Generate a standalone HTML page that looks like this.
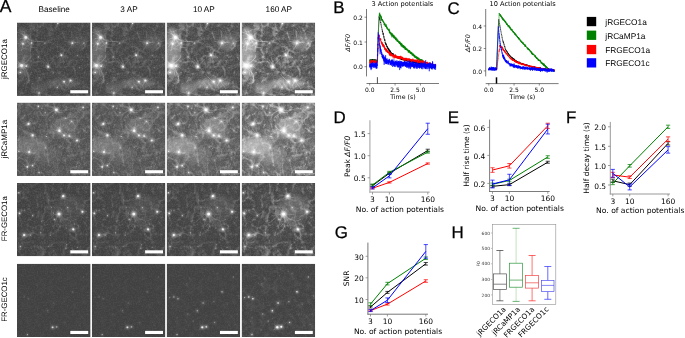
<!DOCTYPE html>
<html lang="en"><head><meta charset="utf-8"><title>Figure</title>
<style>html,body{margin:0;padding:0;background:#fff;overflow:hidden}svg{display:block;will-change:transform}</style></head>
<body><svg width="685" height="338" viewBox="0 0 685 338" text-rendering="geometricPrecision">
<rect width="685" height="338" fill="#fff"/>
<defs>
<filter id="b1" filterUnits="userSpaceOnUse" x="-40" y="-40" width="160" height="160"><feGaussianBlur stdDeviation="0.55"/></filter>
<filter id="b2" filterUnits="userSpaceOnUse" x="-40" y="-40" width="160" height="160"><feGaussianBlur stdDeviation="1.1"/></filter>
<filter id="b3" filterUnits="userSpaceOnUse" x="-40" y="-40" width="160" height="160"><feGaussianBlur stdDeviation="1.8"/></filter>
<filter id="b4" filterUnits="userSpaceOnUse" x="-40" y="-40" width="160" height="160"><feGaussianBlur stdDeviation="3.6"/></filter>
<filter id="b6" filterUnits="userSpaceOnUse" x="-40" y="-40" width="160" height="160"><feGaussianBlur stdDeviation="6"/></filter>
<filter id="nz0" x="0" y="0" width="100%" height="100%" color-interpolation-filters="sRGB"><feTurbulence type="fractalNoise" baseFrequency="0.7" numOctaves="2" seed="2"/><feColorMatrix type="matrix" values="0 0 0 0 1  0 0 0 0 1  0 0 0 0 1  0.7 0 0 0 -0.27"/></filter>
<filter id="nc0" x="0" y="0" width="100%" height="100%" color-interpolation-filters="sRGB"><feTurbulence type="fractalNoise" baseFrequency="0.22" numOctaves="3" seed="11"/><feColorMatrix type="matrix" values="0 0 0 0 1  0 0 0 0 1  0 0 0 0 1  2.0 0 0 0 -0.8"/></filter>
<filter id="nz1" x="0" y="0" width="100%" height="100%" color-interpolation-filters="sRGB"><feTurbulence type="fractalNoise" baseFrequency="0.7" numOctaves="2" seed="3"/><feColorMatrix type="matrix" values="0 0 0 0 1  0 0 0 0 1  0 0 0 0 1  0.7 0 0 0 -0.27"/></filter>
<filter id="nc1" x="0" y="0" width="100%" height="100%" color-interpolation-filters="sRGB"><feTurbulence type="fractalNoise" baseFrequency="0.22" numOctaves="3" seed="12"/><feColorMatrix type="matrix" values="0 0 0 0 1  0 0 0 0 1  0 0 0 0 1  2.0 0 0 0 -0.8"/></filter>
<filter id="nz2" x="0" y="0" width="100%" height="100%" color-interpolation-filters="sRGB"><feTurbulence type="fractalNoise" baseFrequency="0.7" numOctaves="2" seed="4"/><feColorMatrix type="matrix" values="0 0 0 0 1  0 0 0 0 1  0 0 0 0 1  0.7 0 0 0 -0.27"/></filter>
<filter id="nc2" x="0" y="0" width="100%" height="100%" color-interpolation-filters="sRGB"><feTurbulence type="fractalNoise" baseFrequency="0.22" numOctaves="3" seed="13"/><feColorMatrix type="matrix" values="0 0 0 0 1  0 0 0 0 1  0 0 0 0 1  2.0 0 0 0 -0.8"/></filter>
<filter id="nz3" x="0" y="0" width="100%" height="100%" color-interpolation-filters="sRGB"><feTurbulence type="fractalNoise" baseFrequency="0.7" numOctaves="2" seed="5"/><feColorMatrix type="matrix" values="0 0 0 0 1  0 0 0 0 1  0 0 0 0 1  0.7 0 0 0 -0.27"/></filter>
<filter id="nc3" x="0" y="0" width="100%" height="100%" color-interpolation-filters="sRGB"><feTurbulence type="fractalNoise" baseFrequency="0.22" numOctaves="3" seed="14"/><feColorMatrix type="matrix" values="0 0 0 0 1  0 0 0 0 1  0 0 0 0 1  2.0 0 0 0 -0.8"/></filter>
<filter id="wb0" x="0" y="0" width="100%" height="100%" color-interpolation-filters="sRGB"><feTurbulence type="turbulence" baseFrequency="0.085" numOctaves="4" seed="21"/><feColorMatrix type="matrix" values="0 0 0 0 1  0 0 0 0 1  0 0 0 0 1  -3.2 0 0 0 0.75"/><feGaussianBlur stdDeviation="0.55"/></filter>
<filter id="wb1" x="0" y="0" width="100%" height="100%" color-interpolation-filters="sRGB"><feTurbulence type="turbulence" baseFrequency="0.085" numOctaves="4" seed="28"/><feColorMatrix type="matrix" values="0 0 0 0 1  0 0 0 0 1  0 0 0 0 1  -3.2 0 0 0 0.75"/><feGaussianBlur stdDeviation="0.55"/></filter>
<filter id="wb2" x="0" y="0" width="100%" height="100%" color-interpolation-filters="sRGB"><feTurbulence type="turbulence" baseFrequency="0.085" numOctaves="4" seed="35"/><feColorMatrix type="matrix" values="0 0 0 0 1  0 0 0 0 1  0 0 0 0 1  -3.2 0 0 0 0.75"/><feGaussianBlur stdDeviation="0.55"/></filter>
<filter id="wb3" x="0" y="0" width="100%" height="100%" color-interpolation-filters="sRGB"><feTurbulence type="turbulence" baseFrequency="0.085" numOctaves="4" seed="42"/><feColorMatrix type="matrix" values="0 0 0 0 1  0 0 0 0 1  0 0 0 0 1  -3.2 0 0 0 0.75"/><feGaussianBlur stdDeviation="0.55"/></filter>
</defs>
<defs>
<clipPath id="pc"><rect x="0" y="0" width="73" height="73"/></clipPath>
<filter id="b0" filterUnits="userSpaceOnUse" x="-40" y="-40" width="160" height="160"><feGaussianBlur stdDeviation="0.65"/></filter>
<g id="neu0" fill="none" stroke="#fff" stroke-linecap="round" filter="url(#b0)">
<path d="M8.7,14.8L7.2,13.5L5.8,12.1" stroke-width="0.59" opacity="0.89"/>
<path d="M8.7,14.8L8.2,16.7L7.7,18.7" stroke-width="0.63" opacity="0.89"/>
<path d="M8.7,14.8L7.2,16.1L6.3,17.9L5.5,19.8" stroke-width="0.60" opacity="0.89"/>
<path d="M8.7,14.8L7.3,13.3L6.1,11.7L4.4,10.7L2.5,10.2L0.6,9.6L-1.4,9.3L-3.4,9.2" stroke-width="0.58" opacity="0.89"/>
<path d="M8.7,14.8L8.1,16.7L7.3,18.5L6.4,20.3L6.0,22.3L5.1,24.1L4.8,26.1L4.4,28.0" stroke-width="0.63" opacity="0.89"/>
<path d="M8.7,14.8L6.8,15.3L4.8,15.8L2.9,16.3" stroke-width="0.57" opacity="0.89"/>
<path d="M8.7,14.8L8.2,12.9L7.5,11.0L6.9,9.1" stroke-width="0.57" opacity="0.89"/>
<path d="M8.7,14.8L9.2,16.7L10.3,18.4L11.2,20.2L12.2,21.9L13.4,23.5L15.0,24.7L17.0,25.0L19.0,25.0" stroke-width="0.54" opacity="0.89"/>
<path d="M8.7,14.8L10.5,15.6L12.3,16.6L14.1,17.4L16.1,17.7" stroke-width="0.51" opacity="0.89"/>
<path d="M8.7,14.8L10.4,15.9L12.0,17.1L13.9,17.7L15.8,18.4L17.7,19.0L19.6,18.8L21.6,18.9L23.6,19.0L25.6,19.4" stroke-width="0.61" opacity="0.89"/>
<path d="M8.7,14.8L10.7,14.8L12.0,16.3L13.6,17.5L14.8,19.1L14.8,21.1L14.2,23.1L13.8,25.0L13.4,27.0L13.5,29.0" stroke-width="0.56" opacity="0.89"/>
<path d="M8.7,14.8L7.8,16.6L6.4,18.0L5.3,19.6L4.0,21.2L2.7,22.7L1.6,24.3" stroke-width="0.54" opacity="0.89"/>
<path d="M5.9,21.2L5.4,23.1L5.6,25.1L5.6,27.1" stroke-width="0.42" opacity="0.71"/>
<path d="M5.9,21.2L7.7,22.1L9.4,23.1L11.4,23.1" stroke-width="0.50" opacity="0.71"/>
<path d="M5.9,21.2L4.0,20.4L2.1,20.7L0.1,20.8L-1.8,21.5" stroke-width="0.52" opacity="0.71"/>
<path d="M5.9,21.2L7.7,20.3L9.6,19.8L11.4,18.8L13.1,17.8L14.8,16.7" stroke-width="0.52" opacity="0.71"/>
<path d="M14.4,20.5L12.8,21.7L11.2,22.9L9.5,24.0L7.9,25.1" stroke-width="0.47" opacity="0.65"/>
<path d="M14.4,20.5L14.3,18.5L13.7,16.6L13.7,14.6L12.9,12.7" stroke-width="0.50" opacity="0.65"/>
<path d="M14.4,20.5L15.9,19.2L17.4,17.8L19.2,17.1" stroke-width="0.44" opacity="0.65"/>
<path d="M14.4,20.5L14.1,18.5" stroke-width="0.42" opacity="0.65"/>
<path d="M54.9,20.5L52.9,20.1L51.0,19.6L49.1,19.0L47.1,18.6" stroke-width="0.51" opacity="0.71"/>
<path d="M54.9,20.5L54.3,22.4L53.2,24.1L52.2,25.8L50.7,27.2" stroke-width="0.46" opacity="0.71"/>
<path d="M54.9,20.5L54.3,18.6" stroke-width="0.49" opacity="0.71"/>
<path d="M54.9,20.5L54.1,22.3L53.6,24.3" stroke-width="0.43" opacity="0.71"/>
<path d="M54.9,20.5L56.9,20.1L58.8,19.6L60.8,19.5L62.8,19.5" stroke-width="0.46" opacity="0.71"/>
<path d="M66.3,20.5L66.8,22.4L67.7,24.2" stroke-width="0.41" opacity="0.62"/>
<path d="M66.3,20.5L64.4,21.1L62.6,21.9" stroke-width="0.41" opacity="0.62"/>
<path d="M66.3,20.5L64.9,22.0L64.0,23.7L63.3,25.6" stroke-width="0.44" opacity="0.62"/>
<path d="M44.0,32.6L43.0,30.8L41.5,29.6L40.3,28.0" stroke-width="0.51" opacity="0.71"/>
<path d="M44.0,32.6L43.4,30.7L43.3,28.7L43.6,26.7" stroke-width="0.44" opacity="0.71"/>
<path d="M44.0,32.6L42.3,33.7L40.3,33.6L38.5,32.8" stroke-width="0.43" opacity="0.71"/>
<path d="M44.0,32.6L44.6,34.5L45.1,36.4L46.4,38.0L47.2,39.8" stroke-width="0.43" opacity="0.71"/>
<path d="M44.0,32.6L46.0,32.6L47.9,33.3L49.7,34.1L51.3,35.4" stroke-width="0.49" opacity="0.71"/>
<path d="M21.2,34.2L22.7,35.5L23.7,37.2" stroke-width="0.43" opacity="0.62"/>
<path d="M21.2,34.2L20.9,36.2L20.9,38.2L21.0,40.2" stroke-width="0.46" opacity="0.62"/>
<path d="M21.2,34.2L19.4,35.0L17.6,36.0L15.9,37.0" stroke-width="0.41" opacity="0.62"/>
<path d="M4.6,42.8L2.6,42.4" stroke-width="0.61" opacity="0.95"/>
<path d="M4.6,42.8L3.6,41.1L2.2,39.7L0.7,38.3L-0.9,37.1L-2.5,35.9L-4.4,35.2L-6.3,34.5" stroke-width="0.59" opacity="0.95"/>
<path d="M4.6,42.8L4.6,44.8L6.1,46.2L7.3,47.8L7.8,49.7L8.1,51.7L8.6,53.6" stroke-width="0.53" opacity="0.95"/>
<path d="M4.6,42.8L6.6,42.5L8.6,42.2L10.6,42.1" stroke-width="0.59" opacity="0.95"/>
<path d="M4.6,42.8L6.2,41.6L7.7,40.3L9.4,39.2L10.9,37.9L12.4,36.5L13.5,34.9L13.7,32.9" stroke-width="0.67" opacity="0.95"/>
<path d="M4.6,42.8L2.8,41.9L0.9,41.5L-1.0,40.8L-2.6,39.6L-4.4,38.6L-6.1,37.5L-7.9,36.7L-9.2,35.2L-10.6,33.8" stroke-width="0.53" opacity="0.95"/>
<path d="M4.6,42.8L2.8,43.6L1.1,44.6L-0.9,45.2L-2.6,46.2L-4.4,47.0" stroke-width="0.56" opacity="0.95"/>
<path d="M4.6,42.8L3.1,41.5L1.8,40.0L0.0,39.0L-2.0,39.2L-3.9,39.3" stroke-width="0.68" opacity="0.95"/>
<path d="M4.6,42.8L2.6,42.4L1.0,41.3L-0.5,40.0L-2.3,39.0L-4.0,38.0L-6.0,37.9L-7.7,36.9L-8.6,35.1" stroke-width="0.55" opacity="0.95"/>
<path d="M4.6,42.8L6.4,43.7L7.9,45.0L8.8,46.8L9.6,48.6L10.0,50.6L10.3,52.6" stroke-width="0.66" opacity="0.95"/>
<path d="M4.6,42.8L2.6,43.2L0.8,44.0L-0.9,45.0L-2.5,46.2L-4.2,47.3L-5.8,48.5L-7.6,49.3" stroke-width="0.62" opacity="0.95"/>
<path d="M4.6,42.8L5.4,44.6L6.8,46.1L7.8,47.8L9.2,49.2L10.8,50.5L11.5,52.4L11.8,54.4L11.9,56.4L12.3,58.3L11.3,60.0" stroke-width="0.51" opacity="0.95"/>
<path d="M4.6,42.8L3.1,41.5L1.7,40.1L0.7,38.3L0.4,36.4L0.2,34.4L0.3,32.4L0.4,30.4" stroke-width="0.55" opacity="0.95"/>
<path d="M4.6,42.8L2.6,42.6L0.7,43.1" stroke-width="0.51" opacity="0.95"/>
<path d="M9.3,43.3L10.0,41.4" stroke-width="0.50" opacity="0.71"/>
<path d="M9.3,43.3L11.3,43.3L12.7,44.7L14.3,46.0L16.0,47.0" stroke-width="0.53" opacity="0.71"/>
<path d="M9.3,43.3L7.4,43.9L5.5,44.4" stroke-width="0.44" opacity="0.71"/>
<path d="M9.3,43.3L7.7,44.4L5.8,45.3L4.3,46.5L2.8,47.9L1.4,49.3" stroke-width="0.42" opacity="0.71"/>
<path d="M9.3,43.3L7.4,42.6L5.5,42.1L3.5,41.7L1.7,40.8L-0.1,40.0" stroke-width="0.44" opacity="0.71"/>
<path d="M31.0,44.0L30.7,42.0L30.8,40.0L30.5,38.0L29.5,36.3L29.8,34.4" stroke-width="0.46" opacity="0.74"/>
<path d="M31.0,44.0L32.8,44.9L34.4,46.1" stroke-width="0.56" opacity="0.74"/>
<path d="M31.0,44.0L32.4,42.6L33.3,40.8L34.7,39.3L36.2,38.0L37.8,36.9" stroke-width="0.49" opacity="0.74"/>
<path d="M31.0,44.0L30.5,42.1L29.7,40.2L28.3,38.8L27.3,37.1" stroke-width="0.50" opacity="0.74"/>
<path d="M31.0,44.0L31.1,42.0L31.4,40.0L31.9,38.1" stroke-width="0.53" opacity="0.74"/>
<path d="M3.4,49.7L4.3,47.9" stroke-width="0.47" opacity="0.68"/>
<path d="M3.4,49.7L1.7,50.7L-0.2,51.3" stroke-width="0.49" opacity="0.68"/>
<path d="M3.4,49.7L1.5,49.0L-0.4,49.4" stroke-width="0.51" opacity="0.68"/>
<path d="M3.4,49.7L1.4,49.3" stroke-width="0.49" opacity="0.68"/>
<path d="M46.7,58.8L47.6,60.6L47.8,62.6L48.2,64.5" stroke-width="0.54" opacity="0.74"/>
<path d="M46.7,58.8L44.9,57.9L43.4,56.6L42.0,55.2L40.6,53.7L39.4,52.1" stroke-width="0.54" opacity="0.74"/>
<path d="M46.7,58.8L44.8,59.3" stroke-width="0.49" opacity="0.74"/>
<path d="M46.7,58.8L47.5,60.6L49.4,61.3" stroke-width="0.52" opacity="0.74"/>
<path d="M46.7,58.8L47.3,60.7L48.6,62.3L50.0,63.7L51.4,65.1" stroke-width="0.54" opacity="0.74"/>
<path d="M53.1,57.6L54.9,58.6L56.3,60.0L58.1,60.8" stroke-width="0.50" opacity="0.74"/>
<path d="M53.1,57.6L51.3,56.8L49.7,55.6L47.8,55.0L45.8,54.8" stroke-width="0.45" opacity="0.74"/>
<path d="M53.1,57.6L52.2,59.4L51.5,61.2L50.5,63.0" stroke-width="0.55" opacity="0.74"/>
<path d="M53.1,57.6L53.9,59.4L55.1,61.0L56.4,62.5L57.4,64.2L58.7,65.8" stroke-width="0.54" opacity="0.74"/>
<path d="M53.1,57.6L51.9,59.2L51.0,61.0L50.1,62.8" stroke-width="0.54" opacity="0.74"/>
<path d="M53.1,57.6L55.1,57.9L57.0,57.4L58.4,56.0L59.9,54.7" stroke-width="0.53" opacity="0.74"/>
<path d="M40.1,64.5L40.7,62.6L41.5,60.8" stroke-width="0.43" opacity="0.62"/>
<path d="M40.1,64.5L41.4,63.0L42.5,61.3" stroke-width="0.46" opacity="0.62"/>
<path d="M40.1,64.5L39.3,62.7L38.1,61.0L36.8,59.5L35.5,58.0" stroke-width="0.48" opacity="0.62"/>
<path d="M40.1,64.5L39.1,66.2L38.5,68.1L37.7,70.0L36.2,71.3" stroke-width="0.40" opacity="0.62"/>
<path d="M21.9,70.2L19.9,70.4L18.0,69.9L16.0,69.5L14.1,69.0" stroke-width="0.49" opacity="0.65"/>
<path d="M21.9,70.2L21.6,72.2L21.8,74.2L22.4,76.1L23.1,78.0" stroke-width="0.49" opacity="0.65"/>
<path d="M21.9,70.2L22.8,72.0L23.2,73.9L23.8,75.9L24.6,77.7" stroke-width="0.45" opacity="0.65"/>
<path d="M21.9,70.2L23.9,69.8L25.7,70.6L27.5,71.4L29.4,72.0" stroke-width="0.50" opacity="0.65"/>
<path d="M21.9,70.2L21.8,68.2L20.7,66.5L20.2,64.6" stroke-width="0.41" opacity="0.65"/>
<path d="M27.6,20.5L29.4,19.7L31.4,19.5L33.4,20.0L35.3,19.7" stroke-width="0.40" opacity="0.59"/>
<path d="M27.6,20.5L25.8,21.4L24.3,22.7L22.5,23.6" stroke-width="0.43" opacity="0.59"/>
<path d="M27.6,20.5L26.0,21.7L25.1,23.5" stroke-width="0.45" opacity="0.59"/>
<path d="M40.5,0.7L42.3,-0.1L44.2,-0.9" stroke-width="0.43" opacity="0.65"/>
<path d="M40.5,0.7L39.5,2.4L38.3,4.1L36.9,5.5" stroke-width="0.45" opacity="0.65"/>
<path d="M40.5,0.7L40.5,2.7L39.6,4.5L38.3,6.0" stroke-width="0.46" opacity="0.65"/>
<path d="M40.5,0.7L38.8,-0.3L37.0,-1.2L35.0,-1.7" stroke-width="0.41" opacity="0.65"/>
<path d="M40.5,0.7L39.5,2.4L38.9,4.3L38.0,6.1" stroke-width="0.45" opacity="0.65"/>
<path d="M52.6,43.7L50.6,44.0L48.6,44.0L46.6,43.9L44.6,43.9L42.7,43.4L40.7,43.6L38.8,44.2L36.8,44.4" stroke-width="0.60" opacity="0.22"/>
<path d="M33.7,54.9L35.6,55.3L37.6,55.2L39.6,55.1L41.6,54.9L43.6,55.1L45.6,55.5L47.3,56.4L49.3,56.5L51.2,55.8L53.1,55.0L54.6,53.8" stroke-width="0.60" opacity="0.22"/>
<path d="M35.9,67.1L35.6,65.2L35.9,63.2L36.5,61.3L38.3,60.5" stroke-width="0.60" opacity="0.22"/>
<path d="M54.9,5.9L56.9,5.3L58.8,5.8L60.7,5.4L62.7,5.0L64.7,5.3" stroke-width="0.60" opacity="0.22"/>
<path d="M59.8,12.1L58.9,10.3L58.2,8.4L58.2,6.4L57.4,4.6L56.1,3.0L56.1,1.0L55.9,-1.0L55.1,-2.8" stroke-width="0.60" opacity="0.22"/>
<path d="M40.4,68.0L41.9,69.3L43.4,70.7L45.3,71.0L47.3,70.7L49.2,71.3" stroke-width="0.60" opacity="0.22"/>
<path d="M27.2,4.1L26.6,2.2L25.9,0.3L25.4,-1.6L26.0,-3.5L27.8,-4.2L29.8,-4.3L31.7,-3.6L33.6,-3.0L35.6,-2.8" stroke-width="0.60" opacity="0.22"/>
<path d="M48.1,17.4L47.3,15.6L46.8,13.7L46.2,11.7L45.6,9.8L45.1,7.9L43.4,6.8L41.5,6.1L39.6,5.5" stroke-width="0.60" opacity="0.22"/>
<path d="M14.0,0.5L13.5,-1.5L12.6,-3.2L12.5,-5.2L11.4,-6.9L9.8,-8.1" stroke-width="0.60" opacity="0.22"/>
<path d="M17.2,11.4L15.5,10.4L13.9,9.1L12.9,7.4L11.9,5.6L11.1,3.8L9.5,2.6L8.0,1.3L6.4,0.0L5.0,-1.4L3.1,-2.1L1.2,-2.8" stroke-width="0.60" opacity="0.22"/>
<path d="M13.5,70.4L15.4,69.8L17.4,69.9L19.3,69.1L21.1,68.2L23.0,67.9" stroke-width="0.60" opacity="0.22"/>
<path d="M30.9,11.2L31.9,12.9L32.7,14.7L34.2,16.1L35.9,17.0L37.3,18.5L38.5,20.1L40.2,21.2L42.0,22.0L43.8,22.8" stroke-width="0.60" opacity="0.22"/>
<path d="M31.5,53.9L31.8,55.9L32.0,57.8L31.8,59.8L30.9,61.6L29.7,63.2L28.7,64.9L27.6,66.6" stroke-width="0.60" opacity="0.22"/>
<path d="M62.1,49.3L61.0,47.6L60.1,45.8L58.8,44.3L57.8,42.6" stroke-width="0.60" opacity="0.22"/>
<path d="M21.0,58.2L21.1,60.2L22.0,62.0L22.8,63.8L24.7,64.7" stroke-width="0.60" opacity="0.22"/>
<path d="M50.6,58.9L51.9,57.3L53.3,55.9L54.6,54.4L55.5,52.6" stroke-width="0.60" opacity="0.22"/>
<path d="M45.0,31.7L44.2,33.5L43.7,35.5L42.8,37.3L41.8,39.0L40.6,40.6L39.4,42.1L38.0,43.6" stroke-width="0.60" opacity="0.22"/>
<path d="M60.3,15.7L58.8,14.3L58.0,12.5L57.5,10.6L56.7,8.8L56.2,6.8L55.0,5.2L53.5,3.8L51.5,3.9L49.5,4.0" stroke-width="0.60" opacity="0.22"/>
<path d="M14.7,18.5L16.5,17.7L18.2,16.7L19.8,15.4L20.9,13.7L21.6,11.9L22.5,10.1L23.0,8.1L24.3,6.6L25.4,5.0L26.9,3.7L28.7,2.8" stroke-width="0.60" opacity="0.22"/>
<path d="M8.1,67.5L8.7,65.6L9.5,63.7L9.5,61.7L9.2,59.8L8.7,57.8L9.1,55.8L10.5,54.4L12.0,53.1" stroke-width="0.60" opacity="0.22"/>
<path d="M60.5,18.0L59.2,16.5L57.8,15.1L56.5,13.6L55.6,11.8L54.9,9.9L53.7,8.3L52.5,6.7L51.0,5.4L49.9,3.7L49.1,1.9L48.5,-0.0" stroke-width="0.60" opacity="0.22"/>
<path d="M4.2,38.8L5.7,37.4L7.6,37.1L9.6,36.8L11.5,36.1L13.1,34.9" stroke-width="0.60" opacity="0.22"/>
<path d="M40.0,13.8L41.8,14.8L43.3,16.1L45.0,17.1L46.6,18.4L46.7,20.4" stroke-width="0.60" opacity="0.22"/>
<path d="M72.3,28.8L71.3,27.1L69.9,25.6L68.5,24.2L67.5,22.5L67.1,20.5L66.6,18.6L66.8,16.6L67.6,14.8L68.6,13.0L69.9,11.5L71.4,10.2" stroke-width="0.60" opacity="0.22"/>
<path d="M22.7,33.9L21.9,35.7L22.0,37.7L23.0,39.4L24.0,41.2L23.7,43.1L22.2,44.4L20.7,45.8L18.9,46.7" stroke-width="0.60" opacity="0.22"/>
<path d="M3.4,26.6L4.3,28.4L4.4,30.3L4.8,32.3L5.8,34.1L6.9,35.7" stroke-width="0.60" opacity="0.22"/>
</g>
<g id="sp0" fill="#fff">
<g filter="url(#b2)">
<circle cx="8.7" cy="14.8" r="2.34" opacity="0.55"/>
<circle cx="5.9" cy="21.2" r="1.56" opacity="0.50"/>
<circle cx="14.4" cy="20.5" r="1.30" opacity="0.44"/>
<circle cx="54.9" cy="20.5" r="1.56" opacity="0.50"/>
<circle cx="66.3" cy="20.5" r="1.17" opacity="0.28"/>
<circle cx="44" cy="32.6" r="1.56" opacity="0.50"/>
<circle cx="21.2" cy="34.2" r="1.17" opacity="0.28"/>
<circle cx="4.6" cy="42.8" r="2.60" opacity="0.55"/>
<circle cx="9.3" cy="43.3" r="1.56" opacity="0.44"/>
<circle cx="31" cy="44" r="1.69" opacity="0.50"/>
<circle cx="3.4" cy="49.7" r="1.43" opacity="0.44"/>
<circle cx="46.7" cy="58.8" r="1.69" opacity="0.50"/>
<circle cx="53.1" cy="57.6" r="1.69" opacity="0.50"/>
<circle cx="40.1" cy="64.5" r="1.17" opacity="0.28"/>
<circle cx="21.9" cy="70.2" r="1.30" opacity="0.44"/>
<circle cx="27.6" cy="20.5" r="1.04" opacity="0.28"/>
<circle cx="40.5" cy="0.7" r="1.30" opacity="0.44"/>
<circle cx="60" cy="33" r="1.04" opacity="0.22"/>
<circle cx="36" cy="50" r="1.04" opacity="0.19"/>
<circle cx="62" cy="45" r="1.04" opacity="0.19"/>
<circle cx="22" cy="55" r="1.04" opacity="0.22"/>
<circle cx="48.7" cy="32.7" r="0.98" opacity="0.07"/>
<circle cx="58.4" cy="37.8" r="0.77" opacity="0.07"/>
<circle cx="71.3" cy="1.4" r="0.95" opacity="0.14"/>
<circle cx="27.8" cy="33.1" r="1.01" opacity="0.10"/>
<circle cx="70.2" cy="35.1" r="0.69" opacity="0.15"/>
<circle cx="16.0" cy="37.0" r="0.77" opacity="0.15"/>
<circle cx="59.8" cy="15.4" r="0.90" opacity="0.08"/>
<circle cx="30.2" cy="7.3" r="0.70" opacity="0.09"/>
<circle cx="34.8" cy="6.0" r="0.74" opacity="0.07"/>
<circle cx="64.8" cy="36.9" r="0.72" opacity="0.16"/>
<circle cx="39.5" cy="3.7" r="0.86" opacity="0.13"/>
<circle cx="57.8" cy="55.3" r="0.75" opacity="0.16"/>
<circle cx="34.1" cy="18.2" r="0.86" opacity="0.10"/>
<circle cx="15.5" cy="60.5" r="1.01" opacity="0.15"/>
<circle cx="31.7" cy="47.5" r="0.99" opacity="0.07"/>
<circle cx="30.1" cy="42.7" r="1.03" opacity="0.14"/>
<circle cx="46.2" cy="14.4" r="0.77" opacity="0.08"/>
<circle cx="22.6" cy="47.7" r="1.03" opacity="0.07"/>
<circle cx="23.2" cy="4.2" r="0.99" opacity="0.13"/>
<circle cx="59.7" cy="60.7" r="0.72" opacity="0.11"/>
<circle cx="39.8" cy="34.6" r="0.94" opacity="0.15"/>
<circle cx="17.7" cy="7.9" r="0.88" opacity="0.09"/>
<circle cx="59.7" cy="31.3" r="0.92" opacity="0.10"/>
<circle cx="8.3" cy="20.4" r="0.72" opacity="0.09"/>
<circle cx="39.7" cy="24.1" r="0.94" opacity="0.13"/>
</g><g filter="url(#b1)">
<circle cx="8.7" cy="14.8" r="1.35" opacity="1.00"/>
<circle cx="5.9" cy="21.2" r="0.90" opacity="0.90"/>
<circle cx="14.4" cy="20.5" r="0.75" opacity="0.80"/>
<circle cx="54.9" cy="20.5" r="0.90" opacity="0.90"/>
<circle cx="66.3" cy="20.5" r="0.68" opacity="0.50"/>
<circle cx="44" cy="32.6" r="0.90" opacity="0.90"/>
<circle cx="21.2" cy="34.2" r="0.68" opacity="0.50"/>
<circle cx="4.6" cy="42.8" r="1.50" opacity="1.00"/>
<circle cx="9.3" cy="43.3" r="0.90" opacity="0.80"/>
<circle cx="31" cy="44" r="0.98" opacity="0.90"/>
<circle cx="3.4" cy="49.7" r="0.83" opacity="0.80"/>
<circle cx="46.7" cy="58.8" r="0.98" opacity="0.90"/>
<circle cx="53.1" cy="57.6" r="0.98" opacity="0.90"/>
<circle cx="40.1" cy="64.5" r="0.68" opacity="0.50"/>
<circle cx="21.9" cy="70.2" r="0.75" opacity="0.80"/>
<circle cx="27.6" cy="20.5" r="0.60" opacity="0.50"/>
<circle cx="40.5" cy="0.7" r="0.75" opacity="0.80"/>
<circle cx="60" cy="33" r="0.60" opacity="0.40"/>
<circle cx="36" cy="50" r="0.60" opacity="0.35"/>
<circle cx="62" cy="45" r="0.60" opacity="0.35"/>
<circle cx="22" cy="55" r="0.60" opacity="0.40"/>
<circle cx="48.7" cy="32.7" r="0.56" opacity="0.13"/>
<circle cx="58.4" cy="37.8" r="0.44" opacity="0.13"/>
<circle cx="71.3" cy="1.4" r="0.55" opacity="0.25"/>
<circle cx="27.8" cy="33.1" r="0.58" opacity="0.19"/>
<circle cx="70.2" cy="35.1" r="0.40" opacity="0.27"/>
<circle cx="16.0" cy="37.0" r="0.44" opacity="0.27"/>
<circle cx="59.8" cy="15.4" r="0.52" opacity="0.14"/>
<circle cx="30.2" cy="7.3" r="0.41" opacity="0.16"/>
<circle cx="34.8" cy="6.0" r="0.43" opacity="0.12"/>
<circle cx="64.8" cy="36.9" r="0.41" opacity="0.29"/>
<circle cx="39.5" cy="3.7" r="0.49" opacity="0.24"/>
<circle cx="57.8" cy="55.3" r="0.43" opacity="0.29"/>
<circle cx="34.1" cy="18.2" r="0.49" opacity="0.19"/>
<circle cx="15.5" cy="60.5" r="0.58" opacity="0.27"/>
<circle cx="31.7" cy="47.5" r="0.57" opacity="0.13"/>
<circle cx="30.1" cy="42.7" r="0.59" opacity="0.25"/>
<circle cx="46.2" cy="14.4" r="0.44" opacity="0.15"/>
<circle cx="22.6" cy="47.7" r="0.59" opacity="0.12"/>
<circle cx="23.2" cy="4.2" r="0.57" opacity="0.24"/>
<circle cx="59.7" cy="60.7" r="0.41" opacity="0.20"/>
<circle cx="39.8" cy="34.6" r="0.54" opacity="0.27"/>
<circle cx="17.7" cy="7.9" r="0.51" opacity="0.16"/>
<circle cx="59.7" cy="31.3" r="0.53" opacity="0.18"/>
<circle cx="8.3" cy="20.4" r="0.41" opacity="0.16"/>
<circle cx="39.7" cy="24.1" r="0.54" opacity="0.24"/>
</g></g>
<g id="hl0" fill="#fff" filter="url(#b2)">
<circle cx="8.7" cy="14.8" r="2.70" opacity="1.00"/>
<circle cx="5.9" cy="21.2" r="1.80" opacity="0.90"/>
<circle cx="14.4" cy="20.5" r="1.50" opacity="0.80"/>
<circle cx="54.9" cy="20.5" r="1.80" opacity="0.90"/>
<circle cx="66.3" cy="20.5" r="1.35" opacity="0.50"/>
<circle cx="44" cy="32.6" r="1.80" opacity="0.90"/>
<circle cx="21.2" cy="34.2" r="1.35" opacity="0.50"/>
<circle cx="4.6" cy="42.8" r="3.00" opacity="1.00"/>
<circle cx="9.3" cy="43.3" r="1.80" opacity="0.80"/>
<circle cx="31" cy="44" r="1.95" opacity="0.90"/>
<circle cx="3.4" cy="49.7" r="1.65" opacity="0.80"/>
<circle cx="46.7" cy="58.8" r="1.95" opacity="0.90"/>
<circle cx="53.1" cy="57.6" r="1.95" opacity="0.90"/>
<circle cx="40.1" cy="64.5" r="1.35" opacity="0.50"/>
<circle cx="21.9" cy="70.2" r="1.50" opacity="0.80"/>
<circle cx="27.6" cy="20.5" r="1.20" opacity="0.50"/>
<circle cx="40.5" cy="0.7" r="1.50" opacity="0.80"/>
</g>
<g id="bl0" fill="#fff" filter="url(#b6)">
<ellipse cx="6" cy="30" rx="8" ry="24" opacity="0.32"/>
<ellipse cx="45" cy="61" rx="18" ry="5" opacity="0.30"/>
<ellipse cx="60" cy="20" rx="9" ry="8" opacity="0.20"/>
<ellipse cx="22" cy="66" rx="8" ry="6" opacity="0.25"/>
</g>
<g id="bd0" fill="none" stroke="#fff" stroke-linecap="round" stroke-linejoin="round" filter="url(#b4)">
<path d="M2,8 L8,15 L5,30 L4,43 L8,55 L14,68" stroke-width="6" opacity="0.45"/>
<path d="M22,62 L40,60 L55,57 L66,62" stroke-width="4" opacity="0.35"/>
<path d="M8,15 L22,24 L34,30" stroke-width="3" opacity="0.30"/>
<path d="M55,20 L48,32 L44,44" stroke-width="3" opacity="0.25"/>
<path d="M4,43 L20,48 L31,44" stroke-width="3" opacity="0.30"/>
<path d="M55,20 L66,14 L73,6" stroke-width="3" opacity="0.25"/>
</g>
<g id="tb0" fill="#fff" filter="url(#b3)">
<ellipse cx="6" cy="30" rx="8" ry="24" opacity="0.32"/>
<ellipse cx="45" cy="61" rx="18" ry="5" opacity="0.30"/>
<ellipse cx="60" cy="20" rx="9" ry="8" opacity="0.20"/>
<ellipse cx="22" cy="66" rx="8" ry="6" opacity="0.25"/>
</g>
<g id="neu1" fill="none" stroke="#fff" stroke-linecap="round" filter="url(#b0)">
<path d="M39.0,7.1L38.3,5.2L37.1,3.6L36.3,1.8L35.9,-0.2" stroke-width="0.63" opacity="0.89"/>
<path d="M39.0,7.1L40.5,5.8L41.9,4.3L43.2,2.9" stroke-width="0.52" opacity="0.89"/>
<path d="M39.0,7.1L40.7,8.1L41.9,9.8" stroke-width="0.57" opacity="0.89"/>
<path d="M39.0,7.1L37.8,5.5L36.1,4.5L34.3,3.7L32.3,3.2L30.4,2.6L28.6,1.9" stroke-width="0.59" opacity="0.89"/>
<path d="M39.0,7.1L38.0,8.8L38.0,10.8" stroke-width="0.62" opacity="0.89"/>
<path d="M39.0,7.1L38.4,9.0L37.5,10.8L36.0,12.1L34.4,13.3L32.8,14.5" stroke-width="0.64" opacity="0.89"/>
<path d="M39.0,7.1L41.0,7.2L42.9,7.7L44.9,8.1L46.9,8.1L48.7,7.3L50.7,7.0L52.7,7.4" stroke-width="0.51" opacity="0.89"/>
<path d="M39.0,7.1L37.3,6.0L35.7,4.9L33.8,4.3L31.8,4.2L29.8,3.7" stroke-width="0.60" opacity="0.89"/>
<path d="M39.0,7.1L41.0,6.7L42.3,5.2" stroke-width="0.54" opacity="0.89"/>
<path d="M39.0,7.1L37.1,6.4L35.3,5.6L33.5,4.7L31.5,4.4L29.7,3.6L28.1,2.4L26.8,0.8L25.9,-0.9" stroke-width="0.52" opacity="0.89"/>
<path d="M39.0,7.1L37.1,7.7L35.2,8.5L33.6,9.5L31.8,10.5L30.4,11.9L29.9,13.9L29.4,15.8" stroke-width="0.50" opacity="0.89"/>
<path d="M39.0,7.1L39.8,9.0L41.5,9.9L43.5,10.1L45.5,10.0" stroke-width="0.61" opacity="0.89"/>
<path d="M21.2,3.6L20.7,5.5L20.7,7.5" stroke-width="0.43" opacity="0.65"/>
<path d="M21.2,3.6L19.3,3.1L17.3,2.9L15.4,2.1" stroke-width="0.48" opacity="0.65"/>
<path d="M21.2,3.6L20.8,5.6L19.5,7.1" stroke-width="0.41" opacity="0.65"/>
<path d="M21.2,3.6L19.3,2.9L17.4,2.5" stroke-width="0.50" opacity="0.65"/>
<path d="M65.6,4.8L63.6,4.5L61.8,3.7" stroke-width="0.43" opacity="0.68"/>
<path d="M65.6,4.8L64.5,6.5L63.0,7.8L61.1,8.5" stroke-width="0.47" opacity="0.68"/>
<path d="M65.6,4.8L64.1,6.1L62.2,6.8L60.3,7.4" stroke-width="0.47" opacity="0.68"/>
<path d="M65.6,4.8L67.6,5.2L69.6,5.3" stroke-width="0.51" opacity="0.68"/>
<path d="M48.0,15.5L46.0,15.1L44.2,14.4" stroke-width="0.39" opacity="0.62"/>
<path d="M48.0,15.5L46.6,14.1L45.7,12.3L45.6,10.3L46.0,8.3" stroke-width="0.46" opacity="0.62"/>
<path d="M48.0,15.5L47.2,13.7" stroke-width="0.40" opacity="0.62"/>
<path d="M11.4,21.2L12.1,19.3L12.6,17.4L13.2,15.5" stroke-width="0.44" opacity="0.77"/>
<path d="M11.4,21.2L13.4,21.3L15.3,20.8L17.3,20.6L19.0,19.6L20.5,18.3" stroke-width="0.45" opacity="0.77"/>
<path d="M11.4,21.2L9.7,22.3L7.9,23.0L6.2,24.1" stroke-width="0.44" opacity="0.77"/>
<path d="M11.4,21.2L13.4,20.8" stroke-width="0.58" opacity="0.77"/>
<path d="M11.4,21.2L13.1,20.1L14.5,18.7" stroke-width="0.58" opacity="0.77"/>
<path d="M11.4,21.2L12.3,19.4L13.1,17.6L14.5,16.2" stroke-width="0.57" opacity="0.77"/>
<path d="M54.2,18.5L55.6,19.9L56.6,21.6L57.7,23.3L58.2,25.3" stroke-width="0.45" opacity="0.62"/>
<path d="M54.2,18.5L55.4,20.1L56.3,21.9L57.0,23.8" stroke-width="0.42" opacity="0.62"/>
<path d="M54.2,18.5L56.0,19.3L57.9,19.9L59.8,20.7L61.4,21.9" stroke-width="0.40" opacity="0.62"/>
<path d="M42.1,28.0L41.4,26.1L40.0,24.7L38.4,23.6L36.8,22.4L35.3,21.0" stroke-width="0.48" opacity="0.83"/>
<path d="M42.1,28.0L41.9,26.0L42.4,24.1L43.0,22.2L43.2,20.2L42.6,18.3" stroke-width="0.58" opacity="0.83"/>
<path d="M42.1,28.0L42.4,26.0L43.1,24.2L43.3,22.2" stroke-width="0.48" opacity="0.83"/>
<path d="M42.1,28.0L40.1,28.0L38.1,27.5L36.3,26.9L35.1,25.2L33.7,23.8" stroke-width="0.62" opacity="0.83"/>
<path d="M42.1,28.0L42.1,26.0L41.4,24.1" stroke-width="0.61" opacity="0.83"/>
<path d="M42.1,28.0L40.5,29.2L38.8,30.3L36.8,30.3L34.8,30.3L32.9,29.7L31.2,28.6" stroke-width="0.51" opacity="0.83"/>
<path d="M46.7,32.6L45.6,31.0L44.1,29.6" stroke-width="0.47" opacity="0.74"/>
<path d="M46.7,32.6L48.7,33.0L50.6,32.5L52.3,31.4" stroke-width="0.54" opacity="0.74"/>
<path d="M46.7,32.6L48.2,31.2L49.8,30.1" stroke-width="0.52" opacity="0.74"/>
<path d="M46.7,32.6L48.3,33.8L49.5,35.4L50.6,37.1L51.7,38.7L53.1,40.1" stroke-width="0.43" opacity="0.74"/>
<path d="M46.7,32.6L45.4,31.1L43.5,30.3L42.0,29.0L40.1,28.3" stroke-width="0.52" opacity="0.74"/>
<path d="M51.9,33.3L50.1,34.1L48.1,33.9L46.1,33.5" stroke-width="0.49" opacity="0.68"/>
<path d="M51.9,33.3L53.9,33.5L55.9,33.6L57.9,33.6" stroke-width="0.46" opacity="0.68"/>
<path d="M51.9,33.3L50.3,32.2L48.7,30.9L46.8,30.4" stroke-width="0.44" opacity="0.68"/>
<path d="M51.9,33.3L53.5,34.5L55.1,35.7L56.2,37.4" stroke-width="0.50" opacity="0.68"/>
<path d="M51.9,33.3L50.2,34.4L48.3,35.1L46.6,36.0" stroke-width="0.42" opacity="0.68"/>
<path d="M15.5,32.6L13.6,33.4L11.8,34.0L9.8,34.5" stroke-width="0.56" opacity="0.77"/>
<path d="M15.5,32.6L14.2,34.1" stroke-width="0.49" opacity="0.77"/>
<path d="M15.5,32.6L13.9,31.4L12.4,30.0" stroke-width="0.48" opacity="0.77"/>
<path d="M15.5,32.6L14.3,31.0L13.3,29.2L11.9,27.9L10.8,26.2L10.3,24.2L9.6,22.4" stroke-width="0.46" opacity="0.77"/>
<path d="M15.5,32.6L14.7,30.8" stroke-width="0.55" opacity="0.77"/>
<path d="M15.5,32.6L13.5,32.7L11.6,31.9L9.9,31.0L8.2,29.9L6.5,28.9" stroke-width="0.48" opacity="0.77"/>
<path d="M59.5,37.6L61.5,37.8L63.5,38.2L65.5,38.1" stroke-width="0.43" opacity="0.74"/>
<path d="M59.5,37.6L59.9,39.6L60.9,41.3L61.6,43.1L62.6,44.9" stroke-width="0.51" opacity="0.74"/>
<path d="M59.5,37.6L57.6,38.1L55.7,38.9L53.8,39.5L51.9,40.0" stroke-width="0.49" opacity="0.74"/>
<path d="M59.5,37.6L57.6,38.2" stroke-width="0.46" opacity="0.74"/>
<path d="M59.5,37.6L58.0,38.9L56.2,39.8L54.2,40.2L52.3,39.8L50.5,38.8" stroke-width="0.51" opacity="0.74"/>
<path d="M59.5,37.6L61.4,37.1L63.4,36.8L65.4,36.5L67.2,35.7L69.1,34.9" stroke-width="0.46" opacity="0.74"/>
<path d="M29.2,33.7L27.2,33.5L25.2,33.5L23.3,34.0L21.3,34.1" stroke-width="0.43" opacity="0.59"/>
<path d="M29.2,33.7L27.5,32.7L25.5,32.2L23.9,31.0L22.0,30.4" stroke-width="0.40" opacity="0.59"/>
<path d="M29.2,33.7L27.3,34.5L25.7,35.6L24.3,37.0" stroke-width="0.44" opacity="0.59"/>
<path d="M29.2,33.7L31.1,34.3" stroke-width="0.39" opacity="0.59"/>
<path d="M12.1,49.2L12.9,47.4L14.1,45.8L15.1,44.1" stroke-width="0.45" opacity="0.74"/>
<path d="M12.1,49.2L12.3,47.2L12.2,45.2L11.6,43.3" stroke-width="0.50" opacity="0.74"/>
<path d="M12.1,49.2L10.1,49.4L8.2,49.9L6.2,49.5" stroke-width="0.49" opacity="0.74"/>
<path d="M12.1,49.2L14.0,49.8L15.9,50.5L17.9,50.7L19.7,51.5L21.7,51.3" stroke-width="0.53" opacity="0.74"/>
<path d="M12.1,49.2L10.1,49.0L8.1,49.0" stroke-width="0.47" opacity="0.74"/>
<path d="M1.8,48.5L3.8,48.5" stroke-width="0.42" opacity="0.62"/>
<path d="M1.8,48.5L0.4,49.9" stroke-width="0.40" opacity="0.62"/>
<path d="M1.8,48.5L2.2,46.5L2.2,44.5L2.4,42.6L3.3,40.8" stroke-width="0.40" opacity="0.62"/>
<path d="M10.3,64.0L11.1,62.2" stroke-width="0.42" opacity="0.68"/>
<path d="M10.3,64.0L8.4,63.3L6.8,62.1L5.5,60.6" stroke-width="0.50" opacity="0.68"/>
<path d="M10.3,64.0L11.0,62.1L12.0,60.4" stroke-width="0.49" opacity="0.68"/>
<path d="M10.3,64.0L10.3,66.0L10.5,68.0L10.2,70.0L9.6,71.9" stroke-width="0.50" opacity="0.68"/>
<path d="M10.3,64.0L10.9,62.1L11.7,60.3L13.1,58.8" stroke-width="0.51" opacity="0.68"/>
<path d="M15.5,62.6L14.5,64.4L13.3,65.9" stroke-width="0.43" opacity="0.65"/>
<path d="M15.5,62.6L17.0,61.2L17.5,59.3L18.6,57.7L19.9,56.1" stroke-width="0.45" opacity="0.65"/>
<path d="M15.5,62.6L17.0,63.9L18.5,65.2" stroke-width="0.41" opacity="0.65"/>
<path d="M15.5,62.6L13.5,62.7L11.7,63.5L9.7,63.4L7.7,63.4" stroke-width="0.48" opacity="0.65"/>
<path d="M21.9,69.7L20.5,68.3L18.9,67.0" stroke-width="0.42" opacity="0.62"/>
<path d="M21.9,69.7L23.4,71.0" stroke-width="0.43" opacity="0.62"/>
<path d="M21.9,69.7L21.5,67.7L21.2,65.8L21.1,63.8L19.9,62.2" stroke-width="0.39" opacity="0.62"/>
<path d="M28.0,45.0L30.0,45.2L32.0,45.4" stroke-width="0.41" opacity="0.59"/>
<path d="M28.0,45.0L28.0,43.0" stroke-width="0.39" opacity="0.59"/>
<path d="M28.0,45.0L27.8,47.0L27.3,48.9L27.1,50.9L27.4,52.9" stroke-width="0.45" opacity="0.59"/>
<path d="M28.0,45.0L26.9,46.6L26.5,48.6" stroke-width="0.43" opacity="0.59"/>
<path d="M28.0,10.0L28.0,8.0L27.6,6.0L28.1,4.1L28.8,2.2" stroke-width="0.46" opacity="0.59"/>
<path d="M28.0,10.0L26.1,10.7" stroke-width="0.39" opacity="0.59"/>
<path d="M28.0,10.0L27.2,11.8" stroke-width="0.38" opacity="0.59"/>
<path d="M30.7,4.7L31.4,2.9L32.4,1.1L33.0,-0.8L33.8,-2.7L33.5,-4.6L32.3,-6.3L31.1,-7.9" stroke-width="0.60" opacity="0.22"/>
<path d="M14.7,27.2L15.4,29.0L16.4,30.8L18.2,31.5L20.0,32.5L21.9,33.2L23.4,34.5L25.2,35.3" stroke-width="0.60" opacity="0.22"/>
<path d="M20.1,23.9L18.9,22.3L17.4,21.0L16.1,19.5L14.3,18.6" stroke-width="0.60" opacity="0.22"/>
<path d="M9.0,34.9L7.1,35.5L5.1,35.5L3.1,36.0L1.5,37.2L-0.4,37.8L-2.1,38.7L-4.0,39.6L-5.8,40.3L-7.6,41.3" stroke-width="0.60" opacity="0.22"/>
<path d="M18.5,49.6L16.5,49.5L14.6,49.9L12.6,50.1L10.7,50.8L8.8,51.4L6.9,52.1L5.0,52.7" stroke-width="0.60" opacity="0.22"/>
<path d="M37.3,29.2L36.5,31.1L34.8,32.2L33.2,33.4L31.3,33.8L29.3,34.0" stroke-width="0.60" opacity="0.22"/>
<path d="M25.1,33.6L23.7,35.1L22.7,36.8L21.3,38.3L19.9,39.7L18.2,40.8L16.2,41.0" stroke-width="0.60" opacity="0.22"/>
<path d="M9.9,48.7L8.8,47.0L7.2,45.9L5.2,45.6L3.2,45.1L1.3,44.7L-0.6,43.9L-2.5,43.3L-4.3,42.6L-6.3,42.3L-8.3,42.3" stroke-width="0.60" opacity="0.22"/>
<path d="M61.6,50.2L62.2,52.1L62.9,54.0L64.4,55.4L65.6,56.9L66.5,58.8L67.2,60.6L68.9,61.6L70.4,63.0L71.9,64.3L73.8,65.0" stroke-width="0.60" opacity="0.22"/>
<path d="M58.1,6.8L59.9,7.7L61.8,8.1L63.8,8.6L65.8,8.5L67.7,8.9L69.6,9.7L71.2,10.8L73.2,11.2L75.0,12.0L76.9,12.7" stroke-width="0.60" opacity="0.22"/>
<path d="M37.7,62.4L35.9,61.7L34.6,60.1L33.0,58.9L31.2,57.9L29.7,56.7L27.9,55.8" stroke-width="0.60" opacity="0.22"/>
<path d="M58.4,32.6L59.2,30.8L60.3,29.1L60.4,27.1L60.2,25.1L60.1,23.2L59.0,21.5L57.5,20.1" stroke-width="0.60" opacity="0.22"/>
<path d="M7.3,25.4L5.4,24.9L3.7,23.9L3.3,22.0L3.8,20.0L4.9,18.4" stroke-width="0.60" opacity="0.22"/>
<path d="M55.5,67.4L57.2,68.5L59.1,68.9L61.0,69.7L62.6,70.9L64.3,71.8L66.1,72.8L67.2,74.5L67.7,76.4L68.1,78.4L66.9,80.0" stroke-width="0.60" opacity="0.22"/>
<path d="M39.6,43.5L41.5,43.0L43.5,42.6L45.5,42.3L47.4,42.0L49.4,42.4L51.4,42.6L53.4,42.6L55.2,43.4L57.2,43.7" stroke-width="0.60" opacity="0.22"/>
<path d="M26.7,30.2L27.0,28.2L27.0,26.2L27.4,24.2L28.3,22.4" stroke-width="0.60" opacity="0.22"/>
<path d="M3.5,66.2L2.3,64.6L0.8,63.2L-1.1,62.9L-3.1,62.7L-5.0,62.0L-6.6,60.8" stroke-width="0.60" opacity="0.22"/>
<path d="M69.7,56.5L67.9,57.4L66.0,57.0L64.0,57.0L62.0,57.0L60.1,57.6L58.2,58.4" stroke-width="0.60" opacity="0.22"/>
<path d="M66.0,35.0L65.5,36.9L65.4,38.9L64.6,40.7L64.5,42.7" stroke-width="0.60" opacity="0.22"/>
<path d="M22.0,28.8L23.9,29.3L25.7,30.1L27.5,31.0L29.2,32.0L31.2,31.9L32.7,30.6" stroke-width="0.60" opacity="0.22"/>
<path d="M5.3,4.4L5.6,2.4L5.8,0.4L6.2,-1.5L7.1,-3.3L7.2,-5.3L7.4,-7.3L7.7,-9.3L9.3,-10.5L10.5,-12.1L12.0,-13.4L13.4,-14.8" stroke-width="0.60" opacity="0.22"/>
<path d="M15.3,21.3L15.5,19.3L14.8,17.4L15.5,15.6L16.2,13.7L16.2,11.7L16.9,9.8L17.3,7.9" stroke-width="0.60" opacity="0.22"/>
<path d="M16.7,4.1L18.5,5.1L20.3,5.9L22.0,6.9L22.6,8.8L23.6,10.6L24.5,12.4L26.1,13.5L27.2,15.2L27.6,17.1L28.4,19.0L28.7,21.0" stroke-width="0.60" opacity="0.22"/>
<path d="M60.0,11.3L58.0,11.3L56.2,12.0L54.3,12.8L52.6,13.8L51.0,14.9L49.1,15.8L47.1,15.9" stroke-width="0.60" opacity="0.22"/>
<path d="M59.1,37.1L59.8,35.2L60.3,33.3L61.1,31.4L61.9,29.6" stroke-width="0.60" opacity="0.22"/>
<path d="M17.6,60.9L19.2,62.1L20.4,63.6L22.0,64.9L23.9,65.6L25.8,66.3L27.7,66.8L29.6,67.4L31.5,66.8" stroke-width="0.60" opacity="0.22"/>
<path d="M60.7,38.7L59.3,40.1L58.5,42.0L57.3,43.6L56.1,45.2L54.4,46.3L53.7,48.2L53.4,50.2" stroke-width="0.60" opacity="0.22"/>
<path d="M69.0,2.3L67.4,1.0L65.5,0.6L63.8,-0.5L61.8,-1.0L59.9,-0.5" stroke-width="0.60" opacity="0.22"/>
<path d="M68.7,15.5L69.6,13.7L71.1,12.5L72.3,10.8L72.9,8.9L73.2,7.0L72.3,5.2" stroke-width="0.60" opacity="0.22"/>
<path d="M32.2,23.7L33.8,22.5L35.6,21.7L37.6,21.2L39.5,20.6L41.4,21.0L43.4,20.8" stroke-width="0.60" opacity="0.22"/>
<path d="M69.6,47.9L68.7,49.7L67.7,51.5L67.1,53.4L66.9,55.3L66.3,57.2L66.4,59.2L66.6,61.2L67.9,62.8" stroke-width="0.60" opacity="0.22"/>
<path d="M6.2,7.9L4.2,8.1L2.2,8.0L0.2,7.7L-1.6,8.4" stroke-width="0.60" opacity="0.22"/>
<path d="M53.2,38.8L53.2,40.8L51.9,42.4L51.4,44.3L50.4,46.1L49.9,48.0L48.7,49.6L47.7,51.3L46.0,52.3L44.0,52.4L42.1,52.9L40.2,53.7" stroke-width="0.60" opacity="0.22"/>
<path d="M6.0,40.6L6.8,38.8L6.6,36.8L6.8,34.8L6.6,32.8L7.3,30.9L8.2,29.2L8.3,27.2L7.8,25.2L6.7,23.6" stroke-width="0.60" opacity="0.22"/>
<path d="M71.2,5.3L70.6,7.2L70.3,9.2L69.6,11.1L68.4,12.7L67.2,14.3L65.9,15.8L65.3,17.7L64.8,19.6" stroke-width="0.60" opacity="0.22"/>
<path d="M54.8,58.7L53.6,60.3L52.5,62.0L51.9,63.9L51.1,65.7L50.3,67.6" stroke-width="0.60" opacity="0.22"/>
<path d="M17.1,1.3L15.1,1.2L13.5,-0.1L11.8,-1.1L10.0,-2.0L8.2,-2.8L6.3,-3.5" stroke-width="0.60" opacity="0.22"/>
<path d="M3.6,9.4L3.4,11.4L3.9,13.4L4.8,15.2L6.0,16.8L7.8,17.4L9.5,18.6L10.2,20.5L10.9,22.3" stroke-width="0.60" opacity="0.22"/>
<path d="M58.4,4.0L60.4,4.4L61.8,5.8L62.1,7.8L63.2,9.5L63.5,11.4L63.5,13.4L62.7,15.3L62.5,17.3L62.3,19.3L62.5,21.3L63.9,22.7" stroke-width="0.60" opacity="0.22"/>
<path d="M28.3,22.8L28.3,24.8L27.4,26.6L27.5,28.6L27.3,30.6" stroke-width="0.60" opacity="0.22"/>
</g>
<g id="sp1" fill="#fff">
<g filter="url(#b2)">
<circle cx="39" cy="7.1" r="2.34" opacity="0.55"/>
<circle cx="21.2" cy="3.6" r="1.30" opacity="0.44"/>
<circle cx="65.6" cy="4.8" r="1.43" opacity="0.44"/>
<circle cx="48" cy="15.5" r="1.17" opacity="0.28"/>
<circle cx="11.4" cy="21.2" r="1.82" opacity="0.50"/>
<circle cx="54.2" cy="18.5" r="1.17" opacity="0.28"/>
<circle cx="42.1" cy="28" r="2.08" opacity="0.55"/>
<circle cx="46.7" cy="32.6" r="1.69" opacity="0.50"/>
<circle cx="51.9" cy="33.3" r="1.43" opacity="0.44"/>
<circle cx="15.5" cy="32.6" r="1.82" opacity="0.50"/>
<circle cx="59.5" cy="37.6" r="1.69" opacity="0.50"/>
<circle cx="29.2" cy="33.7" r="1.04" opacity="0.33"/>
<circle cx="12.1" cy="49.2" r="1.69" opacity="0.50"/>
<circle cx="1.8" cy="48.5" r="1.17" opacity="0.39"/>
<circle cx="10.3" cy="64" r="1.43" opacity="0.44"/>
<circle cx="15.5" cy="62.6" r="1.30" opacity="0.39"/>
<circle cx="21.9" cy="69.7" r="1.17" opacity="0.39"/>
<circle cx="28" cy="45" r="1.04" opacity="0.28"/>
<circle cx="28" cy="10" r="1.04" opacity="0.28"/>
<circle cx="60" cy="60" r="0.91" opacity="0.22"/>
<circle cx="55.7" cy="52.4" r="0.86" opacity="0.11"/>
<circle cx="71.7" cy="7.9" r="0.81" opacity="0.10"/>
<circle cx="37.0" cy="53.4" r="0.83" opacity="0.13"/>
<circle cx="24.6" cy="6.0" r="0.94" opacity="0.17"/>
<circle cx="44.7" cy="59.6" r="0.70" opacity="0.10"/>
<circle cx="61.2" cy="44.0" r="0.85" opacity="0.17"/>
<circle cx="56.1" cy="37.1" r="0.92" opacity="0.11"/>
<circle cx="50.9" cy="27.0" r="0.90" opacity="0.15"/>
<circle cx="44.4" cy="46.7" r="0.68" opacity="0.10"/>
<circle cx="22.2" cy="63.8" r="0.91" opacity="0.10"/>
<circle cx="49.4" cy="55.7" r="1.00" opacity="0.10"/>
<circle cx="68.3" cy="16.1" r="0.72" opacity="0.15"/>
<circle cx="3.6" cy="52.7" r="0.70" opacity="0.09"/>
<circle cx="59.1" cy="63.6" r="0.95" opacity="0.17"/>
<circle cx="67.5" cy="27.9" r="0.78" opacity="0.16"/>
<circle cx="45.6" cy="45.5" r="0.92" opacity="0.16"/>
<circle cx="16.8" cy="6.4" r="0.85" opacity="0.19"/>
<circle cx="53.1" cy="11.7" r="0.68" opacity="0.15"/>
<circle cx="42.4" cy="44.8" r="0.74" opacity="0.13"/>
<circle cx="50.6" cy="11.3" r="0.73" opacity="0.13"/>
<circle cx="18.8" cy="60.8" r="0.73" opacity="0.13"/>
<circle cx="59.0" cy="3.5" r="0.91" opacity="0.08"/>
<circle cx="66.9" cy="8.4" r="0.72" opacity="0.15"/>
<circle cx="61.2" cy="29.4" r="0.83" opacity="0.18"/>
<circle cx="37.2" cy="30.9" r="0.77" opacity="0.12"/>
</g><g filter="url(#b1)">
<circle cx="39" cy="7.1" r="1.35" opacity="1.00"/>
<circle cx="21.2" cy="3.6" r="0.75" opacity="0.80"/>
<circle cx="65.6" cy="4.8" r="0.83" opacity="0.80"/>
<circle cx="48" cy="15.5" r="0.68" opacity="0.50"/>
<circle cx="11.4" cy="21.2" r="1.05" opacity="0.90"/>
<circle cx="54.2" cy="18.5" r="0.68" opacity="0.50"/>
<circle cx="42.1" cy="28" r="1.20" opacity="1.00"/>
<circle cx="46.7" cy="32.6" r="0.98" opacity="0.90"/>
<circle cx="51.9" cy="33.3" r="0.83" opacity="0.80"/>
<circle cx="15.5" cy="32.6" r="1.05" opacity="0.90"/>
<circle cx="59.5" cy="37.6" r="0.98" opacity="0.90"/>
<circle cx="29.2" cy="33.7" r="0.60" opacity="0.60"/>
<circle cx="12.1" cy="49.2" r="0.98" opacity="0.90"/>
<circle cx="1.8" cy="48.5" r="0.68" opacity="0.70"/>
<circle cx="10.3" cy="64" r="0.83" opacity="0.80"/>
<circle cx="15.5" cy="62.6" r="0.75" opacity="0.70"/>
<circle cx="21.9" cy="69.7" r="0.68" opacity="0.70"/>
<circle cx="28" cy="45" r="0.60" opacity="0.50"/>
<circle cx="28" cy="10" r="0.60" opacity="0.50"/>
<circle cx="60" cy="60" r="0.52" opacity="0.40"/>
<circle cx="55.7" cy="52.4" r="0.49" opacity="0.20"/>
<circle cx="71.7" cy="7.9" r="0.46" opacity="0.18"/>
<circle cx="37.0" cy="53.4" r="0.48" opacity="0.24"/>
<circle cx="24.6" cy="6.0" r="0.54" opacity="0.30"/>
<circle cx="44.7" cy="59.6" r="0.41" opacity="0.19"/>
<circle cx="61.2" cy="44.0" r="0.49" opacity="0.30"/>
<circle cx="56.1" cy="37.1" r="0.53" opacity="0.20"/>
<circle cx="50.9" cy="27.0" r="0.52" opacity="0.27"/>
<circle cx="44.4" cy="46.7" r="0.39" opacity="0.19"/>
<circle cx="22.2" cy="63.8" r="0.52" opacity="0.18"/>
<circle cx="49.4" cy="55.7" r="0.58" opacity="0.19"/>
<circle cx="68.3" cy="16.1" r="0.41" opacity="0.28"/>
<circle cx="3.6" cy="52.7" r="0.41" opacity="0.17"/>
<circle cx="59.1" cy="63.6" r="0.55" opacity="0.31"/>
<circle cx="67.5" cy="27.9" r="0.45" opacity="0.29"/>
<circle cx="45.6" cy="45.5" r="0.53" opacity="0.29"/>
<circle cx="16.8" cy="6.4" r="0.49" opacity="0.34"/>
<circle cx="53.1" cy="11.7" r="0.39" opacity="0.27"/>
<circle cx="42.4" cy="44.8" r="0.43" opacity="0.24"/>
<circle cx="50.6" cy="11.3" r="0.42" opacity="0.24"/>
<circle cx="18.8" cy="60.8" r="0.42" opacity="0.23"/>
<circle cx="59.0" cy="3.5" r="0.52" opacity="0.15"/>
<circle cx="66.9" cy="8.4" r="0.41" opacity="0.27"/>
<circle cx="61.2" cy="29.4" r="0.48" opacity="0.32"/>
<circle cx="37.2" cy="30.9" r="0.44" opacity="0.22"/>
</g></g>
<g id="hl1" fill="#fff" filter="url(#b2)">
<circle cx="39" cy="7.1" r="2.70" opacity="1.00"/>
<circle cx="21.2" cy="3.6" r="1.50" opacity="0.80"/>
<circle cx="65.6" cy="4.8" r="1.65" opacity="0.80"/>
<circle cx="48" cy="15.5" r="1.35" opacity="0.50"/>
<circle cx="11.4" cy="21.2" r="2.10" opacity="0.90"/>
<circle cx="54.2" cy="18.5" r="1.35" opacity="0.50"/>
<circle cx="42.1" cy="28" r="2.40" opacity="1.00"/>
<circle cx="46.7" cy="32.6" r="1.95" opacity="0.90"/>
<circle cx="51.9" cy="33.3" r="1.65" opacity="0.80"/>
<circle cx="15.5" cy="32.6" r="2.10" opacity="0.90"/>
<circle cx="59.5" cy="37.6" r="1.95" opacity="0.90"/>
<circle cx="29.2" cy="33.7" r="1.20" opacity="0.60"/>
<circle cx="12.1" cy="49.2" r="1.95" opacity="0.90"/>
<circle cx="1.8" cy="48.5" r="1.35" opacity="0.70"/>
<circle cx="10.3" cy="64" r="1.65" opacity="0.80"/>
<circle cx="15.5" cy="62.6" r="1.50" opacity="0.70"/>
<circle cx="21.9" cy="69.7" r="1.35" opacity="0.70"/>
<circle cx="28" cy="45" r="1.20" opacity="0.50"/>
<circle cx="28" cy="10" r="1.20" opacity="0.50"/>
</g>
<g id="bl1" fill="#fff" filter="url(#b6)">
<ellipse cx="14" cy="43" rx="16" ry="9" opacity="0.30"/>
<ellipse cx="48" cy="26" rx="12" ry="10" opacity="0.25"/>
<ellipse cx="30" cy="52" rx="14" ry="8" opacity="0.15"/>
</g>
<g id="bd1" fill="none" stroke="#fff" stroke-linecap="round" stroke-linejoin="round" filter="url(#b4)">
<path d="M0,46 L14,40 L30,37 L42,28 L52,18 L62,8 L70,2" stroke-width="5" opacity="0.55"/>
<path d="M2,46 L16,52 L30,58 L44,62" stroke-width="4" opacity="0.40"/>
<path d="M39,7 L30,2" stroke-width="3" opacity="0.40"/>
<path d="M42,28 L52,33 L60,38 L72,42" stroke-width="4" opacity="0.45"/>
<path d="M11,21 L15,33 L12,49 L10,64" stroke-width="3.5" opacity="0.35"/>
<path d="M39,7 L42,28" stroke-width="3" opacity="0.35"/>
<path d="M28,45 L34,60 L30,72" stroke-width="3" opacity="0.25"/>
</g>
<g id="tb1" fill="#fff" filter="url(#b3)">
<ellipse cx="14" cy="43" rx="16" ry="9" opacity="0.30"/>
<ellipse cx="48" cy="26" rx="12" ry="10" opacity="0.25"/>
<ellipse cx="30" cy="52" rx="14" ry="8" opacity="0.15"/>
</g>
<g id="neu2" fill="none" stroke="#fff" stroke-linecap="round" filter="url(#b0)">
<path d="M45.8,13.2L46.6,11.4L48.1,10.0" stroke-width="0.52" opacity="0.80"/>
<path d="M45.8,13.2L47.7,13.9L49.6,14.5L51.6,14.7" stroke-width="0.56" opacity="0.80"/>
<path d="M45.8,13.2L47.7,12.5" stroke-width="0.60" opacity="0.80"/>
<path d="M45.8,13.2L43.8,13.1L41.9,12.6L39.9,12.3L37.9,12.1" stroke-width="0.54" opacity="0.80"/>
<path d="M45.8,13.2L44.0,14.0L42.2,14.9L40.5,16.0L38.5,16.1L36.9,17.3L35.0,17.9" stroke-width="0.45" opacity="0.80"/>
<path d="M41.7,31.0L40.9,29.2L39.6,27.7L38.7,25.9L37.2,24.5L35.8,23.1" stroke-width="0.59" opacity="0.92"/>
<path d="M41.7,31.0L43.3,32.2L44.9,33.4L46.1,35.0L47.7,36.2L49.7,36.6L51.5,37.4L53.4,37.9L55.4,37.7L57.3,36.9" stroke-width="0.59" opacity="0.92"/>
<path d="M41.7,31.0L43.2,32.3L44.5,33.8L45.3,35.6L45.6,37.6L46.4,39.5L47.3,41.2L48.1,43.1L48.3,45.1" stroke-width="0.55" opacity="0.92"/>
<path d="M41.7,31.0L43.2,32.3L45.0,33.3L46.5,34.6L47.9,36.0" stroke-width="0.58" opacity="0.92"/>
<path d="M41.7,31.0L43.0,32.5L43.6,34.4L44.2,36.3L43.9,38.3L45.0,40.0L45.7,41.8L46.4,43.7" stroke-width="0.55" opacity="0.92"/>
<path d="M41.7,31.0L39.7,31.1L37.7,31.4L36.1,32.5L34.7,34.0L33.1,35.2L31.5,36.4L30.1,37.8L28.5,39.0L26.6,39.7" stroke-width="0.66" opacity="0.92"/>
<path d="M41.7,31.0L42.4,29.1L43.6,27.5L44.5,25.7" stroke-width="0.53" opacity="0.92"/>
<path d="M41.7,31.0L40.0,32.0L39.4,34.0L38.7,35.8L38.2,37.8L37.8,39.7L37.2,41.6L36.7,43.6L36.1,45.5" stroke-width="0.62" opacity="0.92"/>
<path d="M41.7,31.0L41.4,33.0L42.2,34.8L42.9,36.7L43.7,38.5L43.1,40.4L42.6,42.4L41.9,44.3L41.2,46.1L41.2,48.1" stroke-width="0.68" opacity="0.92"/>
<path d="M41.7,31.0L42.2,32.9L42.3,34.9L42.9,36.9L42.6,38.8L41.7,40.6L40.1,41.8L38.9,43.4" stroke-width="0.65" opacity="0.92"/>
<path d="M41.7,31.0L40.8,32.8L39.9,34.5L39.2,36.4" stroke-width="0.62" opacity="0.92"/>
<path d="M41.7,31.0L43.6,31.6L45.6,31.5L47.6,31.6L49.6,31.3L51.6,31.3" stroke-width="0.52" opacity="0.92"/>
<path d="M41.7,31.0L40.7,32.7L39.3,34.2" stroke-width="0.65" opacity="0.92"/>
<path d="M41.7,31.0L39.7,31.0L37.7,31.2L35.7,31.5L34.0,32.5L32.1,32.9L30.1,32.6" stroke-width="0.66" opacity="0.92"/>
<path d="M64.9,28.7L63.6,30.2L62.0,31.4L60.1,32.1L58.8,33.6L57.1,34.7" stroke-width="0.55" opacity="0.74"/>
<path d="M64.9,28.7L66.9,28.3L68.3,26.9" stroke-width="0.49" opacity="0.74"/>
<path d="M64.9,28.7L66.9,28.6L68.9,28.3" stroke-width="0.45" opacity="0.74"/>
<path d="M64.9,28.7L64.0,30.5L62.6,31.9L61.0,33.1L59.0,32.6" stroke-width="0.51" opacity="0.74"/>
<path d="M64.9,28.7L64.9,30.7L64.7,32.7L64.5,34.7L63.9,36.6" stroke-width="0.48" opacity="0.74"/>
<path d="M64.9,28.7L63.5,27.3L62.4,25.6L62.7,23.7L63.0,21.7" stroke-width="0.53" opacity="0.74"/>
<path d="M55.8,46.2L56.7,48.0L57.3,49.9L58.1,51.7L58.5,53.7L58.3,55.7" stroke-width="0.48" opacity="0.77"/>
<path d="M55.8,46.2L56.9,47.8L58.0,49.6L58.8,51.4L60.1,52.9" stroke-width="0.53" opacity="0.77"/>
<path d="M55.8,46.2L57.8,46.2L59.7,46.7" stroke-width="0.54" opacity="0.77"/>
<path d="M55.8,46.2L55.2,44.3L53.9,42.8L52.2,41.6L50.8,40.3" stroke-width="0.56" opacity="0.77"/>
<path d="M55.8,46.2L57.6,45.4L59.6,45.4L61.6,45.4" stroke-width="0.53" opacity="0.77"/>
<path d="M55.8,46.2L55.0,44.4L54.7,42.4L53.9,40.5L53.0,38.7L51.9,37.1" stroke-width="0.51" opacity="0.77"/>
<path d="M7.1,51.9L9.1,51.7L11.0,51.3L13.0,51.2L14.7,50.1L16.5,49.2" stroke-width="0.57" opacity="0.80"/>
<path d="M7.1,51.9L6.2,53.7L5.3,55.5L4.7,57.4L4.8,59.4L5.3,61.3L5.5,63.3" stroke-width="0.47" opacity="0.80"/>
<path d="M7.1,51.9L9.1,51.5L10.9,50.8L12.9,50.9L14.9,50.9L16.9,50.4" stroke-width="0.46" opacity="0.80"/>
<path d="M7.1,51.9L5.5,53.0L4.5,54.8L3.6,56.6L2.7,58.4" stroke-width="0.53" opacity="0.80"/>
<path d="M7.1,51.9L6.3,50.1L4.9,48.6L3.6,47.1" stroke-width="0.47" opacity="0.80"/>
<path d="M2.5,30.3L4.1,31.5" stroke-width="0.42" opacity="0.68"/>
<path d="M2.5,30.3L0.7,29.4L-1.1,28.6L-3.1,28.5" stroke-width="0.45" opacity="0.68"/>
<path d="M2.5,30.3L1.0,29.0L-0.7,28.0L-2.4,26.9" stroke-width="0.50" opacity="0.68"/>
<path d="M2.5,30.3L2.7,28.3L2.9,26.3" stroke-width="0.41" opacity="0.68"/>
<path d="M50.3,24.6L48.8,23.3L47.5,21.8L47.2,19.8L47.0,17.8" stroke-width="0.46" opacity="0.62"/>
<path d="M50.3,24.6L48.8,23.3L46.9,22.5L45.3,21.5L43.3,20.8" stroke-width="0.42" opacity="0.62"/>
<path d="M50.3,24.6L52.3,24.7L54.1,25.5L56.1,25.5" stroke-width="0.42" opacity="0.62"/>
<path d="M50.3,24.6L49.5,22.8L47.9,21.6" stroke-width="0.45" opacity="0.62"/>
<path d="M15.5,32.6L14.5,30.9L13.8,29.0L12.7,27.3L11.3,25.9" stroke-width="0.46" opacity="0.62"/>
<path d="M15.5,32.6L15.2,30.6L14.3,28.9L13.0,27.3L12.4,25.4" stroke-width="0.47" opacity="0.62"/>
<path d="M15.5,32.6L17.1,31.4L18.9,30.5" stroke-width="0.40" opacity="0.62"/>
<path d="M15.5,32.6L17.0,31.2L18.7,30.3L20.4,29.2" stroke-width="0.39" opacity="0.62"/>
<path d="M1.8,9.8L3.3,8.5L4.8,7.2" stroke-width="0.43" opacity="0.62"/>
<path d="M1.8,9.8L-0.2,9.7" stroke-width="0.40" opacity="0.62"/>
<path d="M1.8,9.8L0.1,8.8L-1.5,7.6L-3.1,6.3" stroke-width="0.45" opacity="0.62"/>
<path d="M37.1,36.4L37.5,38.4L38.3,40.2L39.1,42.0" stroke-width="0.40" opacity="0.62"/>
<path d="M37.1,36.4L36.8,34.4" stroke-width="0.40" opacity="0.62"/>
<path d="M37.1,36.4L38.5,37.8L40.4,38.5L42.4,38.5L44.3,38.0" stroke-width="0.46" opacity="0.62"/>
<path d="M3.4,63.3L2.7,61.4L1.7,59.7" stroke-width="0.41" opacity="0.62"/>
<path d="M3.4,63.3L2.5,65.1L1.3,66.6L-0.3,67.9" stroke-width="0.46" opacity="0.62"/>
<path d="M3.4,63.3L3.0,61.3L1.9,59.7L0.5,58.3" stroke-width="0.44" opacity="0.62"/>
<path d="M3.4,63.3L1.6,64.1L-0.3,64.9L-2.2,65.5L-4.1,66.2" stroke-width="0.47" opacity="0.62"/>
<path d="M23.5,49.7L25.3,50.5L27.1,51.4L28.8,52.5" stroke-width="0.43" opacity="0.59"/>
<path d="M23.5,49.7L23.5,47.7L24.5,45.9" stroke-width="0.45" opacity="0.59"/>
<path d="M23.5,49.7L24.7,51.3L26.3,52.5" stroke-width="0.40" opacity="0.59"/>
<path d="M23.5,49.7L23.7,51.7L24.8,53.3" stroke-width="0.39" opacity="0.59"/>
<path d="M13.2,51.9L12.2,53.6L11.9,55.6" stroke-width="0.40" opacity="0.59"/>
<path d="M13.2,51.9L14.6,53.3" stroke-width="0.43" opacity="0.59"/>
<path d="M13.2,51.9L15.1,51.3" stroke-width="0.45" opacity="0.59"/>
<path d="M40.3,12.0L38.5,12.9L37.1,14.4L35.6,15.7L34.0,17.0L32.4,18.2L30.7,19.2L30.2,21.1L30.2,23.1L30.2,25.1" stroke-width="0.60" opacity="0.22"/>
<path d="M63.1,59.3L65.1,59.3L67.1,59.4L69.0,59.9L70.8,61.0L72.2,62.4L74.0,63.1L76.0,63.5L78.0,63.5L79.9,63.1" stroke-width="0.60" opacity="0.22"/>
<path d="M20.1,15.1L20.7,13.2L22.1,11.8L23.5,10.4L24.7,8.8L26.4,7.8L28.2,6.9L30.2,6.7L32.2,6.5L33.9,7.5L34.9,9.2L36.0,10.9" stroke-width="0.60" opacity="0.22"/>
<path d="M9.8,2.1L10.4,0.2L11.7,-1.4L13.1,-2.7L14.7,-4.0L16.5,-4.8L18.3,-5.6L20.2,-6.3L22.2,-6.5" stroke-width="0.60" opacity="0.22"/>
<path d="M6.6,53.0L5.4,51.4L4.0,50.1L3.2,48.2L3.0,46.2" stroke-width="0.60" opacity="0.22"/>
<path d="M69.3,10.7L71.2,10.0L73.1,9.4L74.9,8.5L76.2,7.0L77.3,5.4" stroke-width="0.60" opacity="0.22"/>
<path d="M42.3,24.9L40.4,24.3L38.4,24.1L36.4,24.3L34.6,25.1L32.8,25.9L30.8,26.2L29.0,27.1L27.1,27.6L25.3,28.5L23.7,29.8" stroke-width="0.60" opacity="0.22"/>
<path d="M12.9,6.5L14.0,8.2L15.2,9.7L16.6,11.2L18.3,12.2" stroke-width="0.60" opacity="0.22"/>
<path d="M23.5,6.7L21.5,6.5L19.5,6.6L17.6,7.1L15.6,7.3L13.6,7.8L12.0,9.0L10.0,8.8L8.0,8.8L6.1,9.2" stroke-width="0.60" opacity="0.22"/>
<path d="M54.6,2.7L55.8,4.3L56.5,6.1L57.0,8.1L57.7,10.0L57.8,12.0L58.5,13.8L59.3,15.7L60.5,17.3L61.4,19.1L61.6,21.1" stroke-width="0.60" opacity="0.22"/>
<path d="M6.5,39.1L6.6,41.1L5.7,42.9L4.4,44.4L3.0,45.8L1.2,46.6L-0.7,47.3L-2.3,48.5L-4.3,48.9" stroke-width="0.60" opacity="0.22"/>
<path d="M31.5,9.3L30.8,11.2L29.9,13.0L28.6,14.5L27.4,16.1L27.0,18.0L26.3,19.9L25.7,21.8L25.3,23.8L26.2,25.6" stroke-width="0.60" opacity="0.22"/>
<path d="M62.1,6.4L61.3,4.6L60.9,2.6L60.8,0.6L60.6,-1.4L60.5,-3.4L60.6,-5.4L60.3,-7.3L59.6,-9.2L59.3,-11.2L59.1,-13.2L60.1,-14.9" stroke-width="0.60" opacity="0.22"/>
<path d="M20.4,56.2L20.3,58.2L20.6,60.1L20.6,62.1L20.5,64.1L19.3,65.8L17.8,67.1L16.0,67.9L14.2,68.8L12.7,70.1" stroke-width="0.60" opacity="0.22"/>
<path d="M68.0,23.4L66.1,22.8L64.2,22.3L62.5,21.3L60.6,20.7L58.9,19.5L57.0,19.0L55.2,18.2L53.8,16.7L51.8,16.5" stroke-width="0.60" opacity="0.22"/>
<path d="M25.5,67.9L26.0,65.9L26.9,64.1L27.7,62.3L28.9,60.7L30.0,59.0L31.4,57.6L32.9,56.3" stroke-width="0.60" opacity="0.22"/>
</g>
<g id="sp2" fill="#fff">
<g filter="url(#b2)">
<circle cx="45.8" cy="13.2" r="1.95" opacity="0.55"/>
<circle cx="41.7" cy="31" r="2.47" opacity="0.55"/>
<circle cx="64.9" cy="28.7" r="1.69" opacity="0.50"/>
<circle cx="55.8" cy="46.2" r="1.82" opacity="0.52"/>
<circle cx="7.1" cy="51.9" r="1.95" opacity="0.52"/>
<circle cx="2.5" cy="30.3" r="1.43" opacity="0.44"/>
<circle cx="50.3" cy="24.6" r="1.17" opacity="0.28"/>
<circle cx="15.5" cy="32.6" r="1.17" opacity="0.28"/>
<circle cx="1.8" cy="9.8" r="1.17" opacity="0.39"/>
<circle cx="37.1" cy="36.4" r="1.17" opacity="0.28"/>
<circle cx="3.4" cy="63.3" r="1.17" opacity="0.28"/>
<circle cx="23.5" cy="49.7" r="1.04" opacity="0.28"/>
<circle cx="13.2" cy="51.9" r="1.04" opacity="0.28"/>
<circle cx="33" cy="52" r="1.04" opacity="0.22"/>
<circle cx="60" cy="64" r="0.91" opacity="0.22"/>
<circle cx="24.3" cy="38.0" r="0.95" opacity="0.18"/>
<circle cx="49.2" cy="61.4" r="0.99" opacity="0.21"/>
<circle cx="4.0" cy="26.6" r="0.88" opacity="0.15"/>
<circle cx="49.2" cy="65.2" r="0.72" opacity="0.13"/>
<circle cx="68.7" cy="28.7" r="0.82" opacity="0.20"/>
<circle cx="4.0" cy="8.8" r="0.70" opacity="0.22"/>
<circle cx="7.3" cy="27.2" r="1.00" opacity="0.14"/>
<circle cx="2.7" cy="28.3" r="0.69" opacity="0.17"/>
<circle cx="34.2" cy="24.2" r="0.98" opacity="0.21"/>
<circle cx="36.2" cy="30.1" r="1.01" opacity="0.20"/>
<circle cx="61.1" cy="42.9" r="0.86" opacity="0.21"/>
<circle cx="21.7" cy="20.9" r="0.69" opacity="0.14"/>
<circle cx="37.8" cy="7.8" r="0.78" opacity="0.14"/>
<circle cx="71.2" cy="64.5" r="0.69" opacity="0.14"/>
<circle cx="56.8" cy="40.9" r="0.92" opacity="0.20"/>
<circle cx="26.3" cy="46.5" r="0.90" opacity="0.09"/>
<circle cx="48.2" cy="4.3" r="0.74" opacity="0.10"/>
<circle cx="17.5" cy="62.8" r="0.99" opacity="0.12"/>
<circle cx="68.7" cy="8.9" r="0.72" opacity="0.14"/>
<circle cx="4.9" cy="27.7" r="0.87" opacity="0.19"/>
<circle cx="55.3" cy="66.0" r="0.86" opacity="0.20"/>
<circle cx="52.4" cy="51.0" r="0.77" opacity="0.16"/>
<circle cx="58.4" cy="36.4" r="0.99" opacity="0.15"/>
<circle cx="18.9" cy="8.2" r="0.75" opacity="0.17"/>
<circle cx="33.7" cy="49.1" r="0.79" opacity="0.19"/>
<circle cx="23.8" cy="64.5" r="0.77" opacity="0.20"/>
<circle cx="31.5" cy="16.9" r="1.03" opacity="0.14"/>
<circle cx="52.1" cy="11.8" r="1.03" opacity="0.10"/>
<circle cx="63.2" cy="2.0" r="0.78" opacity="0.15"/>
<circle cx="51.9" cy="46.4" r="0.75" opacity="0.09"/>
<circle cx="7.9" cy="1.0" r="0.95" opacity="0.10"/>
<circle cx="58.8" cy="19.0" r="0.72" opacity="0.15"/>
<circle cx="53.4" cy="56.0" r="0.86" opacity="0.12"/>
<circle cx="31.1" cy="63.1" r="0.96" opacity="0.14"/>
<circle cx="50.4" cy="28.7" r="0.95" opacity="0.12"/>
<circle cx="30.5" cy="41.3" r="0.72" opacity="0.18"/>
<circle cx="48.3" cy="65.1" r="0.94" opacity="0.17"/>
<circle cx="42.7" cy="43.3" r="1.03" opacity="0.10"/>
<circle cx="64.1" cy="21.9" r="0.65" opacity="0.12"/>
<circle cx="38.3" cy="37.0" r="0.86" opacity="0.17"/>
<circle cx="3.3" cy="65.9" r="0.82" opacity="0.10"/>
<circle cx="16.8" cy="47.9" r="0.78" opacity="0.16"/>
<circle cx="68.7" cy="31.2" r="0.87" opacity="0.13"/>
<circle cx="52.7" cy="47.8" r="0.81" opacity="0.13"/>
<circle cx="48.9" cy="44.8" r="0.98" opacity="0.21"/>
</g><g filter="url(#b1)">
<circle cx="45.8" cy="13.2" r="1.12" opacity="1.00"/>
<circle cx="41.7" cy="31" r="1.42" opacity="1.00"/>
<circle cx="64.9" cy="28.7" r="0.98" opacity="0.90"/>
<circle cx="55.8" cy="46.2" r="1.05" opacity="0.95"/>
<circle cx="7.1" cy="51.9" r="1.12" opacity="0.95"/>
<circle cx="2.5" cy="30.3" r="0.83" opacity="0.80"/>
<circle cx="50.3" cy="24.6" r="0.68" opacity="0.50"/>
<circle cx="15.5" cy="32.6" r="0.68" opacity="0.50"/>
<circle cx="1.8" cy="9.8" r="0.68" opacity="0.70"/>
<circle cx="37.1" cy="36.4" r="0.68" opacity="0.50"/>
<circle cx="3.4" cy="63.3" r="0.68" opacity="0.50"/>
<circle cx="23.5" cy="49.7" r="0.60" opacity="0.50"/>
<circle cx="13.2" cy="51.9" r="0.60" opacity="0.50"/>
<circle cx="33" cy="52" r="0.60" opacity="0.40"/>
<circle cx="60" cy="64" r="0.52" opacity="0.40"/>
<circle cx="24.3" cy="38.0" r="0.55" opacity="0.33"/>
<circle cx="49.2" cy="61.4" r="0.57" opacity="0.38"/>
<circle cx="4.0" cy="26.6" r="0.51" opacity="0.27"/>
<circle cx="49.2" cy="65.2" r="0.41" opacity="0.23"/>
<circle cx="68.7" cy="28.7" r="0.47" opacity="0.37"/>
<circle cx="4.0" cy="8.8" r="0.41" opacity="0.40"/>
<circle cx="7.3" cy="27.2" r="0.58" opacity="0.25"/>
<circle cx="2.7" cy="28.3" r="0.40" opacity="0.30"/>
<circle cx="34.2" cy="24.2" r="0.56" opacity="0.38"/>
<circle cx="36.2" cy="30.1" r="0.58" opacity="0.37"/>
<circle cx="61.1" cy="42.9" r="0.49" opacity="0.39"/>
<circle cx="21.7" cy="20.9" r="0.40" opacity="0.25"/>
<circle cx="37.8" cy="7.8" r="0.45" opacity="0.26"/>
<circle cx="71.2" cy="64.5" r="0.40" opacity="0.25"/>
<circle cx="56.8" cy="40.9" r="0.53" opacity="0.36"/>
<circle cx="26.3" cy="46.5" r="0.52" opacity="0.17"/>
<circle cx="48.2" cy="4.3" r="0.43" opacity="0.18"/>
<circle cx="17.5" cy="62.8" r="0.57" opacity="0.22"/>
<circle cx="68.7" cy="8.9" r="0.41" opacity="0.26"/>
<circle cx="4.9" cy="27.7" r="0.50" opacity="0.34"/>
<circle cx="55.3" cy="66.0" r="0.49" opacity="0.36"/>
<circle cx="52.4" cy="51.0" r="0.44" opacity="0.29"/>
<circle cx="58.4" cy="36.4" r="0.57" opacity="0.28"/>
<circle cx="18.9" cy="8.2" r="0.43" opacity="0.30"/>
<circle cx="33.7" cy="49.1" r="0.46" opacity="0.34"/>
<circle cx="23.8" cy="64.5" r="0.44" opacity="0.37"/>
<circle cx="31.5" cy="16.9" r="0.59" opacity="0.25"/>
<circle cx="52.1" cy="11.8" r="0.59" opacity="0.18"/>
<circle cx="63.2" cy="2.0" r="0.45" opacity="0.27"/>
<circle cx="51.9" cy="46.4" r="0.43" opacity="0.17"/>
<circle cx="7.9" cy="1.0" r="0.55" opacity="0.18"/>
<circle cx="58.8" cy="19.0" r="0.41" opacity="0.27"/>
<circle cx="53.4" cy="56.0" r="0.49" opacity="0.22"/>
<circle cx="31.1" cy="63.1" r="0.55" opacity="0.25"/>
<circle cx="50.4" cy="28.7" r="0.55" opacity="0.22"/>
<circle cx="30.5" cy="41.3" r="0.41" opacity="0.33"/>
<circle cx="48.3" cy="65.1" r="0.54" opacity="0.31"/>
<circle cx="42.7" cy="43.3" r="0.59" opacity="0.18"/>
<circle cx="64.1" cy="21.9" r="0.38" opacity="0.21"/>
<circle cx="38.3" cy="37.0" r="0.49" opacity="0.30"/>
<circle cx="3.3" cy="65.9" r="0.47" opacity="0.19"/>
<circle cx="16.8" cy="47.9" r="0.45" opacity="0.29"/>
<circle cx="68.7" cy="31.2" r="0.50" opacity="0.23"/>
<circle cx="52.7" cy="47.8" r="0.46" opacity="0.24"/>
<circle cx="48.9" cy="44.8" r="0.56" opacity="0.39"/>
</g></g>
<g id="hl2" fill="#fff" filter="url(#b2)">
<circle cx="45.8" cy="13.2" r="2.25" opacity="1.00"/>
<circle cx="41.7" cy="31" r="2.85" opacity="1.00"/>
<circle cx="64.9" cy="28.7" r="1.95" opacity="0.90"/>
<circle cx="55.8" cy="46.2" r="2.10" opacity="0.95"/>
<circle cx="7.1" cy="51.9" r="2.25" opacity="0.95"/>
<circle cx="2.5" cy="30.3" r="1.65" opacity="0.80"/>
<circle cx="50.3" cy="24.6" r="1.35" opacity="0.50"/>
<circle cx="15.5" cy="32.6" r="1.35" opacity="0.50"/>
<circle cx="1.8" cy="9.8" r="1.35" opacity="0.70"/>
<circle cx="37.1" cy="36.4" r="1.35" opacity="0.50"/>
<circle cx="3.4" cy="63.3" r="1.35" opacity="0.50"/>
<circle cx="23.5" cy="49.7" r="1.20" opacity="0.50"/>
<circle cx="13.2" cy="51.9" r="1.20" opacity="0.50"/>
</g>
<g id="bl2" fill="#fff" filter="url(#b6)">
<ellipse cx="50" cy="26" rx="16" ry="14" opacity="0.10"/>
<ellipse cx="56" cy="20" rx="10" ry="9" opacity="0.06"/>
<ellipse cx="8" cy="52" rx="8" ry="8" opacity="0.06"/>
</g>
<g id="bd2" fill="none" stroke="#fff" stroke-linecap="round" stroke-linejoin="round" filter="url(#b4)">
<path d="M46,13 L42,30 L38,44 L30,58" stroke-width="2.5" opacity="0.35"/>
<path d="M42,31 L56,40 L56,46" stroke-width="2.5" opacity="0.30"/>
<path d="M42,31 L65,29" stroke-width="2.5" opacity="0.30"/>
<path d="M46,13 L60,4" stroke-width="2.5" opacity="0.25"/>
<path d="M7,52 L3,64" stroke-width="2.5" opacity="0.25"/>
<path d="M42,31 L28,22 L14,18" stroke-width="2" opacity="0.20"/>
</g>
<g id="tb2" fill="#fff" filter="url(#b3)">
<ellipse cx="50" cy="26" rx="16" ry="14" opacity="0.10"/>
<ellipse cx="56" cy="20" rx="10" ry="9" opacity="0.06"/>
<ellipse cx="8" cy="52" rx="8" ry="8" opacity="0.06"/>
</g>
<g id="neu3" fill="none" stroke="#fff" stroke-linecap="round" filter="url(#b0)">
<path d="M35.3,63.3L33.3,63.5" stroke-width="0.52" opacity="0.71"/>
<path d="M35.3,63.3L37.2,64.1" stroke-width="0.49" opacity="0.71"/>
<path d="M35.3,63.3L33.9,61.9L32.4,60.5" stroke-width="0.49" opacity="0.71"/>
<path d="M35.3,63.3L34.0,61.8L32.3,60.8L30.9,59.3" stroke-width="0.47" opacity="0.71"/>
<path d="M39.4,62.9L41.4,63.2L43.4,63.1L45.4,63.2" stroke-width="0.49" opacity="0.65"/>
<path d="M39.4,62.9L38.8,64.8L38.3,66.7" stroke-width="0.45" opacity="0.65"/>
<path d="M39.4,62.9L37.7,61.8L36.1,60.7L34.8,59.1L33.5,57.6" stroke-width="0.47" opacity="0.65"/>
<path d="M39.4,62.9L38.0,61.5L36.6,60.0" stroke-width="0.44" opacity="0.65"/>
<path d="M10.3,70.6L8.6,69.5L7.1,68.2" stroke-width="0.41" opacity="0.59"/>
<path d="M10.3,70.6L8.9,69.1" stroke-width="0.38" opacity="0.59"/>
<path d="M10.3,70.6L11.0,68.7L11.8,66.9L13.0,65.3" stroke-width="0.44" opacity="0.59"/>
<path d="M10.3,70.6L8.8,71.9L7.2,73.1L5.5,74.2L3.9,75.4" stroke-width="0.43" opacity="0.59"/>
<path d="M65.8,67.9L64.6,69.5L63.4,71.1L62.0,72.5L61.2,74.3L60.5,76.2" stroke-width="0.60" opacity="0.22"/>
<path d="M21.3,4.7L19.4,4.1L17.4,3.5L15.5,2.9L14.4,1.2L13.3,-0.4L11.4,-1.2L9.7,-2.1L7.7,-2.5L5.8,-3.2L3.9,-3.6L1.9,-3.8" stroke-width="0.60" opacity="0.22"/>
<path d="M23.8,66.7L25.6,67.6L27.4,68.5L28.8,69.9L30.1,71.4L30.6,73.4L31.9,74.8" stroke-width="0.60" opacity="0.22"/>
<path d="M31.6,50.7L29.6,51.1L27.7,51.5L25.7,51.5L23.7,51.8L22.0,50.8L20.2,49.9L19.5,48.0L18.6,46.2L18.7,44.2L17.8,42.5L16.5,40.9" stroke-width="0.60" opacity="0.22"/>
</g>
<g id="sp3" fill="#fff">
<g filter="url(#b2)">
<circle cx="35.3" cy="63.3" r="1.56" opacity="0.47"/>
<circle cx="39.4" cy="62.9" r="1.30" opacity="0.25"/>
<circle cx="10.3" cy="70.6" r="1.04" opacity="0.39"/>
</g><g filter="url(#b1)">
<circle cx="35.3" cy="63.3" r="0.90" opacity="0.85"/>
<circle cx="39.4" cy="62.9" r="0.75" opacity="0.45"/>
<circle cx="10.3" cy="70.6" r="0.60" opacity="0.70"/>
</g></g>
<g id="dm3" fill="#fff">
<g filter="url(#b2)">
<circle cx="54.9" cy="28" r="1.30" opacity="0.50"/>
<circle cx="7.1" cy="33" r="1.30" opacity="0.44"/>
<circle cx="11.2" cy="34.9" r="1.30" opacity="0.50"/>
<circle cx="36.2" cy="39" r="1.30" opacity="0.47"/>
<circle cx="30.5" cy="46.9" r="1.30" opacity="0.44"/>
<circle cx="47.6" cy="58.3" r="1.17" opacity="0.39"/>
<circle cx="3" cy="33.7" r="1.04" opacity="0.33"/>
<circle cx="66.3" cy="13.2" r="1.04" opacity="0.28"/>
<circle cx="46.9" cy="37.8" r="1.04" opacity="0.28"/>
<circle cx="21" cy="50" r="1.04" opacity="0.25"/>
<circle cx="26.5" cy="57" r="1.04" opacity="0.25"/>
<circle cx="39.4" cy="62.6" r="1.56" opacity="0.55"/>
<circle cx="35.5" cy="63.3" r="1.69" opacity="0.55"/>
<circle cx="60" cy="40" r="0.91" opacity="0.22"/>
<circle cx="20" cy="20" r="0.91" opacity="0.19"/>
<circle cx="50" cy="10" r="0.91" opacity="0.19"/>
<circle cx="22.1" cy="23.1" r="0.79" opacity="0.12"/>
<circle cx="21.4" cy="39.7" r="0.86" opacity="0.08"/>
<circle cx="56.2" cy="50.8" r="0.69" opacity="0.12"/>
<circle cx="46.3" cy="7.5" r="0.74" opacity="0.14"/>
<circle cx="17.4" cy="13.4" r="0.69" opacity="0.12"/>
<circle cx="71.6" cy="32.3" r="0.96" opacity="0.15"/>
<circle cx="37.8" cy="11.5" r="0.70" opacity="0.14"/>
<circle cx="56.7" cy="28.4" r="0.86" opacity="0.10"/>
<circle cx="30.8" cy="54.7" r="0.81" opacity="0.13"/>
<circle cx="5.2" cy="9.1" r="0.74" opacity="0.12"/>
<circle cx="30.1" cy="48.1" r="0.74" opacity="0.16"/>
<circle cx="43.6" cy="59.2" r="0.70" opacity="0.08"/>
<circle cx="34.9" cy="39.1" r="0.91" opacity="0.06"/>
<circle cx="59.5" cy="50.0" r="1.03" opacity="0.08"/>
<circle cx="49.3" cy="45.6" r="0.85" opacity="0.07"/>
<circle cx="19.4" cy="65.9" r="1.01" opacity="0.14"/>
<circle cx="49.6" cy="58.8" r="0.75" opacity="0.07"/>
<circle cx="10.5" cy="32.7" r="1.03" opacity="0.11"/>
<circle cx="57.5" cy="53.9" r="0.77" opacity="0.10"/>
<circle cx="9.4" cy="46.1" r="1.03" opacity="0.09"/>
<circle cx="54.0" cy="37.6" r="0.72" opacity="0.15"/>
<circle cx="16.8" cy="19.4" r="0.82" opacity="0.12"/>
<circle cx="60.8" cy="30.2" r="0.83" opacity="0.07"/>
<circle cx="65.7" cy="21.3" r="0.82" opacity="0.14"/>
<circle cx="23.0" cy="14.3" r="0.87" opacity="0.12"/>
<circle cx="8.6" cy="57.2" r="0.69" opacity="0.16"/>
<circle cx="68.0" cy="60.4" r="0.99" opacity="0.14"/>
<circle cx="57.7" cy="21.6" r="0.69" opacity="0.10"/>
<circle cx="10.5" cy="53.8" r="0.66" opacity="0.17"/>
<circle cx="32.3" cy="65.4" r="0.91" opacity="0.16"/>
</g><g filter="url(#b1)">
<circle cx="54.9" cy="28" r="0.75" opacity="0.90"/>
<circle cx="7.1" cy="33" r="0.75" opacity="0.80"/>
<circle cx="11.2" cy="34.9" r="0.75" opacity="0.90"/>
<circle cx="36.2" cy="39" r="0.75" opacity="0.85"/>
<circle cx="30.5" cy="46.9" r="0.75" opacity="0.80"/>
<circle cx="47.6" cy="58.3" r="0.68" opacity="0.70"/>
<circle cx="3" cy="33.7" r="0.60" opacity="0.60"/>
<circle cx="66.3" cy="13.2" r="0.60" opacity="0.50"/>
<circle cx="46.9" cy="37.8" r="0.60" opacity="0.50"/>
<circle cx="21" cy="50" r="0.60" opacity="0.45"/>
<circle cx="26.5" cy="57" r="0.60" opacity="0.45"/>
<circle cx="39.4" cy="62.6" r="0.90" opacity="1.00"/>
<circle cx="35.5" cy="63.3" r="0.98" opacity="1.00"/>
<circle cx="60" cy="40" r="0.52" opacity="0.40"/>
<circle cx="20" cy="20" r="0.52" opacity="0.35"/>
<circle cx="50" cy="10" r="0.52" opacity="0.35"/>
<circle cx="22.1" cy="23.1" r="0.46" opacity="0.21"/>
<circle cx="21.4" cy="39.7" r="0.49" opacity="0.14"/>
<circle cx="56.2" cy="50.8" r="0.40" opacity="0.22"/>
<circle cx="46.3" cy="7.5" r="0.43" opacity="0.25"/>
<circle cx="17.4" cy="13.4" r="0.40" opacity="0.21"/>
<circle cx="71.6" cy="32.3" r="0.55" opacity="0.27"/>
<circle cx="37.8" cy="11.5" r="0.41" opacity="0.25"/>
<circle cx="56.7" cy="28.4" r="0.49" opacity="0.19"/>
<circle cx="30.8" cy="54.7" r="0.46" opacity="0.24"/>
<circle cx="5.2" cy="9.1" r="0.43" opacity="0.22"/>
<circle cx="30.1" cy="48.1" r="0.43" opacity="0.29"/>
<circle cx="43.6" cy="59.2" r="0.41" opacity="0.15"/>
<circle cx="34.9" cy="39.1" r="0.52" opacity="0.10"/>
<circle cx="59.5" cy="50.0" r="0.59" opacity="0.15"/>
<circle cx="49.3" cy="45.6" r="0.49" opacity="0.13"/>
<circle cx="19.4" cy="65.9" r="0.58" opacity="0.25"/>
<circle cx="49.6" cy="58.8" r="0.43" opacity="0.13"/>
<circle cx="10.5" cy="32.7" r="0.59" opacity="0.20"/>
<circle cx="57.5" cy="53.9" r="0.44" opacity="0.18"/>
<circle cx="9.4" cy="46.1" r="0.59" opacity="0.16"/>
<circle cx="54.0" cy="37.6" r="0.41" opacity="0.27"/>
<circle cx="16.8" cy="19.4" r="0.47" opacity="0.21"/>
<circle cx="60.8" cy="30.2" r="0.48" opacity="0.12"/>
<circle cx="65.7" cy="21.3" r="0.47" opacity="0.25"/>
<circle cx="23.0" cy="14.3" r="0.50" opacity="0.21"/>
<circle cx="8.6" cy="57.2" r="0.40" opacity="0.29"/>
<circle cx="68.0" cy="60.4" r="0.57" opacity="0.25"/>
<circle cx="57.7" cy="21.6" r="0.40" opacity="0.18"/>
<circle cx="10.5" cy="53.8" r="0.38" opacity="0.30"/>
<circle cx="32.3" cy="65.4" r="0.52" opacity="0.29"/>
</g></g>
<g id="hl3" fill="#fff" filter="url(#b2)">
<circle cx="35.3" cy="63.3" r="1.80" opacity="0.85"/>
<circle cx="39.4" cy="62.9" r="1.50" opacity="0.45"/>
<circle cx="10.3" cy="70.6" r="1.20" opacity="0.70"/>
</g>
<g id="bl3" fill="#fff" filter="url(#b6)">
</g>
<g id="bd3" fill="none" stroke="#fff" stroke-linecap="round" stroke-linejoin="round" filter="url(#b4)">
</g>
<g id="tb3" fill="#fff" filter="url(#b3)">
</g>
</defs>
<g transform="translate(17.0,22.5) scale(1.0082,1.0055)" clip-path="url(#pc)">
<rect width="73" height="73" fill="rgb(66,66,66)"/>
<use href="#bl0" opacity="0.07"/>
<use href="#bd0" opacity="0.06"/>
<use href="#tb0" opacity="0.3"/>
<rect width="73" height="73" filter="url(#nc0)" opacity="0.08"/>
<rect x="-30" y="-30" width="135" height="135" transform="rotate(27 36 36)" filter="url(#wb0)" opacity="0.22"/>
<rect width="73" height="73" filter="url(#nz0)" opacity="0.35"/>
<use href="#neu0" opacity="0.25"/>
<use href="#hl0" opacity="0.1"/>
<use href="#sp0" opacity="0.85"/>
</g>
<rect x="70.30" y="90.2" width="17.9" height="3.1" fill="#fff"/>
<g transform="translate(91.8,22.5) scale(1.0082,1.0055)" clip-path="url(#pc)">
<rect width="73" height="73" fill="rgb(68,68,68)"/>
<use href="#bl0" opacity="0.12"/>
<use href="#bd0" opacity="0.1"/>
<use href="#tb0" opacity="0.45"/>
<rect width="73" height="73" filter="url(#nc0)" opacity="0.1"/>
<rect x="-30" y="-30" width="135" height="135" transform="rotate(27 36 36)" filter="url(#wb0)" opacity="0.3"/>
<rect width="73" height="73" filter="url(#nz0)" opacity="0.35"/>
<use href="#neu0" opacity="0.32"/>
<use href="#hl0" opacity="0.2"/>
<use href="#sp0" opacity="0.9"/>
</g>
<rect x="145.10" y="90.2" width="17.9" height="3.1" fill="#fff"/>
<g transform="translate(166.65,22.5) scale(1.0082,1.0055)" clip-path="url(#pc)">
<rect width="73" height="73" fill="rgb(72,72,72)"/>
<use href="#bl0" opacity="0.3"/>
<use href="#bd0" opacity="0.25"/>
<use href="#tb0" opacity="0.85"/>
<rect width="73" height="73" filter="url(#nc0)" opacity="0.16"/>
<rect x="-30" y="-30" width="135" height="135" transform="rotate(27 36 36)" filter="url(#wb0)" opacity="0.52"/>
<rect width="73" height="73" filter="url(#nz0)" opacity="0.4"/>
<use href="#neu0" opacity="0.5"/>
<use href="#hl0" opacity="0.6"/>
<use href="#sp0" opacity="1"/>
</g>
<rect x="219.95" y="90.2" width="17.9" height="3.1" fill="#fff"/>
<g transform="translate(241.6,22.5) scale(1.0082,1.0055)" clip-path="url(#pc)">
<rect width="73" height="73" fill="rgb(78,78,78)"/>
<use href="#bl0" opacity="0.45"/>
<use href="#bd0" opacity="0.4"/>
<use href="#tb0" opacity="1.0"/>
<rect width="73" height="73" filter="url(#nc0)" opacity="0.25"/>
<rect x="-30" y="-30" width="135" height="135" transform="rotate(27 36 36)" filter="url(#wb0)" opacity="0.78"/>
<rect width="73" height="73" filter="url(#nz0)" opacity="0.45"/>
<use href="#neu0" opacity="0.7"/>
<use href="#hl0" opacity="0.9"/>
<use href="#sp0" opacity="1"/>
</g>
<rect x="294.90" y="90.2" width="17.9" height="3.1" fill="#fff"/>
<g transform="translate(17.0,102.6) scale(1.0082,1.0055)" clip-path="url(#pc)">
<rect width="73" height="73" fill="rgb(79,79,79)"/>
<use href="#bl1" opacity="0.14"/>
<use href="#bd1" opacity="0.12"/>
<use href="#tb1" opacity="0.4"/>
<rect width="73" height="73" filter="url(#nc1)" opacity="0.12"/>
<rect x="-30" y="-30" width="135" height="135" transform="rotate(36 36 36)" filter="url(#wb1)" opacity="0.33"/>
<rect width="73" height="73" filter="url(#nz1)" opacity="0.4"/>
<use href="#neu1" opacity="0.25"/>
<use href="#hl1" opacity="0.15"/>
<use href="#sp1" opacity="0.9"/>
</g>
<rect x="70.30" y="170.2" width="17.9" height="3.1" fill="#fff"/>
<g transform="translate(91.8,102.6) scale(1.0082,1.0055)" clip-path="url(#pc)">
<rect width="73" height="73" fill="rgb(81,81,81)"/>
<use href="#bl1" opacity="0.17"/>
<use href="#bd1" opacity="0.15"/>
<use href="#tb1" opacity="0.45"/>
<rect width="73" height="73" filter="url(#nc1)" opacity="0.13"/>
<rect x="-30" y="-30" width="135" height="135" transform="rotate(36 36 36)" filter="url(#wb1)" opacity="0.38"/>
<rect width="73" height="73" filter="url(#nz1)" opacity="0.4"/>
<use href="#neu1" opacity="0.3"/>
<use href="#hl1" opacity="0.2"/>
<use href="#sp1" opacity="0.9"/>
</g>
<rect x="145.10" y="170.2" width="17.9" height="3.1" fill="#fff"/>
<g transform="translate(166.65,102.6) scale(1.0082,1.0055)" clip-path="url(#pc)">
<rect width="73" height="73" fill="rgb(87,87,87)"/>
<use href="#bl1" opacity="0.28"/>
<use href="#bd1" opacity="0.3"/>
<use href="#tb1" opacity="0.7"/>
<rect width="73" height="73" filter="url(#nc1)" opacity="0.18"/>
<rect x="-30" y="-30" width="135" height="135" transform="rotate(36 36 36)" filter="url(#wb1)" opacity="0.56"/>
<rect width="73" height="73" filter="url(#nz1)" opacity="0.45"/>
<use href="#neu1" opacity="0.42"/>
<use href="#hl1" opacity="0.55"/>
<use href="#sp1" opacity="1"/>
</g>
<rect x="219.95" y="170.2" width="17.9" height="3.1" fill="#fff"/>
<g transform="translate(241.6,102.6) scale(1.0082,1.0055)" clip-path="url(#pc)">
<rect width="73" height="73" fill="rgb(95,95,95)"/>
<use href="#bl1" opacity="0.45"/>
<use href="#bd1" opacity="0.5"/>
<use href="#tb1" opacity="1.0"/>
<rect width="73" height="73" filter="url(#nc1)" opacity="0.26"/>
<rect x="-30" y="-30" width="135" height="135" transform="rotate(36 36 36)" filter="url(#wb1)" opacity="0.85"/>
<rect width="73" height="73" filter="url(#nz1)" opacity="0.5"/>
<use href="#neu1" opacity="0.65"/>
<use href="#hl1" opacity="0.9"/>
<use href="#sp1" opacity="1"/>
</g>
<rect x="294.90" y="170.2" width="17.9" height="3.1" fill="#fff"/>
<g transform="translate(17.0,182.9) scale(1.0082,1.0055)" clip-path="url(#pc)">
<rect width="73" height="73" fill="rgb(64,64,64)"/>
<use href="#bl2" opacity="0.15"/>
<use href="#bd2" opacity="0.1"/>
<use href="#tb2" opacity="0.3"/>
<rect width="73" height="73" filter="url(#nc2)" opacity="0.06"/>
<rect x="-30" y="-30" width="135" height="135" transform="rotate(45 36 36)" filter="url(#wb2)" opacity="0.22"/>
<rect width="73" height="73" filter="url(#nz2)" opacity="0.3"/>
<use href="#neu2" opacity="0.13"/>
<use href="#hl2" opacity="0.1"/>
<use href="#sp2" opacity="0.9"/>
</g>
<rect x="70.30" y="250.3" width="17.9" height="3.1" fill="#fff"/>
<g transform="translate(91.8,182.9) scale(1.0082,1.0055)" clip-path="url(#pc)">
<rect width="73" height="73" fill="rgb(65,65,65)"/>
<use href="#bl2" opacity="0.18"/>
<use href="#bd2" opacity="0.13"/>
<use href="#tb2" opacity="0.35"/>
<rect width="73" height="73" filter="url(#nc2)" opacity="0.07"/>
<rect x="-30" y="-30" width="135" height="135" transform="rotate(45 36 36)" filter="url(#wb2)" opacity="0.24"/>
<rect width="73" height="73" filter="url(#nz2)" opacity="0.3"/>
<use href="#neu2" opacity="0.15"/>
<use href="#hl2" opacity="0.15"/>
<use href="#sp2" opacity="0.9"/>
</g>
<rect x="145.10" y="250.3" width="17.9" height="3.1" fill="#fff"/>
<g transform="translate(166.65,182.9) scale(1.0082,1.0055)" clip-path="url(#pc)">
<rect width="73" height="73" fill="rgb(66,66,66)"/>
<use href="#bl2" opacity="0.25"/>
<use href="#bd2" opacity="0.18"/>
<use href="#tb2" opacity="0.45"/>
<rect width="73" height="73" filter="url(#nc2)" opacity="0.08"/>
<rect x="-30" y="-30" width="135" height="135" transform="rotate(45 36 36)" filter="url(#wb2)" opacity="0.28"/>
<rect width="73" height="73" filter="url(#nz2)" opacity="0.3"/>
<use href="#neu2" opacity="0.2"/>
<use href="#hl2" opacity="0.25"/>
<use href="#sp2" opacity="0.95"/>
</g>
<rect x="219.95" y="250.3" width="17.9" height="3.1" fill="#fff"/>
<g transform="translate(241.6,182.9) scale(1.0082,1.0055)" clip-path="url(#pc)">
<rect width="73" height="73" fill="rgb(68,68,68)"/>
<use href="#bl2" opacity="0.5"/>
<use href="#bd2" opacity="0.4"/>
<use href="#tb2" opacity="0.8"/>
<rect width="73" height="73" filter="url(#nc2)" opacity="0.13"/>
<rect x="-30" y="-30" width="135" height="135" transform="rotate(45 36 36)" filter="url(#wb2)" opacity="0.5"/>
<rect width="73" height="73" filter="url(#nz2)" opacity="0.35"/>
<use href="#neu2" opacity="0.35"/>
<use href="#hl2" opacity="0.6"/>
<use href="#sp2" opacity="1"/>
</g>
<rect x="294.90" y="250.3" width="17.9" height="3.1" fill="#fff"/>
<g transform="translate(17.0,263.7) scale(1.0082,1.0055)" clip-path="url(#pc)">
<rect width="73" height="73" fill="rgb(64,64,64)"/>
<use href="#bl3" opacity="0.3"/>
<use href="#tb3" opacity="0.2"/>
<rect width="73" height="73" filter="url(#nc3)" opacity="0.03"/>
<rect x="-30" y="-30" width="135" height="135" transform="rotate(54 36 36)" filter="url(#wb3)" opacity="0.03"/>
<rect width="73" height="73" filter="url(#nz3)" opacity="0.2"/>
<use href="#neu3" opacity="0.03"/>
<use href="#sp3" opacity="0.8"/>
<use href="#dm3" opacity="0.15"/>
</g>
<rect x="70.30" y="330.9" width="17.9" height="3.1" fill="#fff"/>
<g transform="translate(91.8,263.7) scale(1.0082,1.0055)" clip-path="url(#pc)">
<rect width="73" height="73" fill="rgb(64,64,64)"/>
<use href="#bl3" opacity="0.35"/>
<use href="#tb3" opacity="0.3"/>
<rect width="73" height="73" filter="url(#nc3)" opacity="0.03"/>
<rect x="-30" y="-30" width="135" height="135" transform="rotate(54 36 36)" filter="url(#wb3)" opacity="0.03"/>
<rect width="73" height="73" filter="url(#nz3)" opacity="0.2"/>
<use href="#neu3" opacity="0.04"/>
<use href="#sp3" opacity="0.85"/>
<use href="#dm3" opacity="0.2"/>
</g>
<rect x="145.10" y="330.9" width="17.9" height="3.1" fill="#fff"/>
<g transform="translate(166.65,263.7) scale(1.0082,1.0055)" clip-path="url(#pc)">
<rect width="73" height="73" fill="rgb(65,65,65)"/>
<use href="#bl3" opacity="0.5"/>
<use href="#tb3" opacity="0.6"/>
<rect width="73" height="73" filter="url(#nc3)" opacity="0.04"/>
<rect x="-30" y="-30" width="135" height="135" transform="rotate(54 36 36)" filter="url(#wb3)" opacity="0.05"/>
<rect width="73" height="73" filter="url(#nz3)" opacity="0.2"/>
<use href="#neu3" opacity="0.08"/>
<use href="#sp3" opacity="0.9"/>
<use href="#dm3" opacity="0.55"/>
</g>
<rect x="219.95" y="330.9" width="17.9" height="3.1" fill="#fff"/>
<g transform="translate(241.6,263.7) scale(1.0082,1.0055)" clip-path="url(#pc)">
<rect width="73" height="73" fill="rgb(66,66,66)"/>
<use href="#bl3" opacity="1.0"/>
<use href="#tb3" opacity="1.0"/>
<rect width="73" height="73" filter="url(#nc3)" opacity="0.06"/>
<rect x="-30" y="-30" width="135" height="135" transform="rotate(54 36 36)" filter="url(#wb3)" opacity="0.1"/>
<rect width="73" height="73" filter="url(#nz3)" opacity="0.22"/>
<use href="#neu3" opacity="0.2"/>
<use href="#hl3" opacity="0.3"/>
<use href="#sp3" opacity="1"/>
<use href="#dm3" opacity="1.0"/>
</g>
<rect x="294.90" y="330.9" width="17.9" height="3.1" fill="#fff"/>
<text x="-0.20" y="11.70" font-family="'Liberation Sans', sans-serif" font-size="17.5" text-anchor="start" fill="#000" stroke="#000" stroke-width="0.25">A</text>
<text x="54.20" y="12.30" font-family="'Liberation Sans', sans-serif" font-size="8.2" text-anchor="middle" fill="#000">Baseline</text>
<text x="129.00" y="12.30" font-family="'Liberation Sans', sans-serif" font-size="8.2" text-anchor="middle" fill="#000">3 AP</text>
<text x="203.85" y="12.30" font-family="'Liberation Sans', sans-serif" font-size="8.2" text-anchor="middle" fill="#000">10 AP</text>
<text x="278.80" y="12.30" font-family="'Liberation Sans', sans-serif" font-size="8.2" text-anchor="middle" fill="#000">160 AP</text>
<text x="6.90" y="59.10" font-family="'Liberation Sans', sans-serif" font-size="8" text-anchor="middle" fill="#000" transform="rotate(-90 6.90 59.10)">jRGECO1a</text>
<text x="6.90" y="139.20" font-family="'Liberation Sans', sans-serif" font-size="8" text-anchor="middle" fill="#000" transform="rotate(-90 6.90 139.20)">jRCaMP1a</text>
<text x="6.90" y="218.70" font-family="'Liberation Sans', sans-serif" font-size="7.85" text-anchor="middle" fill="#000" transform="rotate(-90 6.90 218.70)">FR-GECO1a</text>
<text x="6.90" y="299.50" font-family="'Liberation Sans', sans-serif" font-size="7.85" text-anchor="middle" fill="#000" transform="rotate(-90 6.90 299.50)">FR-GECO1c</text>
<text x="333.20" y="13.10" font-family="'Liberation Sans', sans-serif" font-size="16.9" text-anchor="start" fill="#000" stroke="#000" stroke-width="0.25">B</text>
<text x="402.40" y="6.30" font-family="'DejaVu Sans', sans-serif" font-size="6.6" text-anchor="middle" fill="#000">3 Action potentials</text>
<line x1="366.50" y1="9.00" x2="366.50" y2="76.40" stroke="#222" stroke-width="0.6"/>
<line x1="366.50" y1="83.50" x2="439.00" y2="83.50" stroke="#222" stroke-width="0.6"/>
<line x1="364.50" y1="17.20" x2="366.50" y2="17.20" stroke="#222" stroke-width="0.5"/>
<text x="362.90" y="19.90" font-family="'DejaVu Sans', sans-serif" font-size="6.0" text-anchor="end" fill="#000">0.2</text>
<line x1="364.50" y1="42.00" x2="366.50" y2="42.00" stroke="#222" stroke-width="0.5"/>
<text x="362.90" y="44.70" font-family="'DejaVu Sans', sans-serif" font-size="6.0" text-anchor="end" fill="#000">0.1</text>
<line x1="364.50" y1="66.70" x2="366.50" y2="66.70" stroke="#222" stroke-width="0.5"/>
<text x="362.90" y="69.40" font-family="'DejaVu Sans', sans-serif" font-size="6.0" text-anchor="end" fill="#000">0.0</text>
<line x1="369.70" y1="83.50" x2="369.70" y2="85.50" stroke="#222" stroke-width="0.5"/>
<text x="369.70" y="91.80" font-family="'DejaVu Sans', sans-serif" font-size="6.0" text-anchor="middle" fill="#000">0.0</text>
<line x1="395.07" y1="83.50" x2="395.07" y2="85.50" stroke="#222" stroke-width="0.5"/>
<text x="395.07" y="91.80" font-family="'DejaVu Sans', sans-serif" font-size="6.0" text-anchor="middle" fill="#000">2.5</text>
<line x1="420.45" y1="83.50" x2="420.45" y2="85.50" stroke="#222" stroke-width="0.5"/>
<text x="420.45" y="91.80" font-family="'DejaVu Sans', sans-serif" font-size="6.0" text-anchor="middle" fill="#000">5.0</text>
<text x="402.95" y="99.00" font-family="'DejaVu Sans', sans-serif" font-size="6.3" text-anchor="middle" fill="#000">Time (s)</text>
<text x="350.20" y="42.70" font-family="'DejaVu Sans', sans-serif" font-size="6.3" text-anchor="middle" fill="#000" transform="rotate(-90 350.20 42.70)" font-style="italic">ΔF/F0</text>
<line x1="377.40" y1="77.20" x2="377.40" y2="83.50" stroke="#000" stroke-width="0.7"/>
<polyline points="369.70,61.10 369.76,60.50 369.82,60.34 369.88,59.46 369.94,60.18 370.00,60.14 370.06,60.26 370.12,60.02 370.18,60.28 370.24,60.09 370.30,59.71 370.36,60.70 370.42,60.70 370.48,61.07 370.54,60.32 370.60,60.12 370.66,60.05 370.72,59.60 370.78,60.74 370.84,59.80 370.90,59.77 370.96,60.21 371.02,60.97 371.08,60.41 371.14,59.84 371.20,59.98 371.26,60.58 371.32,60.23 371.38,59.95 371.44,60.20 371.50,60.64 371.56,61.19 371.62,59.74 371.68,60.02 371.74,59.94 371.80,59.21 371.86,59.88 371.92,59.84 371.98,60.81 372.04,60.24 372.10,59.57 372.16,60.59 372.22,60.14 372.28,59.52 372.34,60.03 372.40,60.04 372.46,59.91 372.52,60.31 372.58,59.29 372.64,60.18 372.70,60.76 372.76,60.68 372.82,60.80 372.88,60.80 372.94,60.97 373.00,59.80 373.06,60.68 373.12,59.46 373.18,60.03 373.24,59.44 373.30,60.77 373.36,60.90 373.42,60.21 373.48,61.10 373.54,60.00 373.60,60.37 373.66,60.37 373.72,59.82 373.78,60.50 373.84,61.17 373.90,59.84 373.96,60.70 374.02,60.23 374.08,61.10 374.14,60.52 374.20,60.60 374.26,60.59 374.32,60.41 374.38,59.67 374.44,60.93 374.50,59.68 374.56,60.41 374.62,60.58 374.68,59.92 374.74,60.37 374.80,60.83 374.86,60.29 374.92,59.90 374.98,58.99 375.04,59.86 375.10,60.03 375.16,60.07 375.22,59.87 375.28,60.47 375.34,60.04 375.40,60.25 375.46,60.61 375.52,59.92 375.58,60.16 375.64,61.27 375.70,60.69 375.76,59.72 375.82,60.26 375.88,60.55 375.94,60.86 376.00,60.37 376.06,60.06 376.12,59.97 376.18,60.59 376.24,60.44 376.30,60.07 376.36,60.21 376.42,60.11 376.48,60.63 376.54,59.99 376.60,60.52 376.66,60.68 376.72,60.52 376.78,59.92 376.84,60.91 376.90,59.99 376.96,60.49 377.02,59.96 377.08,59.52 377.14,60.40 377.20,60.43 377.26,60.27 377.32,60.42 377.38,60.01 377.44,58.70 377.50,57.06 377.56,56.10 377.62,53.71 377.68,51.21 377.74,49.80 377.80,47.43 377.86,45.55 377.92,44.24 377.98,41.72 378.04,39.31 378.10,37.75 378.16,36.30 378.22,34.64 378.28,33.90 378.34,31.77 378.40,31.17 378.46,29.79 378.52,28.28 378.58,27.48 378.64,26.08 378.70,24.22 378.76,23.85 378.82,21.57 378.88,20.90 378.94,19.63 379.00,18.57 379.06,16.80 379.12,16.37 379.18,16.56 379.24,17.32 379.30,16.76 379.36,17.39 379.42,17.49 379.48,17.26 379.54,19.30 379.60,18.30 379.66,17.91 379.72,19.46 379.78,18.59 379.84,19.48 379.90,19.95 379.96,19.51 380.02,19.85 380.08,20.05 380.14,20.48 380.20,20.05 380.26,20.47 380.32,21.20 380.38,21.98 380.44,22.04 380.50,22.78 380.56,22.59 380.62,22.33 380.68,22.78 380.74,22.20 380.80,22.96 380.86,23.21 380.92,24.07 380.98,24.51 381.04,24.25 381.10,24.51 381.16,24.36 381.22,25.28 381.28,25.72 381.34,26.09 381.40,25.82 381.46,27.34 381.52,27.26 381.58,26.96 381.64,27.04 381.70,27.41 381.76,27.90 381.82,28.11 381.88,28.61 381.94,29.02 382.00,29.56 382.06,29.74 382.12,29.45 382.18,29.96 382.24,29.88 382.30,30.07 382.36,31.47 382.42,30.67 382.48,32.02 382.54,31.20 382.60,31.71 382.66,32.33 382.72,32.09 382.78,32.50 382.84,32.45 382.90,32.59 382.96,32.97 383.02,32.99 383.08,34.25 383.14,33.68 383.20,34.78 383.26,33.03 383.32,34.49 383.38,34.97 383.44,34.83 383.50,35.69 383.56,35.73 383.62,35.56 383.68,36.12 383.74,37.43 383.80,36.51 383.86,36.77 383.92,36.68 383.98,37.18 384.04,36.78 384.10,37.51 384.16,38.95 384.22,38.56 384.28,38.61 384.34,39.06 384.40,39.65 384.46,39.31 384.52,40.21 384.58,40.00 384.64,39.83 384.70,40.77 384.76,39.18 384.82,40.22 384.88,40.84 384.94,40.55 385.00,41.13 385.06,41.15 385.12,41.39 385.18,43.14 385.24,42.44 385.30,42.38 385.36,43.23 385.42,42.77 385.48,43.52 385.54,43.44 385.60,44.14 385.66,42.90 385.72,44.01 385.78,43.85 385.84,43.40 385.90,44.53 385.96,43.78 386.02,45.03 386.08,44.66 386.14,44.87 386.20,44.72 386.26,45.22 386.32,44.10 386.38,45.10 386.44,44.91 386.50,45.45 386.56,45.43 386.62,45.85 386.68,45.32 386.74,46.66 386.80,47.00 386.86,45.99 386.92,46.20 386.98,46.47 387.04,47.03 387.10,47.45 387.16,46.18 387.22,46.57 387.28,46.50 387.34,46.60 387.40,46.49 387.46,47.52 387.52,46.96 387.58,48.29 387.64,48.15 387.70,47.40 387.76,47.53 387.82,47.84 387.88,48.88 387.94,47.99 388.00,47.83 388.06,48.57 388.12,48.85 388.18,48.47 388.24,49.58 388.30,49.05 388.36,49.24 388.42,48.74 388.48,49.19 388.54,49.23 388.60,48.37 388.66,49.61 388.72,48.76 388.78,49.64 388.84,49.08 388.90,50.74 388.96,50.07 389.02,50.40 389.08,50.51 389.14,49.59 389.20,49.25 389.26,50.22 389.32,50.86 389.38,50.59 389.44,50.99 389.50,51.14 389.56,50.14 389.62,51.03 389.68,51.87 389.74,50.82 389.80,50.25 389.86,51.15 389.92,51.14 389.98,51.62 390.04,51.12 390.10,51.65 390.16,50.70 390.22,52.17 390.28,52.59 390.34,52.55 390.40,51.37 390.46,52.29 390.52,50.89 390.58,52.45 390.64,52.38 390.70,52.05 390.76,52.70 390.82,52.66 390.88,53.07 390.94,52.75 391.00,52.85 391.06,51.92 391.12,52.32 391.18,52.67 391.24,53.07 391.30,52.98 391.36,53.71 391.42,52.69 391.48,53.02 391.54,53.29 391.60,53.12 391.66,53.50 391.72,53.07 391.78,54.01 391.84,53.28 391.90,53.97 391.96,53.50 392.02,54.24 392.08,52.99 392.14,53.90 392.20,53.52 392.26,53.86 392.32,54.35 392.38,53.34 392.44,53.31 392.50,53.50 392.56,54.12 392.62,53.20 392.68,54.14 392.74,53.57 392.80,53.68 392.86,54.08 392.92,54.46 392.98,54.06 393.04,54.17 393.10,54.42 393.16,54.36 393.22,53.33 393.28,54.39 393.34,54.67 393.40,55.17 393.46,55.65 393.52,55.08 393.58,54.86 393.64,54.44 393.70,54.96 393.76,55.32 393.82,55.59 393.88,54.67 393.94,55.22 394.00,55.53 394.06,56.05 394.12,55.38 394.18,55.07 394.24,55.05 394.30,55.25 394.36,55.16 394.42,55.88 394.48,56.03 394.54,55.93 394.60,56.19 394.66,55.49 394.72,55.92 394.78,55.62 394.84,55.86 394.90,56.44 394.96,55.93 395.02,55.15 395.08,55.92 395.14,55.77 395.20,55.46 395.26,55.83 395.32,56.66 395.38,57.04 395.44,56.11 395.50,56.83 395.56,56.96 395.62,55.95 395.68,56.50 395.74,56.55 395.80,56.70 395.86,55.95 395.92,56.55 395.98,57.21 396.04,57.33 396.10,57.61 396.16,56.66 396.22,57.68 396.28,57.16 396.34,56.28 396.40,57.26 396.46,56.78 396.52,57.20 396.58,56.95 396.64,57.56 396.70,57.16 396.76,56.94 396.82,57.53 396.88,57.24 396.94,56.96 397.00,57.75 397.06,57.02 397.12,56.94 397.18,57.01 397.24,56.62 397.30,57.05 397.36,58.17 397.42,56.95 397.48,57.39 397.54,56.91 397.60,57.16 397.66,58.14 397.72,57.89 397.78,57.24 397.84,57.54 397.90,57.19 397.96,57.24 398.02,57.20 398.08,57.24 398.14,57.81 398.20,57.96 398.26,57.94 398.32,57.67 398.38,57.16 398.44,57.77 398.50,57.41 398.56,58.24 398.62,58.12 398.68,58.24 398.74,57.77 398.80,57.14 398.86,58.41 398.92,58.55 398.98,57.36 399.04,58.12 399.10,58.62 399.16,57.62 399.22,58.93 399.28,58.00 399.34,57.70 399.40,58.83 399.46,58.37 399.52,57.97 399.58,58.68 399.64,57.43 399.70,59.16 399.76,58.00 399.82,58.52 399.88,58.24 399.94,58.64 400.00,58.87 400.06,58.12 400.12,58.87 400.18,58.41 400.24,58.26 400.30,58.50 400.36,58.17 400.42,58.29 400.48,59.10 400.54,58.63 400.60,59.24 400.66,58.95 400.72,58.32 400.78,57.95 400.84,58.52 400.90,58.98 400.96,58.89 401.02,58.53 401.08,59.38 401.14,58.15 401.20,58.39 401.26,59.02 401.32,59.97 401.38,59.19 401.44,58.56 401.50,59.30 401.56,59.35 401.62,59.48 401.68,58.89 401.74,58.73 401.80,59.16 401.86,59.31 401.92,59.86 401.98,60.10 402.04,58.84 402.10,58.95 402.16,59.17 402.22,59.10 402.28,59.45 402.34,59.47 402.40,59.38 402.46,59.88 402.52,59.22 402.58,58.84 402.64,58.62 402.70,58.88 402.76,58.89 402.82,58.53 402.88,59.69 402.94,59.49 403.00,59.23 403.06,59.04 403.12,58.74 403.18,59.05 403.24,60.31 403.30,58.50 403.36,59.58 403.42,59.86 403.48,59.61 403.54,59.42 403.60,59.92 403.66,59.10 403.72,59.86 403.78,60.27 403.84,59.17 403.90,59.29 403.96,59.73 404.02,60.13 404.08,60.30 404.14,60.02 404.20,59.43 404.26,59.25 404.32,59.87 404.38,59.96 404.44,59.30 404.50,59.84 404.56,59.98 404.62,60.31 404.68,59.41 404.74,60.12 404.80,59.36 404.86,59.71 404.92,59.88 404.98,60.62 405.04,61.44 405.10,60.08 405.16,60.20 405.22,60.45 405.28,59.40 405.34,60.37 405.40,59.49 405.46,60.79 405.52,60.72 405.58,60.32 405.64,59.74 405.70,60.87 405.76,60.25 405.82,60.20 405.88,60.43 405.94,59.41 406.00,60.39 406.06,60.66 406.12,60.38 406.18,60.31 406.24,59.83 406.30,60.57 406.36,60.38 406.42,60.31 406.48,60.07 406.54,60.73 406.60,60.92 406.66,60.55 406.72,60.79 406.78,61.00 406.84,61.13 406.90,60.54 406.96,60.35 407.02,60.28 407.08,60.49 407.14,60.74 407.20,60.93 407.26,60.34 407.32,60.61 407.38,60.11 407.44,61.14 407.50,60.41 407.56,60.77 407.62,60.30 407.68,60.50 407.74,60.34 407.80,61.44 407.86,60.85 407.92,60.62 407.98,60.29 408.04,60.46 408.10,61.00 408.16,61.51 408.22,60.13 408.28,60.38 408.34,60.73 408.40,60.54 408.46,60.09 408.52,60.86 408.58,61.21 408.64,60.18 408.70,61.00 408.76,61.35 408.82,61.37 408.88,60.76 408.94,62.00 409.00,61.23 409.06,60.63 409.12,61.45 409.18,60.52 409.24,61.45 409.30,60.49 409.36,61.43 409.42,60.83 409.48,61.61 409.54,61.45 409.60,61.34 409.66,61.18 409.72,61.66 409.78,60.37 409.84,61.39 409.90,61.40 409.96,61.48 410.02,61.62 410.08,62.93 410.14,61.33 410.20,61.65 410.26,61.38 410.32,62.03 410.38,60.43 410.44,62.12 410.50,61.06 410.56,60.37 410.62,60.92 410.68,61.34 410.74,61.52 410.80,61.43 410.86,61.83 410.92,61.46 410.98,61.47 411.04,60.54 411.10,61.74 411.16,61.99 411.22,61.36 411.28,60.71 411.34,60.97 411.40,62.34 411.46,61.32 411.52,61.31 411.58,61.25 411.64,61.94 411.70,61.38 411.76,61.27 411.82,60.99 411.88,61.64 411.94,62.15 412.00,61.64 412.06,62.12 412.12,61.81 412.18,61.81 412.24,61.84 412.30,61.79 412.36,62.25 412.42,62.02 412.48,61.55 412.54,61.88 412.60,61.80 412.66,62.07 412.72,61.94 412.78,62.06 412.84,61.22 412.90,62.07 412.96,62.50 413.02,61.31 413.08,62.66 413.14,62.08 413.20,61.87 413.26,61.16 413.32,62.47 413.38,61.56 413.44,61.78 413.50,62.27 413.56,61.57 413.62,61.60 413.68,61.54 413.74,62.02 413.80,62.35 413.86,62.28 413.92,62.29 413.98,61.97 414.04,62.20 414.10,61.84 414.16,63.06 414.22,62.26 414.28,61.31 414.34,61.72 414.40,62.93 414.46,61.61 414.52,62.04 414.58,62.43 414.64,61.77 414.70,62.75 414.76,63.04 414.82,61.93 414.88,62.82 414.94,61.92 415.00,61.89 415.06,62.46 415.12,62.47 415.18,62.11 415.24,62.77 415.30,61.74 415.36,62.03 415.42,61.94 415.48,62.78 415.54,62.81 415.60,62.76 415.66,61.89 415.72,62.55 415.78,62.71 415.84,61.78 415.90,62.15 415.96,62.83 416.02,62.87 416.08,62.68 416.14,62.82 416.20,62.73 416.26,62.67 416.32,62.56 416.38,62.23 416.44,62.53 416.50,62.47 416.56,63.71 416.62,62.79 416.68,62.68 416.74,62.60 416.80,62.66 416.86,62.60 416.92,62.98 416.98,62.74 417.04,63.13 417.10,62.46 417.16,62.95 417.22,63.20 417.28,62.29 417.34,62.90 417.40,62.95 417.46,62.70 417.52,62.64 417.58,62.04 417.64,63.41 417.70,62.48 417.76,62.36 417.82,63.22 417.88,62.11 417.94,63.38 418.00,63.16 418.06,63.25 418.12,62.91 418.18,62.45 418.24,62.16 418.30,63.68 418.36,62.83 418.42,62.82 418.48,63.78 418.54,62.79 418.60,62.98 418.66,62.99 418.72,63.05 418.78,62.66 418.84,62.89 418.90,63.73 418.96,63.51 419.02,61.84 419.08,62.31 419.14,63.35 419.20,63.16 419.26,63.06 419.32,63.71 419.38,62.45 419.44,63.80 419.50,63.34 419.56,63.54 419.62,63.42 419.68,63.70 419.74,63.21 419.80,63.10 419.86,63.70 419.92,63.44 419.98,62.81 420.04,64.00 420.10,63.95 420.16,64.06 420.22,63.46 420.28,63.60 420.34,63.28 420.40,63.03 420.46,63.51 420.52,63.57 420.58,63.20 420.64,64.34 420.70,62.80 420.76,63.17 420.82,63.25 420.88,64.15 420.94,63.46 421.00,63.44 421.06,63.20 421.12,63.27 421.18,63.04 421.24,64.10 421.30,63.93 421.36,64.11 421.42,63.38 421.48,64.82 421.54,63.26 421.60,62.79 421.66,63.60 421.72,63.80 421.78,64.09 421.84,63.31 421.90,64.04 421.96,64.56 422.02,63.42 422.08,63.48 422.14,63.06 422.20,63.94 422.26,64.23 422.32,64.20 422.38,64.23 422.44,64.51 422.50,63.94 422.56,64.32 422.62,63.47 422.68,63.55 422.74,64.02 422.80,63.56 422.86,64.19 422.92,64.56 422.98,64.14 423.04,63.63 423.10,63.64 423.16,64.60 423.22,63.63 423.28,64.04 423.34,63.89 423.40,64.04 423.46,64.52 423.52,63.80 423.58,63.41 423.64,64.71 423.70,64.17 423.76,64.40 423.82,64.08 423.88,64.45 423.94,64.67 424.00,64.73 424.06,64.00 424.12,63.97 424.18,64.32 424.24,64.25 424.30,64.42 424.36,63.85 424.42,63.13 424.48,64.39 424.54,64.55 424.60,64.50 424.66,64.96 424.72,64.61 424.78,64.06 424.84,64.69 424.90,64.22 424.96,64.83 425.02,64.38 425.08,64.49 425.14,64.40 425.20,64.33 425.26,63.64 425.32,64.35 425.38,63.31 425.44,64.56 425.50,64.80 425.56,65.28 425.62,64.54 425.68,64.06 425.74,63.67 425.80,65.27 425.86,63.76 425.92,64.82 425.98,63.39 426.04,64.41 426.10,64.75 426.16,64.60 426.22,64.44 426.28,64.10 426.34,64.07 426.40,64.95 426.46,64.70 426.52,64.44 426.58,64.61 426.64,64.11 426.70,65.00 426.76,65.12 426.82,64.21 426.88,64.61 426.94,65.05 427.00,64.30 427.06,65.51 427.12,65.28 427.18,64.49 427.24,65.06 427.30,65.38 427.36,64.08 427.42,64.93 427.48,64.60 427.54,64.57 427.60,65.00 427.66,64.47 427.72,64.07 427.78,64.07 427.84,64.71 427.90,65.01 427.96,64.73 428.02,64.68 428.08,64.74 428.14,65.35 428.20,65.01 428.26,64.45 428.32,64.66 428.38,65.34 428.44,64.55 428.50,64.64 428.56,64.82 428.62,64.36 428.68,65.26 428.74,63.87 428.80,65.52 428.86,64.68 428.92,64.32 428.98,65.02 429.04,64.14 429.10,65.16 429.16,65.27 429.22,64.68 429.28,64.77 429.34,65.38 429.40,64.66 429.46,64.98 429.52,65.14 429.58,65.69 429.64,64.77 429.70,65.03 429.76,65.53 429.82,63.88 429.88,64.92 429.94,64.19 430.00,64.23 430.06,65.95 430.12,65.17 430.18,65.75 430.24,64.99 430.30,65.35 430.36,64.92 430.42,64.88 430.48,65.10 430.54,65.20 430.60,65.84 430.66,65.07 430.72,65.34 430.78,65.06 430.84,65.25 430.90,64.61 430.96,65.70 431.02,64.98 431.08,65.25 431.14,65.14 431.20,65.69 431.26,65.49 431.32,65.27 431.38,65.35 431.44,65.44 431.50,65.63 431.56,65.53 431.62,65.89 431.68,66.05 431.74,65.61 431.80,64.74 431.86,66.14 431.92,66.33 431.98,65.20 432.04,65.19 432.10,64.46 432.16,65.75 432.22,64.95 432.28,66.24 432.34,64.31 432.40,65.47 432.46,65.75 432.52,65.27 432.58,65.10 432.64,65.58 432.70,65.24 432.76,65.34 432.82,65.48 432.88,65.26 432.94,65.42 433.00,65.88 433.06,65.36 433.12,65.62 433.18,65.22 433.24,65.98 433.30,65.00 433.36,66.02 433.42,64.23 433.48,65.19 433.54,64.90 433.60,66.08 433.66,65.75 433.72,65.05 433.78,65.39 433.84,66.26 433.90,65.64 433.96,65.93 434.02,65.00 434.08,65.01 434.14,65.96 434.20,66.75 434.26,65.48 434.32,65.99 434.38,65.31 434.44,66.31 434.50,65.55 434.56,65.57 434.62,64.92 434.68,65.59 434.74,65.87 434.80,66.42 434.86,65.28 434.92,66.26 434.98,65.67 435.04,65.70 435.10,65.42 435.16,65.09 435.22,65.31 435.28,66.60 435.34,65.34 435.40,65.69 435.46,66.39 435.52,64.95 435.58,66.11 435.64,65.69" fill="none" stroke="#000000" stroke-width="0.55" stroke-linejoin="round"/>
<polyline points="369.70,61.30 369.76,61.81 369.82,61.05 369.88,61.01 369.94,61.70 370.00,61.64 370.06,60.62 370.12,61.02 370.18,60.15 370.24,62.13 370.30,60.25 370.36,61.30 370.42,62.47 370.48,61.77 370.54,60.94 370.60,60.62 370.66,60.69 370.72,61.85 370.78,61.42 370.84,61.17 370.90,63.13 370.96,60.55 371.02,60.81 371.08,60.89 371.14,61.34 371.20,61.41 371.26,60.97 371.32,61.73 371.38,61.58 371.44,60.95 371.50,59.33 371.56,61.76 371.62,60.46 371.68,60.68 371.74,61.05 371.80,60.23 371.86,60.55 371.92,61.20 371.98,60.89 372.04,61.38 372.10,60.49 372.16,60.96 372.22,60.34 372.28,60.92 372.34,61.35 372.40,60.95 372.46,60.06 372.52,60.99 372.58,61.24 372.64,61.98 372.70,61.10 372.76,60.83 372.82,60.26 372.88,62.63 372.94,60.42 373.00,60.29 373.06,61.02 373.12,59.77 373.18,61.94 373.24,61.27 373.30,61.51 373.36,60.41 373.42,60.76 373.48,61.78 373.54,61.82 373.60,63.27 373.66,61.97 373.72,59.73 373.78,61.21 373.84,60.88 373.90,61.97 373.96,61.08 374.02,61.52 374.08,60.91 374.14,61.61 374.20,62.25 374.26,60.70 374.32,59.63 374.38,60.38 374.44,62.33 374.50,61.32 374.56,60.94 374.62,60.44 374.68,61.95 374.74,61.38 374.80,61.08 374.86,60.75 374.92,61.04 374.98,60.92 375.04,61.59 375.10,62.12 375.16,59.69 375.22,60.07 375.28,61.09 375.34,61.22 375.40,60.00 375.46,60.69 375.52,60.86 375.58,60.83 375.64,60.81 375.70,61.09 375.76,61.82 375.82,61.71 375.88,61.60 375.94,61.37 376.00,60.62 376.06,60.80 376.12,61.68 376.18,61.25 376.24,61.76 376.30,61.36 376.36,61.21 376.42,61.49 376.48,60.01 376.54,61.04 376.60,60.72 376.66,61.79 376.72,60.66 376.78,61.33 376.84,60.84 376.90,61.51 376.96,61.70 377.02,61.00 377.08,61.23 377.14,61.29 377.20,61.73 377.26,60.91 377.32,61.18 377.38,60.83 377.44,59.26 377.50,58.36 377.56,56.79 377.62,54.12 377.68,54.15 377.74,50.66 377.80,50.02 377.86,47.99 377.92,44.68 377.98,44.19 378.04,41.27 378.10,40.62 378.16,39.46 378.22,38.58 378.28,36.03 378.34,32.55 378.40,31.68 378.46,31.88 378.52,29.70 378.58,29.71 378.64,26.65 378.70,25.59 378.76,23.81 378.82,23.35 378.88,23.39 378.94,20.56 379.00,20.70 379.06,19.23 379.12,18.29 379.18,16.32 379.24,15.34 379.30,15.74 379.36,13.32 379.42,14.95 379.48,15.63 379.54,14.96 379.60,15.97 379.66,12.62 379.72,14.73 379.78,14.20 379.84,14.88 379.90,15.23 379.96,15.79 380.02,14.90 380.08,16.32 380.14,14.60 380.20,16.62 380.26,15.82 380.32,14.80 380.38,14.91 380.44,15.01 380.50,15.73 380.56,16.68 380.62,17.70 380.68,17.42 380.74,15.94 380.80,15.33 380.86,16.95 380.92,16.22 380.98,17.27 381.04,17.01 381.10,19.57 381.16,16.46 381.22,18.11 381.28,19.38 381.34,17.80 381.40,17.63 381.46,19.60 381.52,16.86 381.58,17.28 381.64,17.77 381.70,19.11 381.76,19.51 381.82,18.95 381.88,20.80 381.94,19.13 382.00,19.40 382.06,19.27 382.12,20.54 382.18,19.73 382.24,19.53 382.30,21.20 382.36,21.01 382.42,20.91 382.48,19.30 382.54,19.55 382.60,20.29 382.66,20.38 382.72,20.36 382.78,20.62 382.84,21.39 382.90,20.24 382.96,21.30 383.02,20.92 383.08,20.96 383.14,21.22 383.20,22.09 383.26,21.85 383.32,21.16 383.38,22.11 383.44,22.07 383.50,22.38 383.56,21.98 383.62,23.04 383.68,22.68 383.74,21.64 383.80,21.64 383.86,21.65 383.92,23.12 383.98,22.41 384.04,22.77 384.10,23.09 384.16,24.17 384.22,25.00 384.28,23.38 384.34,25.07 384.40,24.09 384.46,24.69 384.52,23.68 384.58,23.06 384.64,24.46 384.70,25.17 384.76,23.13 384.82,24.37 384.88,24.68 384.94,25.07 385.00,23.91 385.06,24.41 385.12,25.63 385.18,26.40 385.24,25.22 385.30,25.99 385.36,25.48 385.42,25.78 385.48,25.27 385.54,25.48 385.60,25.31 385.66,25.91 385.72,26.75 385.78,26.16 385.84,26.59 385.90,25.71 385.96,26.82 386.02,23.99 386.08,25.38 386.14,26.29 386.20,25.26 386.26,27.15 386.32,26.97 386.38,26.21 386.44,27.06 386.50,25.94 386.56,26.48 386.62,26.96 386.68,26.13 386.74,28.22 386.80,27.02 386.86,28.38 386.92,27.59 386.98,28.02 387.04,27.19 387.10,27.73 387.16,27.74 387.22,28.32 387.28,29.27 387.34,27.90 387.40,28.29 387.46,28.77 387.52,29.24 387.58,28.59 387.64,28.48 387.70,28.42 387.76,28.95 387.82,29.22 387.88,28.61 387.94,28.98 388.00,29.87 388.06,29.37 388.12,29.05 388.18,30.10 388.24,30.19 388.30,30.21 388.36,30.34 388.42,29.63 388.48,30.17 388.54,30.34 388.60,30.28 388.66,28.96 388.72,30.35 388.78,30.72 388.84,30.92 388.90,30.41 388.96,30.75 389.02,29.46 389.08,29.78 389.14,28.76 389.20,30.91 389.26,32.39 389.32,32.57 389.38,30.50 389.44,31.92 389.50,32.47 389.56,31.38 389.62,30.23 389.68,32.86 389.74,31.61 389.80,31.67 389.86,33.34 389.92,32.50 389.98,32.87 390.04,33.53 390.10,32.30 390.16,31.77 390.22,33.19 390.28,32.69 390.34,33.34 390.40,33.17 390.46,32.39 390.52,33.07 390.58,32.89 390.64,33.06 390.70,33.29 390.76,33.66 390.82,33.62 390.88,32.57 390.94,34.07 391.00,32.58 391.06,35.39 391.12,33.22 391.18,33.81 391.24,34.93 391.30,33.84 391.36,33.10 391.42,33.05 391.48,34.40 391.54,34.56 391.60,34.94 391.66,34.59 391.72,34.09 391.78,34.87 391.84,35.67 391.90,34.05 391.96,37.40 392.02,34.47 392.08,35.79 392.14,36.33 392.20,35.66 392.26,35.27 392.32,35.65 392.38,36.18 392.44,33.26 392.50,35.65 392.56,35.07 392.62,34.92 392.68,35.59 392.74,35.70 392.80,36.00 392.86,35.26 392.92,36.61 392.98,34.25 393.04,35.16 393.10,35.03 393.16,36.09 393.22,35.70 393.28,36.54 393.34,35.61 393.40,37.23 393.46,36.89 393.52,36.01 393.58,35.19 393.64,35.63 393.70,35.42 393.76,37.59 393.82,37.29 393.88,35.83 393.94,38.27 394.00,36.70 394.06,35.29 394.12,37.87 394.18,38.09 394.24,37.19 394.30,36.57 394.36,38.24 394.42,37.00 394.48,37.43 394.54,37.86 394.60,37.81 394.66,37.30 394.72,36.92 394.78,38.34 394.84,36.18 394.90,38.15 394.96,38.17 395.02,38.43 395.08,37.83 395.14,38.33 395.20,38.83 395.26,37.52 395.32,38.41 395.38,38.72 395.44,37.55 395.50,37.85 395.56,39.82 395.62,39.48 395.68,38.20 395.74,39.37 395.80,39.20 395.86,40.01 395.92,39.88 395.98,37.26 396.04,38.92 396.10,40.24 396.16,40.50 396.22,38.87 396.28,38.47 396.34,39.64 396.40,39.03 396.46,39.56 396.52,38.76 396.58,40.27 396.64,40.19 396.70,40.16 396.76,39.06 396.82,38.67 396.88,39.04 396.94,40.44 397.00,38.77 397.06,40.68 397.12,41.58 397.18,39.84 397.24,40.23 397.30,41.17 397.36,41.18 397.42,40.09 397.48,40.48 397.54,40.77 397.60,40.54 397.66,41.23 397.72,41.11 397.78,41.90 397.84,39.70 397.90,41.93 397.96,41.72 398.02,41.07 398.08,41.54 398.14,42.02 398.20,41.58 398.26,41.23 398.32,41.69 398.38,41.01 398.44,40.61 398.50,41.00 398.56,41.14 398.62,41.92 398.68,42.44 398.74,42.09 398.80,43.06 398.86,41.96 398.92,41.61 398.98,41.61 399.04,41.54 399.10,42.05 399.16,43.37 399.22,41.29 399.28,42.87 399.34,42.51 399.40,43.21 399.46,42.30 399.52,43.26 399.58,42.40 399.64,43.31 399.70,41.43 399.76,43.33 399.82,43.58 399.88,41.89 399.94,43.79 400.00,42.36 400.06,44.02 400.12,43.34 400.18,43.92 400.24,43.74 400.30,42.63 400.36,44.75 400.42,44.57 400.48,42.95 400.54,44.20 400.60,44.19 400.66,43.39 400.72,43.18 400.78,44.99 400.84,43.79 400.90,44.83 400.96,45.64 401.02,44.64 401.08,43.67 401.14,45.13 401.20,43.42 401.26,43.83 401.32,46.76 401.38,44.03 401.44,44.94 401.50,43.94 401.56,44.71 401.62,45.00 401.68,42.92 401.74,44.48 401.80,45.52 401.86,45.73 401.92,45.39 401.98,44.49 402.04,45.55 402.10,44.94 402.16,44.79 402.22,45.42 402.28,47.19 402.34,44.86 402.40,46.38 402.46,45.84 402.52,44.60 402.58,45.08 402.64,45.70 402.70,45.53 402.76,46.14 402.82,45.25 402.88,45.29 402.94,46.86 403.00,46.14 403.06,45.59 403.12,46.28 403.18,47.72 403.24,45.96 403.30,45.34 403.36,47.21 403.42,48.04 403.48,47.57 403.54,45.70 403.60,45.19 403.66,47.74 403.72,46.71 403.78,47.28 403.84,46.82 403.90,48.28 403.96,47.13 404.02,46.89 404.08,47.29 404.14,46.34 404.20,47.42 404.26,47.29 404.32,45.82 404.38,46.61 404.44,46.58 404.50,46.40 404.56,47.90 404.62,48.54 404.68,47.99 404.74,46.69 404.80,46.52 404.86,48.50 404.92,47.74 404.98,47.95 405.04,47.11 405.10,46.61 405.16,49.85 405.22,47.79 405.28,48.16 405.34,47.50 405.40,49.56 405.46,48.21 405.52,48.41 405.58,48.62 405.64,48.63 405.70,49.76 405.76,47.39 405.82,49.28 405.88,48.40 405.94,48.62 406.00,48.52 406.06,49.35 406.12,48.12 406.18,48.72 406.24,49.60 406.30,48.80 406.36,48.92 406.42,49.61 406.48,49.44 406.54,49.17 406.60,49.51 406.66,48.86 406.72,50.22 406.78,48.80 406.84,48.47 406.90,50.04 406.96,48.78 407.02,49.10 407.08,49.70 407.14,50.45 407.20,49.61 407.26,49.68 407.32,49.74 407.38,50.39 407.44,49.78 407.50,50.39 407.56,51.27 407.62,50.14 407.68,50.08 407.74,49.71 407.80,49.88 407.86,49.57 407.92,49.73 407.98,50.16 408.04,50.90 408.10,51.06 408.16,50.43 408.22,51.04 408.28,49.87 408.34,52.45 408.40,52.80 408.46,50.91 408.52,51.43 408.58,51.17 408.64,51.73 408.70,50.72 408.76,50.11 408.82,51.90 408.88,50.53 408.94,51.66 409.00,50.76 409.06,50.92 409.12,52.28 409.18,52.81 409.24,51.53 409.30,51.38 409.36,51.97 409.42,51.39 409.48,50.55 409.54,51.88 409.60,50.27 409.66,52.32 409.72,51.67 409.78,52.24 409.84,51.05 409.90,51.64 409.96,52.67 410.02,53.32 410.08,52.97 410.14,52.68 410.20,51.61 410.26,52.92 410.32,52.65 410.38,52.36 410.44,53.62 410.50,52.12 410.56,54.06 410.62,52.31 410.68,52.34 410.74,52.82 410.80,51.96 410.86,52.64 410.92,53.10 410.98,51.82 411.04,52.52 411.10,52.15 411.16,52.92 411.22,54.15 411.28,53.02 411.34,53.25 411.40,53.61 411.46,52.66 411.52,53.71 411.58,53.20 411.64,53.15 411.70,52.40 411.76,53.26 411.82,54.56 411.88,54.73 411.94,53.66 412.00,53.98 412.06,53.66 412.12,53.20 412.18,52.72 412.24,55.40 412.30,53.43 412.36,54.38 412.42,55.43 412.48,54.03 412.54,54.25 412.60,54.62 412.66,54.20 412.72,54.71 412.78,54.32 412.84,55.47 412.90,55.04 412.96,53.84 413.02,53.78 413.08,54.34 413.14,54.42 413.20,54.37 413.26,55.67 413.32,54.48 413.38,54.73 413.44,55.23 413.50,53.68 413.56,55.55 413.62,55.71 413.68,56.37 413.74,54.64 413.80,55.07 413.86,55.63 413.92,55.24 413.98,54.48 414.04,56.30 414.10,55.45 414.16,55.98 414.22,54.96 414.28,56.53 414.34,55.60 414.40,55.37 414.46,56.55 414.52,56.84 414.58,55.36 414.64,56.85 414.70,57.37 414.76,56.40 414.82,55.20 414.88,56.73 414.94,57.15 415.00,55.64 415.06,57.70 415.12,56.35 415.18,56.46 415.24,57.41 415.30,56.80 415.36,57.63 415.42,56.73 415.48,57.08 415.54,56.85 415.60,57.06 415.66,57.36 415.72,57.32 415.78,56.78 415.84,57.75 415.90,57.03 415.96,58.03 416.02,57.64 416.08,57.15 416.14,56.71 416.20,57.34 416.26,58.39 416.32,57.53 416.38,58.16 416.44,57.41 416.50,57.29 416.56,57.04 416.62,56.15 416.68,57.88 416.74,57.72 416.80,57.69 416.86,58.36 416.92,57.08 416.98,59.13 417.04,56.81 417.10,58.13 417.16,57.09 417.22,57.83 417.28,58.94 417.34,57.00 417.40,58.29 417.46,58.28 417.52,58.38 417.58,58.47 417.64,58.93 417.70,58.74 417.76,58.69 417.82,59.12 417.88,58.99 417.94,58.44 418.00,57.66 418.06,59.22 418.12,58.41 418.18,59.94 418.24,58.33 418.30,57.89 418.36,59.69 418.42,58.32 418.48,57.80 418.54,59.85 418.60,57.92 418.66,60.04 418.72,58.38 418.78,59.44 418.84,59.34 418.90,57.86 418.96,59.25 419.02,58.99 419.08,59.44 419.14,59.79 419.20,60.62 419.26,59.30 419.32,59.44 419.38,61.18 419.44,60.15 419.50,60.22 419.56,58.54 419.62,58.69 419.68,59.36 419.74,59.67 419.80,60.22 419.86,61.94 419.92,58.98 419.98,59.65 420.04,60.46 420.10,60.23 420.16,60.90 420.22,59.88 420.28,59.46 420.34,61.74 420.40,60.54 420.46,59.34 420.52,60.02 420.58,60.26 420.64,59.23 420.70,60.96 420.76,60.53 420.82,60.17 420.88,59.99 420.94,61.75 421.00,60.49 421.06,60.01 421.12,59.09 421.18,59.86 421.24,61.21 421.30,61.84 421.36,59.89 421.42,59.26 421.48,60.86 421.54,60.83 421.60,61.55 421.66,60.40 421.72,61.05 421.78,59.61 421.84,60.12 421.90,60.67 421.96,60.78 422.02,61.55 422.08,62.10 422.14,60.16 422.20,62.52 422.26,60.73 422.32,61.01 422.38,62.21 422.44,59.60 422.50,60.35 422.56,60.85 422.62,61.57 422.68,62.36 422.74,62.41 422.80,60.94 422.86,62.22 422.92,61.38 422.98,62.85 423.04,61.56 423.10,62.60 423.16,61.07 423.22,62.46 423.28,60.89 423.34,62.03 423.40,60.77 423.46,61.91 423.52,61.47 423.58,61.36 423.64,62.31 423.70,62.76 423.76,62.29 423.82,62.47 423.88,62.82 423.94,63.23 424.00,63.12 424.06,62.69 424.12,63.92 424.18,62.08 424.24,63.10 424.30,61.67 424.36,64.36 424.42,62.42 424.48,62.76 424.54,63.71 424.60,62.57 424.66,62.11 424.72,61.39 424.78,62.61 424.84,64.38 424.90,63.01 424.96,64.22 425.02,63.58 425.08,62.65 425.14,61.96 425.20,62.92 425.26,63.56 425.32,62.97 425.38,63.30 425.44,63.64 425.50,62.96 425.56,62.18 425.62,63.06 425.68,63.77 425.74,62.75 425.80,62.61 425.86,62.69 425.92,63.29 425.98,63.40 426.04,63.48 426.10,62.59 426.16,63.59 426.22,63.12 426.28,62.91 426.34,62.26 426.40,62.84 426.46,63.23 426.52,63.83 426.58,64.05 426.64,63.80 426.70,63.97 426.76,62.98 426.82,64.45 426.88,64.49 426.94,64.42 427.00,63.56 427.06,63.90 427.12,63.64 427.18,63.02 427.24,63.78 427.30,62.90 427.36,62.77 427.42,64.54 427.48,64.56 427.54,64.80 427.60,63.87 427.66,64.25 427.72,64.66 427.78,64.00 427.84,62.78 427.90,66.02 427.96,65.30 428.02,65.34 428.08,64.49 428.14,63.85 428.20,64.54 428.26,64.73 428.32,63.51 428.38,64.21 428.44,65.01 428.50,65.75 428.56,65.11 428.62,64.38 428.68,63.74 428.74,66.26 428.80,64.86 428.86,65.37 428.92,64.84 428.98,63.84 429.04,66.50 429.10,65.40 429.16,65.84 429.22,64.36 429.28,64.96 429.34,66.03 429.40,64.77 429.46,64.52 429.52,64.24 429.58,64.09 429.64,65.76 429.70,65.12 429.76,63.84 429.82,66.36 429.88,66.20 429.94,66.14 430.00,63.91 430.06,65.39 430.12,66.31 430.18,64.57 430.24,64.77 430.30,65.21 430.36,63.89 430.42,65.58 430.48,66.18 430.54,65.96 430.60,66.60 430.66,65.57 430.72,65.49 430.78,65.39 430.84,65.02 430.90,64.76 430.96,65.03 431.02,65.54 431.08,65.21 431.14,65.72 431.20,65.71 431.26,66.15 431.32,65.30 431.38,64.15 431.44,65.00 431.50,67.18 431.56,66.33 431.62,65.48 431.68,65.65 431.74,65.75 431.80,65.48 431.86,66.00 431.92,66.39 431.98,66.81 432.04,65.64 432.10,65.71 432.16,65.70 432.22,65.99 432.28,66.78 432.34,65.43 432.40,67.68 432.46,66.45 432.52,66.89 432.58,65.40 432.64,65.81 432.70,65.72 432.76,66.16 432.82,64.62 432.88,66.54 432.94,64.92 433.00,66.49 433.06,66.98 433.12,66.18 433.18,66.10 433.24,66.11 433.30,66.08 433.36,66.45 433.42,66.94 433.48,66.75 433.54,67.41 433.60,66.36 433.66,65.91 433.72,65.96 433.78,65.39 433.84,66.04 433.90,65.89 433.96,67.68 434.02,66.75 434.08,67.71 434.14,64.94 434.20,66.60 434.26,67.16 434.32,66.63 434.38,66.05 434.44,66.53 434.50,66.49 434.56,66.52 434.62,66.63 434.68,67.14 434.74,66.61 434.80,66.67 434.86,66.47 434.92,66.81 434.98,65.94 435.04,66.92 435.10,66.25 435.16,67.14 435.22,66.07 435.28,66.47 435.34,66.39 435.40,65.77 435.46,67.32 435.52,66.82 435.58,66.58 435.64,67.48" fill="none" stroke="#008000" stroke-width="0.55" stroke-linejoin="round"/>
<polyline points="369.70,61.82 369.76,62.09 369.82,63.10 369.88,64.30 369.94,62.19 370.00,63.56 370.06,62.27 370.12,61.40 370.18,62.56 370.24,63.22 370.30,62.29 370.36,62.53 370.42,61.14 370.48,60.07 370.54,62.32 370.60,60.81 370.66,62.01 370.72,61.47 370.78,62.18 370.84,62.81 370.90,60.52 370.96,61.88 371.02,61.87 371.08,63.21 371.14,62.06 371.20,61.26 371.26,61.48 371.32,63.61 371.38,61.20 371.44,62.04 371.50,62.23 371.56,60.97 371.62,61.26 371.68,60.22 371.74,61.18 371.80,62.58 371.86,62.19 371.92,60.30 371.98,63.28 372.04,60.81 372.10,61.14 372.16,63.43 372.22,62.41 372.28,61.93 372.34,63.34 372.40,61.93 372.46,62.31 372.52,61.49 372.58,61.89 372.64,61.94 372.70,62.99 372.76,61.44 372.82,61.82 372.88,60.05 372.94,60.46 373.00,62.62 373.06,61.65 373.12,61.68 373.18,62.54 373.24,61.69 373.30,62.08 373.36,61.74 373.42,60.18 373.48,62.53 373.54,63.31 373.60,63.04 373.66,62.04 373.72,62.21 373.78,62.32 373.84,63.32 373.90,63.04 373.96,61.66 374.02,61.85 374.08,61.79 374.14,61.45 374.20,61.41 374.26,61.84 374.32,59.80 374.38,62.28 374.44,61.53 374.50,60.85 374.56,61.77 374.62,61.26 374.68,63.01 374.74,60.94 374.80,61.99 374.86,62.23 374.92,61.18 374.98,60.83 375.04,62.26 375.10,61.57 375.16,61.09 375.22,60.64 375.28,62.47 375.34,63.27 375.40,61.46 375.46,62.40 375.52,62.90 375.58,62.82 375.64,61.42 375.70,62.41 375.76,62.55 375.82,64.20 375.88,62.15 375.94,62.89 376.00,62.69 376.06,62.55 376.12,61.10 376.18,62.24 376.24,63.31 376.30,61.67 376.36,62.21 376.42,61.31 376.48,62.24 376.54,62.31 376.60,62.62 376.66,61.66 376.72,61.64 376.78,61.51 376.84,62.25 376.90,62.17 376.96,63.98 377.02,61.46 377.08,62.61 377.14,61.53 377.20,61.60 377.26,62.95 377.32,62.38 377.38,62.48 377.44,59.87 377.50,61.85 377.56,59.94 377.62,56.05 377.68,54.04 377.74,53.13 377.80,52.51 377.86,50.03 377.92,49.63 377.98,47.35 378.04,48.88 378.10,44.81 378.16,43.84 378.22,45.22 378.28,42.99 378.34,41.93 378.40,41.12 378.46,40.88 378.52,39.24 378.58,38.94 378.64,37.59 378.70,36.12 378.76,36.24 378.82,36.20 378.88,37.57 378.94,36.51 379.00,36.15 379.06,36.69 379.12,37.23 379.18,34.88 379.24,36.61 379.30,35.22 379.36,35.71 379.42,36.72 379.48,37.38 379.54,37.67 379.60,37.87 379.66,39.04 379.72,38.42 379.78,38.49 379.84,38.01 379.90,40.11 379.96,39.68 380.02,38.18 380.08,38.31 380.14,39.63 380.20,39.95 380.26,38.94 380.32,40.33 380.38,38.45 380.44,39.48 380.50,40.65 380.56,39.40 380.62,40.17 380.68,40.18 380.74,40.10 380.80,38.84 380.86,40.33 380.92,40.91 380.98,41.07 381.04,41.70 381.10,42.00 381.16,41.02 381.22,41.28 381.28,43.08 381.34,42.53 381.40,41.92 381.46,41.85 381.52,43.11 381.58,43.26 381.64,42.39 381.70,43.01 381.76,42.78 381.82,42.86 381.88,44.66 381.94,42.06 382.00,43.98 382.06,42.54 382.12,42.99 382.18,44.48 382.24,42.73 382.30,43.19 382.36,43.16 382.42,43.76 382.48,44.65 382.54,45.51 382.60,44.01 382.66,45.48 382.72,43.72 382.78,46.75 382.84,44.58 382.90,44.64 382.96,45.40 383.02,45.34 383.08,45.21 383.14,43.97 383.20,46.29 383.26,46.27 383.32,45.39 383.38,44.81 383.44,46.17 383.50,47.02 383.56,44.61 383.62,45.25 383.68,46.41 383.74,45.72 383.80,46.23 383.86,46.54 383.92,47.42 383.98,47.52 384.04,47.80 384.10,47.83 384.16,46.58 384.22,45.13 384.28,47.61 384.34,47.83 384.40,47.93 384.46,47.05 384.52,49.42 384.58,46.37 384.64,48.65 384.70,48.59 384.76,48.95 384.82,49.47 384.88,48.78 384.94,48.74 385.00,48.30 385.06,49.32 385.12,49.09 385.18,49.55 385.24,47.95 385.30,47.71 385.36,49.21 385.42,49.72 385.48,48.01 385.54,48.54 385.60,49.18 385.66,49.81 385.72,49.89 385.78,50.54 385.84,49.59 385.90,50.17 385.96,50.98 386.02,49.68 386.08,51.97 386.14,49.72 386.20,50.21 386.26,48.50 386.32,50.15 386.38,49.81 386.44,49.78 386.50,50.66 386.56,49.50 386.62,50.72 386.68,48.83 386.74,50.21 386.80,51.89 386.86,50.88 386.92,51.35 386.98,50.09 387.04,49.80 387.10,52.22 387.16,51.96 387.22,51.88 387.28,51.18 387.34,52.27 387.40,50.93 387.46,51.97 387.52,52.00 387.58,50.70 387.64,52.79 387.70,51.72 387.76,52.38 387.82,50.41 387.88,50.74 387.94,51.47 388.00,52.35 388.06,52.98 388.12,52.35 388.18,51.98 388.24,52.65 388.30,52.01 388.36,52.41 388.42,52.68 388.48,51.78 388.54,52.80 388.60,51.23 388.66,51.85 388.72,53.21 388.78,52.12 388.84,53.17 388.90,53.00 388.96,52.69 389.02,54.25 389.08,53.40 389.14,52.53 389.20,52.65 389.26,53.27 389.32,51.92 389.38,54.29 389.44,53.28 389.50,51.90 389.56,52.59 389.62,54.76 389.68,53.78 389.74,55.54 389.80,53.72 389.86,54.17 389.92,55.53 389.98,55.75 390.04,53.12 390.10,54.77 390.16,53.13 390.22,53.71 390.28,52.64 390.34,54.75 390.40,53.40 390.46,53.67 390.52,56.10 390.58,55.25 390.64,54.39 390.70,53.02 390.76,54.90 390.82,52.63 390.88,53.87 390.94,55.28 391.00,55.43 391.06,54.88 391.12,55.49 391.18,54.96 391.24,54.14 391.30,54.87 391.36,56.39 391.42,54.86 391.48,55.19 391.54,55.43 391.60,53.76 391.66,54.10 391.72,53.65 391.78,55.37 391.84,54.76 391.90,54.01 391.96,54.01 392.02,55.79 392.08,55.91 392.14,55.56 392.20,55.25 392.26,55.69 392.32,55.29 392.38,55.61 392.44,54.96 392.50,54.45 392.56,54.71 392.62,55.62 392.68,56.90 392.74,54.69 392.80,54.49 392.86,56.13 392.92,56.16 392.98,54.90 393.04,55.04 393.10,55.05 393.16,55.89 393.22,58.33 393.28,55.01 393.34,55.94 393.40,55.26 393.46,55.85 393.52,56.11 393.58,56.02 393.64,54.91 393.70,54.94 393.76,56.66 393.82,56.10 393.88,56.06 393.94,56.42 394.00,55.27 394.06,57.02 394.12,55.26 394.18,55.06 394.24,55.15 394.30,55.93 394.36,58.39 394.42,56.13 394.48,56.37 394.54,57.49 394.60,55.84 394.66,54.94 394.72,55.65 394.78,55.89 394.84,54.80 394.90,56.03 394.96,56.38 395.02,58.12 395.08,57.04 395.14,56.48 395.20,55.94 395.26,55.77 395.32,54.84 395.38,56.33 395.44,54.49 395.50,56.37 395.56,57.98 395.62,56.21 395.68,56.95 395.74,55.83 395.80,54.97 395.86,56.88 395.92,56.45 395.98,57.10 396.04,56.82 396.10,57.26 396.16,56.32 396.22,57.23 396.28,57.66 396.34,56.32 396.40,56.51 396.46,57.75 396.52,57.27 396.58,56.66 396.64,55.52 396.70,56.64 396.76,58.22 396.82,56.53 396.88,56.78 396.94,56.16 397.00,56.88 397.06,56.98 397.12,57.25 397.18,56.44 397.24,56.05 397.30,58.89 397.36,57.20 397.42,56.32 397.48,56.94 397.54,57.53 397.60,58.08 397.66,57.41 397.72,56.87 397.78,57.62 397.84,55.97 397.90,56.38 397.96,58.31 398.02,57.42 398.08,57.20 398.14,56.72 398.20,56.27 398.26,57.53 398.32,57.36 398.38,58.86 398.44,56.61 398.50,57.38 398.56,57.07 398.62,56.61 398.68,59.01 398.74,58.63 398.80,57.57 398.86,56.23 398.92,57.75 398.98,57.92 399.04,56.97 399.10,56.11 399.16,59.11 399.22,56.34 399.28,58.51 399.34,56.98 399.40,57.24 399.46,58.49 399.52,56.61 399.58,57.34 399.64,57.60 399.70,58.70 399.76,58.56 399.82,57.82 399.88,56.62 399.94,58.78 400.00,57.38 400.06,58.01 400.12,56.15 400.18,57.64 400.24,58.26 400.30,57.51 400.36,58.38 400.42,59.00 400.48,59.27 400.54,57.40 400.60,56.56 400.66,55.75 400.72,57.65 400.78,56.51 400.84,58.37 400.90,56.12 400.96,58.94 401.02,58.05 401.08,56.60 401.14,58.27 401.20,58.54 401.26,58.54 401.32,58.04 401.38,58.61 401.44,58.54 401.50,57.78 401.56,58.17 401.62,56.95 401.68,58.79 401.74,56.98 401.80,57.98 401.86,57.11 401.92,58.99 401.98,58.32 402.04,57.26 402.10,58.42 402.16,58.01 402.22,58.79 402.28,58.25 402.34,58.18 402.40,58.03 402.46,56.79 402.52,58.68 402.58,58.93 402.64,57.42 402.70,58.74 402.76,59.34 402.82,59.13 402.88,59.48 402.94,59.16 403.00,58.02 403.06,60.33 403.12,58.49 403.18,57.94 403.24,59.77 403.30,57.88 403.36,59.27 403.42,57.83 403.48,59.58 403.54,59.71 403.60,58.19 403.66,59.11 403.72,59.25 403.78,58.56 403.84,59.10 403.90,58.57 403.96,58.10 404.02,57.82 404.08,58.96 404.14,59.20 404.20,59.47 404.26,59.18 404.32,59.38 404.38,58.48 404.44,60.34 404.50,58.10 404.56,59.52 404.62,58.72 404.68,58.63 404.74,60.70 404.80,59.38 404.86,57.93 404.92,59.28 404.98,58.57 405.04,60.62 405.10,58.28 405.16,59.06 405.22,58.56 405.28,58.51 405.34,59.67 405.40,60.04 405.46,60.16 405.52,58.97 405.58,58.58 405.64,59.58 405.70,58.77 405.76,60.50 405.82,57.92 405.88,59.54 405.94,58.08 406.00,58.30 406.06,57.78 406.12,58.04 406.18,59.64 406.24,58.57 406.30,58.26 406.36,58.14 406.42,58.40 406.48,58.83 406.54,59.99 406.60,59.25 406.66,59.20 406.72,59.15 406.78,59.89 406.84,58.46 406.90,59.56 406.96,58.32 407.02,58.38 407.08,59.87 407.14,59.38 407.20,59.17 407.26,58.50 407.32,59.76 407.38,61.28 407.44,59.89 407.50,59.91 407.56,59.34 407.62,60.48 407.68,59.11 407.74,62.05 407.80,59.71 407.86,59.55 407.92,60.59 407.98,58.56 408.04,58.94 408.10,58.92 408.16,59.37 408.22,61.12 408.28,58.77 408.34,61.77 408.40,60.47 408.46,61.01 408.52,59.84 408.58,58.33 408.64,58.62 408.70,60.84 408.76,59.42 408.82,60.03 408.88,59.99 408.94,61.05 409.00,60.90 409.06,60.07 409.12,59.88 409.18,60.68 409.24,58.88 409.30,59.23 409.36,58.70 409.42,59.05 409.48,58.54 409.54,60.64 409.60,59.67 409.66,61.48 409.72,59.64 409.78,60.18 409.84,59.53 409.90,60.61 409.96,60.50 410.02,59.69 410.08,60.28 410.14,59.34 410.20,59.53 410.26,59.14 410.32,60.80 410.38,59.22 410.44,59.09 410.50,60.90 410.56,59.97 410.62,58.87 410.68,59.09 410.74,59.55 410.80,59.10 410.86,60.00 410.92,59.04 410.98,59.04 411.04,60.78 411.10,61.58 411.16,61.30 411.22,59.79 411.28,60.63 411.34,60.00 411.40,61.76 411.46,60.46 411.52,60.64 411.58,61.89 411.64,61.34 411.70,60.37 411.76,59.39 411.82,59.96 411.88,59.07 411.94,61.78 412.00,60.17 412.06,60.94 412.12,60.52 412.18,59.71 412.24,60.62 412.30,60.71 412.36,60.35 412.42,60.38 412.48,60.71 412.54,59.60 412.60,60.34 412.66,60.05 412.72,59.79 412.78,60.59 412.84,58.57 412.90,59.29 412.96,60.32 413.02,61.86 413.08,61.02 413.14,59.88 413.20,61.81 413.26,60.68 413.32,59.98 413.38,60.46 413.44,61.90 413.50,61.30 413.56,59.99 413.62,59.69 413.68,61.15 413.74,59.63 413.80,60.23 413.86,61.27 413.92,59.76 413.98,59.99 414.04,60.89 414.10,60.46 414.16,61.86 414.22,60.73 414.28,61.27 414.34,61.33 414.40,60.26 414.46,61.50 414.52,61.93 414.58,60.64 414.64,60.31 414.70,60.59 414.76,62.06 414.82,60.82 414.88,60.42 414.94,59.77 415.00,60.84 415.06,59.71 415.12,61.69 415.18,60.21 415.24,59.80 415.30,61.77 415.36,61.23 415.42,61.35 415.48,60.15 415.54,61.64 415.60,61.25 415.66,61.13 415.72,61.78 415.78,61.94 415.84,60.97 415.90,62.40 415.96,61.52 416.02,61.00 416.08,61.63 416.14,61.31 416.20,62.44 416.26,61.34 416.32,61.01 416.38,61.14 416.44,61.86 416.50,59.80 416.56,60.04 416.62,60.96 416.68,61.59 416.74,61.75 416.80,60.94 416.86,59.86 416.92,59.38 416.98,61.06 417.04,60.85 417.10,61.49 417.16,62.10 417.22,60.50 417.28,62.47 417.34,60.92 417.40,61.14 417.46,61.45 417.52,59.67 417.58,63.39 417.64,61.08 417.70,62.33 417.76,60.79 417.82,59.99 417.88,60.47 417.94,60.42 418.00,59.75 418.06,59.20 418.12,62.06 418.18,60.82 418.24,61.55 418.30,62.53 418.36,61.01 418.42,61.50 418.48,62.38 418.54,61.84 418.60,61.70 418.66,60.70 418.72,60.72 418.78,62.18 418.84,61.35 418.90,62.36 418.96,62.22 419.02,61.97 419.08,62.22 419.14,61.83 419.20,62.69 419.26,59.83 419.32,61.04 419.38,61.97 419.44,63.15 419.50,60.26 419.56,61.26 419.62,62.12 419.68,62.88 419.74,61.37 419.80,60.00 419.86,62.09 419.92,62.49 419.98,62.22 420.04,62.21 420.10,62.37 420.16,61.20 420.22,62.37 420.28,62.61 420.34,61.89 420.40,61.16 420.46,61.38 420.52,62.53 420.58,61.37 420.64,63.05 420.70,62.15 420.76,61.75 420.82,62.71 420.88,61.97 420.94,63.87 421.00,63.26 421.06,61.39 421.12,61.73 421.18,60.30 421.24,62.75 421.30,62.45 421.36,62.25 421.42,60.85 421.48,63.45 421.54,63.20 421.60,61.73 421.66,61.59 421.72,61.71 421.78,62.84 421.84,62.46 421.90,62.09 421.96,61.97 422.02,61.02 422.08,61.69 422.14,60.73 422.20,63.12 422.26,62.21 422.32,62.27 422.38,61.91 422.44,61.44 422.50,60.52 422.56,61.58 422.62,61.89 422.68,61.98 422.74,63.13 422.80,63.18 422.86,61.53 422.92,61.65 422.98,63.31 423.04,60.53 423.10,62.24 423.16,63.18 423.22,62.64 423.28,62.15 423.34,63.14 423.40,62.06 423.46,61.88 423.52,62.83 423.58,62.54 423.64,63.16 423.70,63.71 423.76,63.89 423.82,60.61 423.88,63.03 423.94,63.25 424.00,63.52 424.06,62.51 424.12,62.54 424.18,63.16 424.24,62.16 424.30,61.41 424.36,63.51 424.42,63.51 424.48,61.88 424.54,63.89 424.60,62.18 424.66,63.31 424.72,61.86 424.78,63.01 424.84,62.38 424.90,62.58 424.96,63.34 425.02,63.61 425.08,62.24 425.14,64.43 425.20,62.36 425.26,61.73 425.32,62.88 425.38,64.83 425.44,62.75 425.50,62.00 425.56,62.61 425.62,63.52 425.68,63.74 425.74,63.67 425.80,64.22 425.86,65.10 425.92,63.45 425.98,63.75 426.04,63.42 426.10,63.75 426.16,64.51 426.22,63.78 426.28,62.60 426.34,64.29 426.40,64.85 426.46,63.73 426.52,65.23 426.58,64.49 426.64,62.29 426.70,63.20 426.76,62.62 426.82,63.17 426.88,62.88 426.94,63.83 427.00,64.23 427.06,61.95 427.12,64.39 427.18,63.61 427.24,64.61 427.30,63.51 427.36,61.77 427.42,63.69 427.48,64.14 427.54,64.18 427.60,63.78 427.66,62.93 427.72,63.07 427.78,63.18 427.84,63.01 427.90,63.97 427.96,64.28 428.02,64.69 428.08,64.32 428.14,63.90 428.20,64.57 428.26,64.04 428.32,63.18 428.38,64.88 428.44,64.06 428.50,64.06 428.56,65.22 428.62,64.64 428.68,64.78 428.74,65.94 428.80,65.26 428.86,65.01 428.92,64.37 428.98,62.52 429.04,62.13 429.10,63.47 429.16,66.37 429.22,64.19 429.28,63.95 429.34,64.86 429.40,65.40 429.46,64.75 429.52,64.93 429.58,64.76 429.64,64.13 429.70,63.99 429.76,62.50 429.82,64.45 429.88,64.48 429.94,64.78 430.00,65.40 430.06,63.36 430.12,63.52 430.18,65.20 430.24,63.17 430.30,64.77 430.36,64.64 430.42,65.07 430.48,63.90 430.54,65.17 430.60,63.61 430.66,65.38 430.72,64.69 430.78,64.34 430.84,64.88 430.90,65.86 430.96,63.83 431.02,64.61 431.08,63.69 431.14,65.64 431.20,65.45 431.26,64.04 431.32,64.63 431.38,63.89 431.44,64.91 431.50,65.80 431.56,64.42 431.62,64.95 431.68,63.50 431.74,66.46 431.80,63.95 431.86,65.11 431.92,64.70 431.98,65.98 432.04,64.86 432.10,64.72 432.16,63.91 432.22,66.16 432.28,63.59 432.34,66.51 432.40,66.30 432.46,66.80 432.52,64.39 432.58,64.59 432.64,65.41 432.70,66.25 432.76,64.37 432.82,66.39 432.88,64.33 432.94,65.97 433.00,65.41 433.06,65.57 433.12,65.35 433.18,66.03 433.24,63.90 433.30,66.36 433.36,64.98 433.42,65.30 433.48,64.81 433.54,66.10 433.60,65.89 433.66,65.22 433.72,64.75 433.78,67.20 433.84,65.40 433.90,66.12 433.96,65.38 434.02,66.60 434.08,66.88 434.14,66.63 434.20,67.17 434.26,67.24 434.32,63.91 434.38,65.22 434.44,64.74 434.50,66.40 434.56,66.10 434.62,64.81 434.68,67.30 434.74,66.04 434.80,67.34 434.86,65.38 434.92,66.70 434.98,67.08 435.04,65.68 435.10,66.30 435.16,66.01 435.22,65.70 435.28,66.34 435.34,64.36 435.40,66.70 435.46,66.18 435.52,65.01 435.58,66.73 435.64,64.40" fill="none" stroke="#ff0000" stroke-width="0.55" stroke-linejoin="round"/>
<polyline points="369.70,63.54 369.76,67.17 369.82,66.17 369.88,64.30 369.94,67.56 370.00,64.83 370.06,65.04 370.12,65.38 370.18,66.37 370.24,66.14 370.30,63.84 370.36,64.68 370.42,66.25 370.48,67.09 370.54,65.75 370.60,66.73 370.66,66.68 370.72,63.76 370.78,65.02 370.84,68.67 370.90,64.94 370.96,66.51 371.02,63.33 371.08,70.12 371.14,64.17 371.20,66.41 371.26,66.17 371.32,62.94 371.38,65.07 371.44,67.10 371.50,64.36 371.56,66.84 371.62,64.89 371.68,67.28 371.74,68.90 371.80,63.69 371.86,65.89 371.92,64.27 371.98,63.86 372.04,65.38 372.10,65.68 372.16,66.05 372.22,66.01 372.28,61.89 372.34,64.56 372.40,62.02 372.46,65.81 372.52,66.64 372.58,65.77 372.64,64.51 372.70,65.90 372.76,66.57 372.82,66.17 372.88,64.45 372.94,64.75 373.00,67.30 373.06,65.30 373.12,65.58 373.18,65.38 373.24,66.24 373.30,66.17 373.36,64.83 373.42,64.77 373.48,64.85 373.54,65.53 373.60,66.21 373.66,63.10 373.72,67.70 373.78,63.64 373.84,65.45 373.90,63.59 373.96,64.48 374.02,65.15 374.08,66.12 374.14,65.66 374.20,66.58 374.26,64.79 374.32,67.75 374.38,62.80 374.44,65.66 374.50,65.77 374.56,64.58 374.62,65.22 374.68,63.94 374.74,65.89 374.80,64.64 374.86,66.44 374.92,65.85 374.98,65.91 375.04,65.45 375.10,63.94 375.16,66.38 375.22,66.56 375.28,64.76 375.34,63.61 375.40,64.28 375.46,66.93 375.52,62.74 375.58,65.84 375.64,64.76 375.70,66.46 375.76,63.04 375.82,66.00 375.88,63.69 375.94,66.11 376.00,67.92 376.06,64.95 376.12,68.22 376.18,65.38 376.24,66.42 376.30,68.88 376.36,66.86 376.42,66.10 376.48,61.70 376.54,64.06 376.60,65.90 376.66,64.13 376.72,63.79 376.78,66.05 376.84,63.10 376.90,63.53 376.96,66.36 377.02,68.41 377.08,64.12 377.14,65.46 377.20,66.13 377.26,62.24 377.32,59.90 377.38,59.83 377.44,55.48 377.50,53.95 377.56,55.99 377.62,48.09 377.68,52.06 377.74,49.23 377.80,44.05 377.86,45.45 377.92,42.64 377.98,39.54 378.04,38.78 378.10,37.18 378.16,39.42 378.22,33.79 378.28,32.32 378.34,33.57 378.40,33.64 378.46,38.50 378.52,34.84 378.58,34.97 378.64,35.37 378.70,35.81 378.76,34.38 378.82,38.09 378.88,37.32 378.94,38.48 379.00,41.32 379.06,41.52 379.12,41.65 379.18,39.44 379.24,41.23 379.30,41.05 379.36,41.76 379.42,42.43 379.48,42.20 379.54,45.10 379.60,42.73 379.66,46.43 379.72,45.36 379.78,44.91 379.84,46.24 379.90,45.38 379.96,45.81 380.02,48.30 380.08,46.70 380.14,54.20 380.20,46.07 380.26,46.25 380.32,50.77 380.38,48.36 380.44,48.43 380.50,47.97 380.56,49.47 380.62,48.82 380.68,51.42 380.74,49.47 380.80,50.65 380.86,51.89 380.92,51.46 380.98,50.54 381.04,49.90 381.10,49.41 381.16,49.53 381.22,53.32 381.28,51.49 381.34,51.94 381.40,53.11 381.46,53.56 381.52,54.89 381.58,54.21 381.64,53.33 381.70,52.10 381.76,54.85 381.82,54.21 381.88,54.54 381.94,53.46 382.00,55.51 382.06,56.59 382.12,55.25 382.18,56.78 382.24,56.02 382.30,55.67 382.36,58.32 382.42,56.16 382.48,57.10 382.54,54.39 382.60,58.19 382.66,56.28 382.72,56.81 382.78,56.48 382.84,57.62 382.90,56.32 382.96,55.67 383.02,57.65 383.08,57.92 383.14,56.80 383.20,58.73 383.26,59.43 383.32,56.67 383.38,58.61 383.44,58.71 383.50,55.65 383.56,56.21 383.62,54.73 383.68,60.47 383.74,57.68 383.80,57.87 383.86,59.55 383.92,61.14 383.98,59.46 384.04,61.35 384.10,60.94 384.16,64.89 384.22,57.59 384.28,58.46 384.34,58.04 384.40,60.31 384.46,58.07 384.52,60.69 384.58,56.55 384.64,61.19 384.70,60.50 384.76,62.15 384.82,60.91 384.88,60.16 384.94,60.58 385.00,56.88 385.06,59.74 385.12,60.47 385.18,63.12 385.24,60.54 385.30,57.95 385.36,64.03 385.42,59.08 385.48,60.77 385.54,59.12 385.60,55.17 385.66,62.03 385.72,60.00 385.78,62.03 385.84,59.82 385.90,61.84 385.96,63.42 386.02,61.90 386.08,60.71 386.14,60.13 386.20,60.98 386.26,58.88 386.32,61.19 386.38,62.10 386.44,58.72 386.50,59.09 386.56,64.04 386.62,61.13 386.68,64.08 386.74,62.10 386.80,62.36 386.86,61.54 386.92,63.99 386.98,63.46 387.04,61.24 387.10,58.32 387.16,59.34 387.22,61.22 387.28,59.83 387.34,62.35 387.40,62.12 387.46,62.24 387.52,62.42 387.58,61.80 387.64,62.18 387.70,61.88 387.76,59.85 387.82,61.55 387.88,61.58 387.94,63.11 388.00,61.03 388.06,60.26 388.12,64.74 388.18,62.98 388.24,63.55 388.30,64.41 388.36,61.36 388.42,63.55 388.48,62.21 388.54,60.11 388.60,62.33 388.66,62.30 388.72,62.87 388.78,61.58 388.84,61.61 388.90,60.26 388.96,63.37 389.02,58.91 389.08,62.12 389.14,61.33 389.20,61.40 389.26,62.55 389.32,61.59 389.38,59.39 389.44,58.93 389.50,59.28 389.56,60.96 389.62,61.75 389.68,61.74 389.74,62.36 389.80,62.66 389.86,61.69 389.92,60.14 389.98,61.70 390.04,61.44 390.10,65.19 390.16,64.08 390.22,61.18 390.28,62.38 390.34,64.65 390.40,62.99 390.46,64.35 390.52,63.11 390.58,63.19 390.64,63.80 390.70,61.85 390.76,61.68 390.82,62.29 390.88,64.57 390.94,63.37 391.00,60.85 391.06,64.53 391.12,63.68 391.18,64.40 391.24,63.38 391.30,62.99 391.36,59.77 391.42,63.38 391.48,60.07 391.54,62.60 391.60,65.82 391.66,63.29 391.72,63.53 391.78,62.14 391.84,63.43 391.90,60.92 391.96,62.58 392.02,63.42 392.08,62.59 392.14,61.20 392.20,59.23 392.26,62.03 392.32,61.68 392.38,62.07 392.44,63.78 392.50,60.14 392.56,64.23 392.62,60.80 392.68,66.98 392.74,65.06 392.80,64.05 392.86,61.72 392.92,63.34 392.98,63.35 393.04,62.11 393.10,62.22 393.16,64.84 393.22,63.36 393.28,66.19 393.34,65.07 393.40,63.09 393.46,64.18 393.52,63.45 393.58,61.25 393.64,64.10 393.70,61.94 393.76,65.49 393.82,64.90 393.88,59.42 393.94,63.45 394.00,61.60 394.06,65.94 394.12,63.11 394.18,63.79 394.24,64.29 394.30,61.76 394.36,63.57 394.42,65.41 394.48,62.38 394.54,64.29 394.60,62.99 394.66,66.95 394.72,66.56 394.78,63.39 394.84,63.08 394.90,64.24 394.96,63.27 395.02,63.22 395.08,62.53 395.14,66.20 395.20,67.05 395.26,64.33 395.32,60.91 395.38,61.26 395.44,64.31 395.50,61.97 395.56,62.59 395.62,63.68 395.68,62.81 395.74,65.47 395.80,61.40 395.86,63.71 395.92,61.65 395.98,63.82 396.04,60.58 396.10,62.77 396.16,65.31 396.22,62.42 396.28,64.00 396.34,62.72 396.40,63.85 396.46,63.04 396.52,64.48 396.58,61.90 396.64,63.29 396.70,64.80 396.76,62.49 396.82,64.86 396.88,65.10 396.94,64.08 397.00,60.40 397.06,66.46 397.12,61.76 397.18,63.75 397.24,64.45 397.30,66.41 397.36,63.90 397.42,62.40 397.48,64.85 397.54,66.45 397.60,62.27 397.66,64.85 397.72,63.83 397.78,64.16 397.84,63.46 397.90,64.48 397.96,64.86 398.02,67.81 398.08,60.93 398.14,66.61 398.20,64.14 398.26,62.34 398.32,61.62 398.38,66.21 398.44,61.31 398.50,67.01 398.56,61.77 398.62,64.68 398.68,62.50 398.74,61.79 398.80,63.04 398.86,67.19 398.92,64.36 398.98,64.53 399.04,65.65 399.10,66.04 399.16,62.64 399.22,64.87 399.28,64.26 399.34,63.54 399.40,60.70 399.46,65.73 399.52,65.43 399.58,63.37 399.64,70.07 399.70,62.24 399.76,63.80 399.82,64.66 399.88,62.97 399.94,64.17 400.00,66.68 400.06,62.52 400.12,60.95 400.18,63.21 400.24,62.66 400.30,63.38 400.36,63.05 400.42,64.08 400.48,67.91 400.54,64.22 400.60,67.63 400.66,64.00 400.72,63.23 400.78,60.90 400.84,64.44 400.90,64.96 400.96,68.40 401.02,61.27 401.08,62.97 401.14,63.50 401.20,63.74 401.26,63.99 401.32,62.74 401.38,63.94 401.44,62.49 401.50,62.47 401.56,64.50 401.62,66.05 401.68,63.02 401.74,61.13 401.80,63.25 401.86,64.12 401.92,64.01 401.98,66.10 402.04,62.43 402.10,63.68 402.16,63.08 402.22,66.89 402.28,64.68 402.34,63.68 402.40,62.81 402.46,65.59 402.52,61.96 402.58,66.02 402.64,65.86 402.70,65.19 402.76,64.48 402.82,64.27 402.88,65.53 402.94,63.88 403.00,65.82 403.06,61.88 403.12,66.40 403.18,64.07 403.24,66.23 403.30,64.86 403.36,63.42 403.42,64.07 403.48,63.25 403.54,65.60 403.60,62.00 403.66,61.97 403.72,65.80 403.78,64.90 403.84,62.73 403.90,65.26 403.96,62.21 404.02,64.44 404.08,62.14 404.14,65.48 404.20,64.23 404.26,64.73 404.32,60.93 404.38,62.49 404.44,61.86 404.50,63.53 404.56,64.27 404.62,61.51 404.68,63.46 404.74,64.06 404.80,64.93 404.86,64.06 404.92,64.64 404.98,66.33 405.04,61.67 405.10,66.20 405.16,62.08 405.22,64.25 405.28,63.07 405.34,64.75 405.40,63.96 405.46,66.32 405.52,61.80 405.58,66.01 405.64,65.18 405.70,66.32 405.76,63.46 405.82,66.69 405.88,64.84 405.94,65.52 406.00,64.60 406.06,65.48 406.12,66.68 406.18,64.03 406.24,61.39 406.30,64.66 406.36,65.59 406.42,63.32 406.48,63.72 406.54,61.92 406.60,65.17 406.66,62.71 406.72,65.89 406.78,66.17 406.84,67.52 406.90,66.48 406.96,66.28 407.02,64.60 407.08,67.70 407.14,61.27 407.20,62.59 407.26,67.33 407.32,63.32 407.38,62.67 407.44,63.39 407.50,65.84 407.56,66.25 407.62,65.61 407.68,63.73 407.74,64.18 407.80,65.52 407.86,64.06 407.92,65.46 407.98,62.45 408.04,66.40 408.10,64.80 408.16,64.49 408.22,63.70 408.28,60.91 408.34,66.69 408.40,63.69 408.46,64.55 408.52,64.50 408.58,66.08 408.64,64.35 408.70,67.64 408.76,65.74 408.82,63.96 408.88,63.75 408.94,68.73 409.00,63.20 409.06,63.85 409.12,62.84 409.18,64.93 409.24,64.48 409.30,66.68 409.36,63.08 409.42,62.37 409.48,67.48 409.54,60.31 409.60,64.64 409.66,61.77 409.72,65.56 409.78,63.34 409.84,65.76 409.90,63.93 409.96,65.09 410.02,62.67 410.08,64.58 410.14,65.04 410.20,64.97 410.26,66.38 410.32,66.18 410.38,69.11 410.44,62.58 410.50,65.39 410.56,64.67 410.62,65.62 410.68,67.00 410.74,68.04 410.80,67.27 410.86,63.23 410.92,63.30 410.98,63.12 411.04,64.66 411.10,62.26 411.16,64.39 411.22,62.11 411.28,64.26 411.34,64.68 411.40,66.67 411.46,64.65 411.52,64.24 411.58,65.77 411.64,63.40 411.70,66.82 411.76,64.72 411.82,65.60 411.88,64.35 411.94,64.85 412.00,64.20 412.06,63.79 412.12,64.92 412.18,66.06 412.24,62.50 412.30,64.87 412.36,66.55 412.42,64.34 412.48,66.69 412.54,66.06 412.60,63.14 412.66,63.86 412.72,67.09 412.78,66.75 412.84,65.62 412.90,65.12 412.96,61.08 413.02,64.79 413.08,62.08 413.14,64.63 413.20,64.80 413.26,64.69 413.32,65.75 413.38,65.12 413.44,62.96 413.50,64.21 413.56,66.48 413.62,68.31 413.68,63.17 413.74,65.72 413.80,66.81 413.86,65.83 413.92,64.73 413.98,67.02 414.04,68.01 414.10,65.35 414.16,63.69 414.22,62.76 414.28,66.27 414.34,67.27 414.40,64.70 414.46,65.14 414.52,64.72 414.58,68.47 414.64,63.58 414.70,66.34 414.76,64.12 414.82,66.31 414.88,65.97 414.94,67.14 415.00,64.85 415.06,64.02 415.12,64.30 415.18,63.55 415.24,66.70 415.30,65.10 415.36,62.41 415.42,65.56 415.48,64.36 415.54,62.30 415.60,64.61 415.66,65.01 415.72,64.07 415.78,64.18 415.84,63.18 415.90,63.11 415.96,68.22 416.02,62.94 416.08,66.05 416.14,65.90 416.20,65.15 416.26,61.77 416.32,66.91 416.38,63.94 416.44,68.66 416.50,64.42 416.56,63.29 416.62,67.08 416.68,64.55 416.74,65.56 416.80,66.70 416.86,63.64 416.92,63.04 416.98,65.17 417.04,66.84 417.10,64.97 417.16,64.59 417.22,67.48 417.28,66.94 417.34,65.24 417.40,68.69 417.46,64.52 417.52,65.72 417.58,63.82 417.64,66.26 417.70,67.05 417.76,65.05 417.82,62.96 417.88,65.77 417.94,65.04 418.00,65.92 418.06,63.29 418.12,65.82 418.18,64.12 418.24,66.71 418.30,65.45 418.36,64.99 418.42,65.55 418.48,66.42 418.54,67.94 418.60,65.03 418.66,65.69 418.72,64.15 418.78,65.41 418.84,63.09 418.90,64.88 418.96,67.79 419.02,65.39 419.08,64.77 419.14,64.63 419.20,63.91 419.26,66.46 419.32,64.68 419.38,64.17 419.44,68.21 419.50,67.10 419.56,65.83 419.62,64.30 419.68,67.59 419.74,68.56 419.80,65.38 419.86,66.04 419.92,66.30 419.98,67.82 420.04,66.40 420.10,66.01 420.16,65.03 420.22,64.57 420.28,66.06 420.34,65.84 420.40,65.01 420.46,63.89 420.52,65.23 420.58,64.70 420.64,65.73 420.70,67.16 420.76,66.89 420.82,67.74 420.88,62.53 420.94,67.78 421.00,63.47 421.06,66.17 421.12,65.35 421.18,66.47 421.24,63.93 421.30,66.51 421.36,62.62 421.42,67.42 421.48,63.75 421.54,69.10 421.60,64.58 421.66,65.19 421.72,65.11 421.78,66.29 421.84,65.17 421.90,64.99 421.96,64.47 422.02,65.29 422.08,67.23 422.14,64.61 422.20,65.67 422.26,64.70 422.32,64.98 422.38,66.05 422.44,65.94 422.50,63.60 422.56,66.19 422.62,65.37 422.68,65.88 422.74,69.26 422.80,65.59 422.86,62.81 422.92,67.52 422.98,64.02 423.04,64.43 423.10,64.53 423.16,66.53 423.22,62.82 423.28,64.50 423.34,64.05 423.40,66.51 423.46,65.86 423.52,65.32 423.58,65.38 423.64,63.93 423.70,63.56 423.76,66.88 423.82,64.56 423.88,65.45 423.94,64.47 424.00,63.36 424.06,63.32 424.12,66.13 424.18,68.71 424.24,65.36 424.30,68.01 424.36,65.21 424.42,65.38 424.48,66.34 424.54,63.86 424.60,65.42 424.66,64.81 424.72,66.31 424.78,62.18 424.84,67.23 424.90,67.08 424.96,66.03 425.02,66.08 425.08,65.26 425.14,65.14 425.20,66.00 425.26,63.42 425.32,64.21 425.38,64.78 425.44,69.12 425.50,64.97 425.56,68.78 425.62,64.50 425.68,60.19 425.74,65.33 425.80,65.76 425.86,68.64 425.92,64.26 425.98,66.34 426.04,64.25 426.10,66.24 426.16,66.56 426.22,64.17 426.28,67.21 426.34,66.48 426.40,64.34 426.46,67.34 426.52,64.55 426.58,66.65 426.64,64.95 426.70,64.45 426.76,67.72 426.82,68.72 426.88,67.38 426.94,66.85 427.00,65.24 427.06,69.32 427.12,66.08 427.18,66.62 427.24,64.77 427.30,63.92 427.36,66.57 427.42,66.95 427.48,64.25 427.54,65.05 427.60,65.83 427.66,65.99 427.72,63.94 427.78,63.31 427.84,64.86 427.90,66.26 427.96,66.89 428.02,65.15 428.08,68.64 428.14,63.76 428.20,65.04 428.26,65.85 428.32,66.06 428.38,66.28 428.44,64.57 428.50,64.51 428.56,63.35 428.62,67.03 428.68,64.63 428.74,65.89 428.80,67.43 428.86,65.98 428.92,63.58 428.98,65.54 429.04,66.28 429.10,68.64 429.16,66.50 429.22,64.68 429.28,71.24 429.34,67.60 429.40,66.57 429.46,64.44 429.52,63.82 429.58,65.78 429.64,66.28 429.70,65.04 429.76,66.68 429.82,65.66 429.88,63.31 429.94,68.71 430.00,62.97 430.06,67.66 430.12,65.07 430.18,62.33 430.24,64.44 430.30,67.84 430.36,63.51 430.42,65.05 430.48,68.14 430.54,64.22 430.60,67.00 430.66,63.55 430.72,65.81 430.78,65.47 430.84,65.86 430.90,64.72 430.96,67.99 431.02,63.25 431.08,68.03 431.14,65.83 431.20,64.60 431.26,66.77 431.32,67.04 431.38,66.00 431.44,65.36 431.50,69.12 431.56,66.32 431.62,64.41 431.68,69.09 431.74,67.42 431.80,66.18 431.86,64.37 431.92,67.67 431.98,65.36 432.04,65.55 432.10,65.42 432.16,63.88 432.22,69.51 432.28,66.74 432.34,67.69 432.40,65.14 432.46,68.40 432.52,61.38 432.58,65.25 432.64,61.69 432.70,66.56 432.76,67.24 432.82,66.95 432.88,63.89 432.94,66.08 433.00,65.77 433.06,66.60 433.12,68.05 433.18,65.16 433.24,67.47 433.30,67.34 433.36,67.58 433.42,64.92 433.48,65.06 433.54,65.51 433.60,64.44 433.66,64.96 433.72,64.84 433.78,66.75 433.84,65.26 433.90,67.36 433.96,65.44 434.02,69.15 434.08,66.30 434.14,66.19 434.20,64.27 434.26,67.67 434.32,68.17 434.38,65.85 434.44,67.50 434.50,69.07 434.56,64.97 434.62,67.62 434.68,66.01 434.74,66.18 434.80,64.60 434.86,66.21 434.92,66.30 434.98,67.60 435.04,65.50 435.10,65.78 435.16,69.81 435.22,66.66 435.28,67.38 435.34,66.97 435.40,64.55 435.46,66.52 435.52,66.66 435.58,63.92 435.64,69.65" fill="none" stroke="#0000ff" stroke-width="0.55" stroke-linejoin="round"/>
<text x="447.60" y="13.50" font-family="'Liberation Sans', sans-serif" font-size="16.9" text-anchor="start" fill="#000" stroke="#000" stroke-width="0.25">C</text>
<text x="522.60" y="6.30" font-family="'DejaVu Sans', sans-serif" font-size="6.6" text-anchor="middle" fill="#000">10 Action potentials</text>
<line x1="485.70" y1="9.00" x2="485.70" y2="76.40" stroke="#222" stroke-width="0.6"/>
<line x1="485.70" y1="83.60" x2="558.60" y2="83.60" stroke="#222" stroke-width="0.6"/>
<line x1="483.70" y1="26.00" x2="485.70" y2="26.00" stroke="#222" stroke-width="0.5"/>
<text x="482.10" y="28.70" font-family="'DejaVu Sans', sans-serif" font-size="6.0" text-anchor="end" fill="#000">0.4</text>
<line x1="483.70" y1="48.50" x2="485.70" y2="48.50" stroke="#222" stroke-width="0.5"/>
<text x="482.10" y="51.20" font-family="'DejaVu Sans', sans-serif" font-size="6.0" text-anchor="end" fill="#000">0.2</text>
<line x1="483.70" y1="70.90" x2="485.70" y2="70.90" stroke="#222" stroke-width="0.5"/>
<text x="482.10" y="73.60" font-family="'DejaVu Sans', sans-serif" font-size="6.0" text-anchor="end" fill="#000">0.0</text>
<line x1="488.80" y1="83.60" x2="488.80" y2="85.60" stroke="#222" stroke-width="0.5"/>
<text x="488.80" y="91.90" font-family="'DejaVu Sans', sans-serif" font-size="6.0" text-anchor="middle" fill="#000">0.0</text>
<line x1="514.05" y1="83.60" x2="514.05" y2="85.60" stroke="#222" stroke-width="0.5"/>
<text x="514.05" y="91.90" font-family="'DejaVu Sans', sans-serif" font-size="6.0" text-anchor="middle" fill="#000">2.5</text>
<line x1="539.30" y1="83.60" x2="539.30" y2="85.60" stroke="#222" stroke-width="0.5"/>
<text x="539.30" y="91.90" font-family="'DejaVu Sans', sans-serif" font-size="6.0" text-anchor="middle" fill="#000">5.0</text>
<text x="522.35" y="99.10" font-family="'DejaVu Sans', sans-serif" font-size="6.3" text-anchor="middle" fill="#000">Time (s)</text>
<text x="470.50" y="43.20" font-family="'DejaVu Sans', sans-serif" font-size="6.3" text-anchor="middle" fill="#000" transform="rotate(-90 470.50 43.20)" font-style="italic">ΔF/F0</text>
<line x1="496.50" y1="77.30" x2="496.50" y2="83.60" stroke="#000" stroke-width="1.5"/>
<polyline points="488.80,68.83 488.86,68.79 488.92,69.06 488.98,69.20 489.04,69.22 489.10,69.03 489.16,69.44 489.22,69.17 489.28,69.02 489.34,69.17 489.40,68.88 489.46,68.92 489.52,69.12 489.58,68.80 489.64,68.78 489.70,69.02 489.76,68.95 489.82,68.95 489.88,68.78 489.94,69.45 490.00,68.93 490.06,69.23 490.12,69.16 490.18,68.69 490.24,69.03 490.30,69.11 490.36,69.31 490.42,68.51 490.48,68.62 490.54,69.28 490.60,68.69 490.66,68.68 490.72,69.18 490.78,68.93 490.84,69.31 490.90,68.36 490.96,69.26 491.02,69.24 491.08,68.85 491.14,68.80 491.20,69.29 491.26,68.65 491.32,69.68 491.38,69.23 491.44,68.59 491.50,68.98 491.56,69.07 491.62,69.28 491.68,68.83 491.74,69.09 491.80,68.94 491.86,68.89 491.92,68.86 491.98,69.18 492.04,68.98 492.10,69.13 492.16,69.13 492.22,69.02 492.28,69.51 492.34,69.31 492.40,69.18 492.46,68.69 492.52,69.36 492.58,69.07 492.64,69.05 492.70,68.77 492.76,68.90 492.82,69.49 492.88,69.21 492.94,69.01 493.00,69.07 493.06,68.86 493.12,69.19 493.18,68.85 493.24,68.81 493.30,69.41 493.36,68.97 493.42,69.29 493.48,68.76 493.54,68.89 493.60,69.19 493.66,69.05 493.72,69.05 493.78,69.02 493.84,68.42 493.90,69.14 493.96,69.02 494.02,68.50 494.08,69.22 494.14,69.29 494.20,69.55 494.26,68.99 494.32,69.22 494.38,68.47 494.44,69.71 494.50,68.98 494.56,69.11 494.62,68.97 494.68,68.73 494.74,68.54 494.80,69.14 494.86,68.58 494.92,69.20 494.98,68.80 495.04,69.15 495.10,68.96 495.16,68.84 495.22,68.80 495.28,69.18 495.34,69.25 495.40,69.37 495.46,68.59 495.52,68.89 495.58,68.99 495.64,69.42 495.70,68.97 495.76,68.45 495.82,68.86 495.88,68.33 495.94,69.36 496.00,68.99 496.06,69.18 496.12,68.19 496.18,68.90 496.24,68.66 496.30,68.96 496.36,69.28 496.42,68.66 496.48,69.40 496.54,68.93 496.60,69.22 496.66,68.84 496.72,68.42 496.78,66.95 496.84,64.02 496.90,63.21 496.96,61.35 497.02,59.65 497.08,57.77 497.14,55.60 497.20,53.91 497.26,51.81 497.32,50.50 497.38,48.77 497.44,46.48 497.50,44.65 497.56,43.04 497.62,41.49 497.68,40.35 497.74,39.44 497.80,37.59 497.86,36.59 497.92,35.38 497.98,34.34 498.04,32.50 498.10,31.85 498.16,30.35 498.22,28.71 498.28,28.37 498.34,26.54 498.40,25.28 498.46,24.14 498.52,23.15 498.58,21.82 498.64,21.03 498.70,19.57 498.76,19.41 498.82,19.96 498.88,19.71 498.94,20.29 499.00,20.91 499.06,21.32 499.12,21.67 499.18,21.56 499.24,22.08 499.30,22.39 499.36,22.87 499.42,23.21 499.48,23.29 499.54,24.03 499.60,23.72 499.66,24.43 499.72,24.63 499.78,24.97 499.84,26.24 499.90,25.70 499.96,26.53 500.02,26.44 500.08,26.63 500.14,27.53 500.20,27.17 500.26,27.74 500.32,28.19 500.38,28.17 500.44,29.36 500.50,29.08 500.56,29.67 500.62,29.54 500.68,30.13 500.74,30.43 500.80,31.11 500.86,30.95 500.92,31.14 500.98,31.97 501.04,31.94 501.10,31.93 501.16,32.62 501.22,32.98 501.28,33.56 501.34,33.79 501.40,34.12 501.46,34.60 501.52,34.22 501.58,34.98 501.64,35.06 501.70,35.20 501.76,35.77 501.82,35.65 501.88,36.28 501.94,36.28 502.00,37.08 502.06,37.40 502.12,37.06 502.18,38.01 502.24,38.14 502.30,38.80 502.36,39.16 502.42,38.94 502.48,39.28 502.54,39.36 502.60,40.14 502.66,40.23 502.72,40.64 502.78,40.27 502.84,40.81 502.90,40.80 502.96,41.19 503.02,41.04 503.08,41.16 503.14,42.00 503.20,41.41 503.26,42.13 503.32,42.87 503.38,42.03 503.44,42.49 503.50,42.89 503.56,42.42 503.62,43.29 503.68,42.98 503.74,43.03 503.80,43.76 503.86,43.66 503.92,44.39 503.98,44.56 504.04,44.77 504.10,44.48 504.16,44.70 504.22,45.19 504.28,44.75 504.34,45.67 504.40,45.93 504.46,46.31 504.52,46.09 504.58,46.02 504.64,46.87 504.70,46.38 504.76,47.10 504.82,47.08 504.88,46.72 504.94,47.50 505.00,47.80 505.06,48.10 505.12,48.28 505.18,47.82 505.24,48.65 505.30,48.53 505.36,48.77 505.42,49.39 505.48,48.94 505.54,49.80 505.60,49.68 505.66,49.14 505.72,49.54 505.78,49.58 505.84,49.77 505.90,50.16 505.96,50.45 506.02,50.72 506.08,50.29 506.14,50.69 506.20,50.40 506.26,50.62 506.32,50.69 506.38,51.15 506.44,50.55 506.50,50.92 506.56,50.79 506.62,51.38 506.68,51.45 506.74,51.65 506.80,50.94 506.86,51.46 506.92,51.62 506.98,51.96 507.04,51.65 507.10,52.25 507.16,52.36 507.22,52.29 507.28,51.58 507.34,52.06 507.40,52.87 507.46,52.62 507.52,52.39 507.58,52.43 507.64,52.85 507.70,53.13 507.76,52.62 507.82,53.19 507.88,53.62 507.94,53.78 508.00,53.43 508.06,53.22 508.12,53.81 508.18,53.39 508.24,54.19 508.30,54.06 508.36,53.40 508.42,53.97 508.48,53.96 508.54,53.58 508.60,54.71 508.66,54.27 508.72,54.29 508.78,54.59 508.84,54.45 508.90,54.38 508.96,54.80 509.02,54.55 509.08,55.12 509.14,54.53 509.20,54.70 509.26,55.46 509.32,55.07 509.38,55.00 509.44,55.68 509.50,55.26 509.56,54.94 509.62,55.23 509.68,55.58 509.74,55.69 509.80,55.24 509.86,55.68 509.92,55.54 509.98,55.81 510.04,55.73 510.10,56.10 510.16,55.91 510.22,56.39 510.28,56.02 510.34,56.44 510.40,55.94 510.46,55.92 510.52,56.54 510.58,56.24 510.64,56.48 510.70,56.41 510.76,57.08 510.82,56.82 510.88,56.95 510.94,56.53 511.00,56.82 511.06,56.76 511.12,56.96 511.18,57.21 511.24,57.06 511.30,56.89 511.36,57.76 511.42,57.55 511.48,57.02 511.54,57.10 511.60,57.49 511.66,57.39 511.72,57.59 511.78,57.47 511.84,57.26 511.90,57.48 511.96,57.55 512.02,57.70 512.08,57.66 512.14,57.05 512.20,57.67 512.26,58.34 512.32,57.80 512.38,58.54 512.44,57.97 512.50,57.68 512.56,57.97 512.62,58.37 512.68,58.27 512.74,58.55 512.80,58.38 512.86,58.63 512.92,58.33 512.98,58.04 513.04,58.81 513.10,58.88 513.16,58.64 513.22,58.19 513.28,58.69 513.34,59.06 513.40,58.69 513.46,58.71 513.52,58.57 513.58,59.22 513.64,59.34 513.70,58.87 513.76,59.41 513.82,59.19 513.88,59.87 513.94,59.25 514.00,58.78 514.06,59.06 514.12,59.72 514.18,59.21 514.24,58.87 514.30,59.99 514.36,59.39 514.42,59.25 514.48,59.92 514.54,59.30 514.60,60.08 514.66,60.55 514.72,59.92 514.78,59.77 514.84,59.71 514.90,59.77 514.96,60.84 515.02,60.15 515.08,60.23 515.14,60.07 515.20,59.91 515.26,60.47 515.32,60.19 515.38,60.50 515.44,60.18 515.50,60.32 515.56,60.35 515.62,60.05 515.68,60.54 515.74,60.91 515.80,60.36 515.86,60.64 515.92,60.53 515.98,61.25 516.04,60.88 516.10,60.18 516.16,61.07 516.22,61.41 516.28,61.34 516.34,61.52 516.40,61.27 516.46,61.34 516.52,61.10 516.58,61.08 516.64,61.30 516.70,61.72 516.76,61.74 516.82,61.24 516.88,61.11 516.94,61.81 517.00,61.52 517.06,61.17 517.12,61.63 517.18,61.53 517.24,61.20 517.30,61.32 517.36,61.20 517.42,61.95 517.48,61.69 517.54,61.91 517.60,61.77 517.66,61.72 517.72,61.78 517.78,61.73 517.84,61.33 517.90,61.80 517.96,61.86 518.02,61.72 518.08,61.92 518.14,61.90 518.20,62.03 518.26,62.01 518.32,62.36 518.38,62.50 518.44,62.48 518.50,62.13 518.56,61.87 518.62,62.32 518.68,62.12 518.74,62.08 518.80,62.41 518.86,62.46 518.92,62.37 518.98,62.99 519.04,62.50 519.10,62.42 519.16,62.71 519.22,62.77 519.28,62.48 519.34,62.83 519.40,62.44 519.46,62.30 519.52,62.56 519.58,63.03 519.64,62.56 519.70,62.26 519.76,62.59 519.82,63.04 519.88,63.10 519.94,63.00 520.00,63.04 520.06,63.20 520.12,63.45 520.18,63.26 520.24,62.80 520.30,63.58 520.36,63.45 520.42,62.87 520.48,62.78 520.54,63.07 520.60,63.81 520.66,63.56 520.72,62.67 520.78,63.37 520.84,63.56 520.90,63.31 520.96,63.71 521.02,62.91 521.08,63.57 521.14,63.58 521.20,63.70 521.26,63.40 521.32,63.86 521.38,63.26 521.44,63.77 521.50,63.51 521.56,63.80 521.62,64.20 521.68,63.48 521.74,63.49 521.80,63.74 521.86,63.40 521.92,63.62 521.98,64.09 522.04,63.61 522.10,64.00 522.16,64.00 522.22,62.97 522.28,63.33 522.34,63.93 522.40,64.22 522.46,63.93 522.52,63.91 522.58,63.67 522.64,64.01 522.70,63.92 522.76,64.33 522.82,64.47 522.88,64.15 522.94,63.35 523.00,64.11 523.06,64.38 523.12,64.07 523.18,64.64 523.24,63.92 523.30,63.69 523.36,64.51 523.42,64.03 523.48,63.94 523.54,64.18 523.60,63.95 523.66,64.21 523.72,64.10 523.78,64.21 523.84,64.67 523.90,64.06 523.96,64.51 524.02,64.60 524.08,64.31 524.14,64.06 524.20,64.65 524.26,64.78 524.32,64.35 524.38,64.36 524.44,64.43 524.50,64.60 524.56,64.62 524.62,64.51 524.68,64.85 524.74,64.79 524.80,64.55 524.86,65.06 524.92,64.94 524.98,65.24 525.04,64.58 525.10,65.22 525.16,64.70 525.22,64.66 525.28,64.78 525.34,64.27 525.40,65.07 525.46,65.04 525.52,64.60 525.58,64.78 525.64,65.28 525.70,64.87 525.76,64.85 525.82,65.13 525.88,64.91 525.94,64.63 526.00,64.84 526.06,64.52 526.12,64.83 526.18,64.99 526.24,64.95 526.30,64.97 526.36,64.50 526.42,65.13 526.48,65.35 526.54,65.04 526.60,64.90 526.66,65.47 526.72,64.92 526.78,65.48 526.84,64.92 526.90,64.96 526.96,65.03 527.02,65.62 527.08,65.69 527.14,64.90 527.20,65.55 527.26,65.65 527.32,64.85 527.38,65.27 527.44,65.17 527.50,65.87 527.56,65.20 527.62,64.86 527.68,65.15 527.74,65.70 527.80,65.20 527.86,65.84 527.92,65.67 527.98,65.84 528.04,65.36 528.10,65.76 528.16,65.44 528.22,65.57 528.28,65.54 528.34,65.86 528.40,65.59 528.46,66.27 528.52,65.35 528.58,65.76 528.64,65.92 528.70,65.67 528.76,66.44 528.82,65.86 528.88,66.17 528.94,66.09 529.00,65.95 529.06,65.58 529.12,65.57 529.18,65.61 529.24,65.92 529.30,65.95 529.36,66.34 529.42,65.53 529.48,65.68 529.54,66.30 529.60,66.46 529.66,66.14 529.72,66.09 529.78,66.68 529.84,66.07 529.90,66.09 529.96,66.46 530.02,66.54 530.08,66.00 530.14,66.63 530.20,66.13 530.26,66.50 530.32,66.40 530.38,65.86 530.44,66.47 530.50,66.20 530.56,66.20 530.62,66.19 530.68,66.39 530.74,66.14 530.80,66.21 530.86,66.24 530.92,66.76 530.98,66.43 531.04,66.21 531.10,66.99 531.16,66.60 531.22,66.39 531.28,66.25 531.34,66.47 531.40,67.01 531.46,66.42 531.52,66.37 531.58,66.39 531.64,66.88 531.70,66.99 531.76,66.78 531.82,66.89 531.88,66.34 531.94,66.80 532.00,66.17 532.06,66.84 532.12,66.10 532.18,66.11 532.24,66.63 532.30,66.67 532.36,66.91 532.42,66.47 532.48,67.22 532.54,66.27 532.60,66.94 532.66,66.92 532.72,66.72 532.78,66.51 532.84,66.99 532.90,66.94 532.96,66.60 533.02,67.20 533.08,67.76 533.14,66.65 533.20,67.37 533.26,67.40 533.32,67.03 533.38,67.39 533.44,67.34 533.50,67.09 533.56,67.35 533.62,66.80 533.68,66.69 533.74,66.83 533.80,66.96 533.86,67.68 533.92,66.36 533.98,67.35 534.04,66.85 534.10,67.33 534.16,67.53 534.22,66.99 534.28,67.27 534.34,67.57 534.40,67.10 534.46,66.80 534.52,67.15 534.58,67.44 534.64,67.17 534.70,66.95 534.76,67.64 534.82,67.14 534.88,66.90 534.94,66.85 535.00,67.08 535.06,67.54 535.12,67.31 535.18,67.41 535.24,67.18 535.30,67.29 535.36,67.75 535.42,67.41 535.48,67.37 535.54,67.58 535.60,67.07 535.66,67.21 535.72,67.01 535.78,67.54 535.84,67.71 535.90,67.63 535.96,67.66 536.02,67.10 536.08,67.41 536.14,67.95 536.20,67.69 536.26,68.03 536.32,67.74 536.38,68.16 536.44,67.37 536.50,67.09 536.56,67.16 536.62,67.28 536.68,67.52 536.74,67.47 536.80,67.81 536.86,67.63 536.92,67.83 536.98,68.16 537.04,67.73 537.10,67.08 537.16,67.85 537.22,67.96 537.28,68.12 537.34,67.88 537.40,67.89 537.46,67.85 537.52,68.09 537.58,68.28 537.64,67.23 537.70,67.76 537.76,67.98 537.82,67.55 537.88,68.08 537.94,68.08 538.00,68.06 538.06,68.07 538.12,67.91 538.18,67.86 538.24,67.95 538.30,67.95 538.36,68.03 538.42,68.11 538.48,67.79 538.54,67.95 538.60,67.99 538.66,67.74 538.72,68.03 538.78,67.99 538.84,67.72 538.90,68.07 538.96,68.04 539.02,67.42 539.08,67.96 539.14,67.90 539.20,67.68 539.26,67.86 539.32,68.40 539.38,68.65 539.44,68.09 539.50,68.12 539.56,67.87 539.62,67.78 539.68,68.04 539.74,68.05 539.80,68.39 539.86,68.83 539.92,68.09 539.98,68.09 540.04,68.56 540.10,67.87 540.16,68.96 540.22,68.56 540.28,68.41 540.34,68.47 540.40,68.50 540.46,68.24 540.52,68.40 540.58,68.59 540.64,68.55 540.70,68.05 540.76,68.24 540.82,68.40 540.88,68.16 540.94,68.55 541.00,68.09 541.06,68.39 541.12,68.55 541.18,68.35 541.24,68.58 541.30,68.14 541.36,68.57 541.42,68.94 541.48,68.79 541.54,69.23 541.60,68.05 541.66,68.61 541.72,68.59 541.78,68.86 541.84,68.86 541.90,68.33 541.96,68.72 542.02,68.36 542.08,68.47 542.14,68.53 542.20,68.60 542.26,68.13 542.32,68.99 542.38,68.27 542.44,68.74 542.50,68.85 542.56,68.77 542.62,69.02 542.68,68.59 542.74,68.78 542.80,68.69 542.86,69.01 542.92,68.41 542.98,68.80 543.04,69.09 543.10,69.53 543.16,69.20 543.22,68.49 543.28,68.67 543.34,69.19 543.40,68.69 543.46,68.60 543.52,69.09 543.58,68.97 543.64,68.86 543.70,69.23 543.76,68.47 543.82,68.41 543.88,69.35 543.94,68.46 544.00,68.83 544.06,68.70 544.12,68.94 544.18,68.70 544.24,69.00 544.30,69.31 544.36,69.16 544.42,68.98 544.48,68.81 544.54,69.34 544.60,68.36 544.66,68.47 544.72,69.04 544.78,68.98 544.84,69.49 544.90,69.44 544.96,68.64 545.02,68.97 545.08,68.68 545.14,69.46 545.20,68.90 545.26,69.11 545.32,69.16 545.38,69.65 545.44,69.43 545.50,68.93 545.56,69.31 545.62,69.59 545.68,68.84 545.74,69.08 545.80,69.89 545.86,69.70 545.92,69.42 545.98,69.33 546.04,69.38 546.10,69.16 546.16,68.81 546.22,69.87 546.28,69.36 546.34,69.04 546.40,69.62 546.46,69.05 546.52,69.84 546.58,69.45 546.64,69.44 546.70,68.94 546.76,69.44 546.82,69.78 546.88,69.59 546.94,69.27 547.00,69.45 547.06,69.37 547.12,69.53 547.18,69.54 547.24,69.27 547.30,69.71 547.36,69.66 547.42,69.47 547.48,69.46 547.54,69.43 547.60,69.39 547.66,69.17 547.72,69.26 547.78,69.37 547.84,70.03 547.90,69.12 547.96,69.30 548.02,69.57 548.08,69.75 548.14,69.49 548.20,69.31 548.26,69.15 548.32,69.44 548.38,69.73 548.44,69.64 548.50,69.72 548.56,69.72 548.62,69.79 548.68,69.59 548.74,69.11 548.80,69.98 548.86,70.02 548.92,69.73 548.98,68.97 549.04,69.29 549.10,70.17 549.16,70.15 549.22,69.48 549.28,69.73 549.34,69.35 549.40,69.91 549.46,69.62 549.52,69.41 549.58,69.13 549.64,69.96 549.70,69.45 549.76,69.75 549.82,70.25 549.88,69.79 549.94,70.31 550.00,70.33 550.06,69.99 550.12,70.05 550.18,69.87 550.24,69.76 550.30,69.28 550.36,70.20 550.42,69.70 550.48,69.70 550.54,70.08 550.60,69.35 550.66,69.78 550.72,70.05 550.78,69.38 550.84,69.86 550.90,69.64 550.96,69.66 551.02,69.66 551.08,69.30 551.14,69.86 551.20,69.92 551.26,69.60 551.32,69.63 551.38,69.53 551.44,69.82 551.50,69.86 551.56,70.26 551.62,70.45 551.68,69.91 551.74,70.08 551.80,69.51 551.86,69.24 551.92,69.91 551.98,69.91 552.04,69.86 552.10,69.63 552.16,69.68 552.22,69.68 552.28,70.11 552.34,69.83 552.40,70.08 552.46,70.07 552.52,70.41 552.58,69.83 552.64,69.56 552.70,69.58 552.76,69.93 552.82,69.91 552.88,70.26 552.94,70.43 553.00,69.71 553.06,69.94 553.12,70.31 553.18,70.13 553.24,70.70 553.30,70.06 553.36,70.34 553.42,69.56 553.48,69.86 553.54,70.50 553.60,70.63 553.66,70.19 553.72,69.66 553.78,70.22 553.84,70.35 553.90,70.22 553.96,70.11 554.02,70.11 554.08,70.04 554.14,70.30 554.20,70.08 554.26,70.48 554.32,70.35 554.38,70.02 554.44,70.06" fill="none" stroke="#000000" stroke-width="0.55" stroke-linejoin="round"/>
<polyline points="488.80,69.00 488.86,69.42 488.92,68.85 488.98,69.32 489.04,69.16 489.10,68.79 489.16,68.68 489.22,69.36 489.28,69.26 489.34,68.93 489.40,69.02 489.46,68.15 489.52,68.56 489.58,68.68 489.64,69.50 489.70,68.80 489.76,68.89 489.82,67.68 489.88,68.69 489.94,68.89 490.00,68.89 490.06,68.92 490.12,68.29 490.18,68.90 490.24,68.84 490.30,70.29 490.36,69.42 490.42,68.70 490.48,69.22 490.54,68.96 490.60,68.72 490.66,68.92 490.72,69.29 490.78,69.16 490.84,69.57 490.90,68.16 490.96,69.02 491.02,69.54 491.08,68.11 491.14,68.43 491.20,69.57 491.26,68.78 491.32,69.35 491.38,68.79 491.44,69.07 491.50,68.95 491.56,68.82 491.62,68.98 491.68,68.58 491.74,68.66 491.80,69.34 491.86,68.82 491.92,69.42 491.98,68.38 492.04,69.77 492.10,67.95 492.16,69.74 492.22,68.89 492.28,69.11 492.34,68.85 492.40,68.35 492.46,68.78 492.52,69.41 492.58,68.92 492.64,69.78 492.70,68.85 492.76,68.82 492.82,69.56 492.88,68.92 492.94,69.08 493.00,69.47 493.06,69.59 493.12,69.98 493.18,69.24 493.24,68.64 493.30,68.34 493.36,68.83 493.42,68.39 493.48,69.87 493.54,68.93 493.60,68.77 493.66,68.52 493.72,69.44 493.78,68.63 493.84,68.32 493.90,69.59 493.96,69.21 494.02,69.91 494.08,68.95 494.14,69.78 494.20,68.87 494.26,68.94 494.32,68.98 494.38,67.97 494.44,69.38 494.50,69.25 494.56,68.49 494.62,68.97 494.68,68.78 494.74,68.19 494.80,69.37 494.86,68.71 494.92,68.61 494.98,68.60 495.04,68.58 495.10,68.32 495.16,69.63 495.22,69.01 495.28,68.95 495.34,67.46 495.40,69.82 495.46,69.35 495.52,68.19 495.58,68.83 495.64,68.29 495.70,69.42 495.76,68.64 495.82,69.49 495.88,69.14 495.94,69.23 496.00,68.25 496.06,69.21 496.12,68.54 496.18,68.78 496.24,68.74 496.30,68.23 496.36,69.51 496.42,68.82 496.48,69.15 496.54,68.58 496.60,68.66 496.66,69.01 496.72,68.09 496.78,67.35 496.84,66.23 496.90,63.92 496.96,62.70 497.02,62.25 497.08,59.82 497.14,58.13 497.20,56.59 497.26,55.87 497.32,55.08 497.38,52.52 497.44,51.18 497.50,50.18 497.56,48.08 497.62,46.96 497.68,45.99 497.74,44.07 497.80,42.96 497.86,41.25 497.92,40.29 497.98,38.27 498.04,38.04 498.10,35.79 498.16,33.97 498.22,33.49 498.28,32.59 498.34,30.82 498.40,30.07 498.46,28.90 498.52,27.23 498.58,26.54 498.64,23.70 498.70,24.62 498.76,22.84 498.82,20.79 498.88,19.64 498.94,19.14 499.00,18.36 499.06,16.87 499.12,14.94 499.18,12.99 499.24,13.23 499.30,13.55 499.36,13.83 499.42,13.35 499.48,13.62 499.54,14.12 499.60,14.04 499.66,13.98 499.72,14.51 499.78,15.13 499.84,14.98 499.90,15.82 499.96,14.05 500.02,14.31 500.08,14.60 500.14,15.53 500.20,15.37 500.26,14.46 500.32,14.18 500.38,15.66 500.44,15.37 500.50,15.85 500.56,15.58 500.62,16.24 500.68,16.11 500.74,16.29 500.80,15.63 500.86,16.32 500.92,15.64 500.98,16.78 501.04,15.67 501.10,16.53 501.16,16.06 501.22,15.94 501.28,16.80 501.34,17.15 501.40,16.86 501.46,16.87 501.52,16.35 501.58,17.16 501.64,17.06 501.70,17.18 501.76,17.80 501.82,16.62 501.88,17.31 501.94,17.32 502.00,18.87 502.06,16.99 502.12,17.60 502.18,18.16 502.24,18.29 502.30,17.80 502.36,17.97 502.42,17.68 502.48,18.38 502.54,17.76 502.60,18.15 502.66,18.72 502.72,18.80 502.78,20.21 502.84,18.07 502.90,18.58 502.96,18.66 503.02,19.60 503.08,19.77 503.14,18.65 503.20,19.49 503.26,18.68 503.32,19.63 503.38,19.51 503.44,19.48 503.50,19.74 503.56,20.55 503.62,19.93 503.68,19.14 503.74,20.06 503.80,19.85 503.86,20.73 503.92,20.56 503.98,20.44 504.04,20.45 504.10,20.67 504.16,20.10 504.22,20.67 504.28,20.71 504.34,19.65 504.40,19.94 504.46,21.49 504.52,21.41 504.58,20.29 504.64,21.47 504.70,21.13 504.76,20.70 504.82,21.50 504.88,21.52 504.94,21.44 505.00,20.81 505.06,21.39 505.12,21.66 505.18,21.69 505.24,21.91 505.30,21.49 505.36,22.91 505.42,21.60 505.48,22.84 505.54,21.33 505.60,22.98 505.66,22.20 505.72,22.34 505.78,21.59 505.84,22.86 505.90,22.20 505.96,23.28 506.02,23.26 506.08,23.56 506.14,23.72 506.20,22.66 506.26,23.48 506.32,23.51 506.38,23.46 506.44,23.73 506.50,24.06 506.56,23.16 506.62,22.98 506.68,23.82 506.74,24.92 506.80,23.66 506.86,24.42 506.92,23.65 506.98,24.78 507.04,24.06 507.10,24.48 507.16,23.92 507.22,24.81 507.28,24.98 507.34,25.01 507.40,24.73 507.46,23.85 507.52,24.77 507.58,24.41 507.64,24.39 507.70,24.54 507.76,24.74 507.82,25.70 507.88,25.30 507.94,26.71 508.00,25.33 508.06,25.32 508.12,25.94 508.18,25.17 508.24,25.70 508.30,25.34 508.36,25.81 508.42,26.15 508.48,25.39 508.54,25.90 508.60,25.46 508.66,25.63 508.72,25.70 508.78,26.15 508.84,26.82 508.90,26.57 508.96,25.10 509.02,26.60 509.08,26.10 509.14,27.59 509.20,26.38 509.26,26.29 509.32,26.54 509.38,27.71 509.44,26.99 509.50,27.43 509.56,27.66 509.62,27.65 509.68,27.65 509.74,28.28 509.80,26.35 509.86,27.82 509.92,27.07 509.98,27.54 510.04,28.19 510.10,27.76 510.16,28.19 510.22,27.97 510.28,28.73 510.34,28.83 510.40,27.41 510.46,28.32 510.52,28.28 510.58,29.18 510.64,29.11 510.70,28.84 510.76,29.37 510.82,29.20 510.88,29.21 510.94,28.58 511.00,29.73 511.06,28.94 511.12,28.83 511.18,30.08 511.24,29.47 511.30,30.65 511.36,28.86 511.42,29.95 511.48,29.84 511.54,29.58 511.60,29.94 511.66,29.91 511.72,29.57 511.78,29.92 511.84,29.69 511.90,29.93 511.96,30.44 512.02,30.68 512.08,29.56 512.14,30.06 512.20,29.49 512.26,30.59 512.32,31.34 512.38,30.55 512.44,30.28 512.50,30.24 512.56,30.68 512.62,30.50 512.68,31.87 512.74,31.26 512.80,30.98 512.86,31.57 512.92,31.94 512.98,31.86 513.04,32.06 513.10,31.45 513.16,32.45 513.22,31.71 513.28,32.29 513.34,31.10 513.40,32.00 513.46,31.87 513.52,31.89 513.58,32.55 513.64,32.10 513.70,32.55 513.76,32.14 513.82,32.70 513.88,32.11 513.94,32.97 514.00,32.44 514.06,32.52 514.12,33.00 514.18,33.63 514.24,32.51 514.30,32.28 514.36,32.85 514.42,33.02 514.48,33.00 514.54,33.25 514.60,33.73 514.66,34.39 514.72,32.79 514.78,33.98 514.84,33.52 514.90,34.59 514.96,33.31 515.02,33.78 515.08,34.33 515.14,34.66 515.20,34.02 515.26,33.39 515.32,34.62 515.38,34.41 515.44,34.08 515.50,34.57 515.56,34.59 515.62,34.22 515.68,34.98 515.74,34.80 515.80,35.60 515.86,34.77 515.92,34.33 515.98,35.09 516.04,35.01 516.10,35.65 516.16,34.60 516.22,34.98 516.28,36.02 516.34,35.62 516.40,36.23 516.46,36.31 516.52,35.65 516.58,35.92 516.64,35.46 516.70,36.25 516.76,36.08 516.82,35.91 516.88,35.81 516.94,36.51 517.00,36.38 517.06,36.21 517.12,36.56 517.18,36.87 517.24,35.99 517.30,36.22 517.36,36.52 517.42,37.41 517.48,36.14 517.54,37.47 517.60,37.34 517.66,36.96 517.72,37.02 517.78,37.09 517.84,37.79 517.90,37.39 517.96,37.79 518.02,37.00 518.08,37.99 518.14,37.75 518.20,37.99 518.26,37.06 518.32,39.09 518.38,37.72 518.44,37.08 518.50,38.54 518.56,38.27 518.62,37.86 518.68,37.70 518.74,39.11 518.80,38.66 518.86,38.21 518.92,37.84 518.98,38.80 519.04,39.80 519.10,38.69 519.16,38.89 519.22,38.46 519.28,39.03 519.34,38.56 519.40,38.87 519.46,39.22 519.52,39.31 519.58,39.59 519.64,39.84 519.70,38.78 519.76,39.31 519.82,39.17 519.88,39.79 519.94,39.69 520.00,39.49 520.06,40.59 520.12,39.77 520.18,39.77 520.24,40.96 520.30,40.37 520.36,40.41 520.42,40.45 520.48,40.62 520.54,40.43 520.60,41.05 520.66,40.63 520.72,41.56 520.78,41.83 520.84,40.77 520.90,40.32 520.96,41.40 521.02,41.71 521.08,40.89 521.14,41.22 521.20,41.36 521.26,41.76 521.32,41.50 521.38,42.18 521.44,41.75 521.50,42.24 521.56,41.65 521.62,41.72 521.68,42.40 521.74,42.07 521.80,41.51 521.86,42.50 521.92,42.05 521.98,42.97 522.04,42.61 522.10,41.91 522.16,42.27 522.22,42.18 522.28,42.77 522.34,41.90 522.40,41.82 522.46,42.82 522.52,42.73 522.58,43.40 522.64,43.16 522.70,43.78 522.76,43.54 522.82,43.93 522.88,43.33 522.94,42.45 523.00,43.07 523.06,42.32 523.12,43.83 523.18,44.24 523.24,43.55 523.30,43.03 523.36,44.11 523.42,44.14 523.48,43.74 523.54,44.19 523.60,44.07 523.66,43.97 523.72,44.24 523.78,44.59 523.84,44.04 523.90,43.61 523.96,44.47 524.02,45.01 524.08,44.06 524.14,44.78 524.20,44.82 524.26,44.93 524.32,44.84 524.38,45.12 524.44,44.47 524.50,44.45 524.56,44.65 524.62,44.37 524.68,45.24 524.74,45.38 524.80,44.76 524.86,46.42 524.92,45.37 524.98,45.26 525.04,46.16 525.10,46.36 525.16,44.81 525.22,44.45 525.28,46.65 525.34,46.01 525.40,45.61 525.46,45.22 525.52,46.72 525.58,46.92 525.64,46.48 525.70,46.87 525.76,45.35 525.82,46.56 525.88,46.22 525.94,46.69 526.00,46.33 526.06,46.53 526.12,46.44 526.18,46.43 526.24,46.81 526.30,46.79 526.36,46.94 526.42,46.97 526.48,47.60 526.54,47.56 526.60,47.62 526.66,47.51 526.72,46.99 526.78,47.20 526.84,47.86 526.90,47.82 526.96,48.17 527.02,48.03 527.08,48.26 527.14,48.30 527.20,48.20 527.26,48.02 527.32,48.15 527.38,47.74 527.44,47.59 527.50,49.00 527.56,47.62 527.62,48.19 527.68,48.22 527.74,48.41 527.80,48.60 527.86,47.79 527.92,49.59 527.98,49.93 528.04,48.58 528.10,48.23 528.16,49.35 528.22,49.17 528.28,49.33 528.34,48.57 528.40,48.85 528.46,49.30 528.52,48.30 528.58,48.89 528.64,49.96 528.70,49.60 528.76,49.71 528.82,48.98 528.88,49.11 528.94,49.71 529.00,50.30 529.06,49.53 529.12,50.09 529.18,49.44 529.24,49.54 529.30,49.78 529.36,50.09 529.42,50.48 529.48,50.03 529.54,49.28 529.60,50.06 529.66,50.33 529.72,50.83 529.78,50.63 529.84,50.16 529.90,51.20 529.96,50.35 530.02,50.85 530.08,50.94 530.14,51.08 530.20,51.55 530.26,51.14 530.32,51.66 530.38,51.39 530.44,51.81 530.50,51.93 530.56,50.66 530.62,51.76 530.68,51.19 530.74,51.26 530.80,51.64 530.86,51.74 530.92,51.50 530.98,51.42 531.04,52.32 531.10,51.46 531.16,53.05 531.22,51.93 531.28,51.65 531.34,51.98 531.40,52.95 531.46,51.86 531.52,52.65 531.58,54.16 531.64,52.41 531.70,52.22 531.76,52.93 531.82,54.09 531.88,53.12 531.94,53.14 532.00,53.18 532.06,52.43 532.12,52.99 532.18,53.60 532.24,53.21 532.30,54.17 532.36,53.19 532.42,52.96 532.48,52.91 532.54,54.90 532.60,54.51 532.66,53.68 532.72,54.19 532.78,54.65 532.84,54.06 532.90,54.40 532.96,53.45 533.02,53.27 533.08,54.55 533.14,53.89 533.20,54.99 533.26,54.02 533.32,55.16 533.38,54.22 533.44,54.42 533.50,54.56 533.56,54.52 533.62,54.56 533.68,54.85 533.74,54.67 533.80,54.62 533.86,54.42 533.92,54.69 533.98,54.39 534.04,55.21 534.10,54.61 534.16,54.74 534.22,55.06 534.28,55.24 534.34,55.75 534.40,55.43 534.46,55.38 534.52,55.37 534.58,55.52 534.64,55.42 534.70,56.39 534.76,55.77 534.82,55.18 534.88,55.81 534.94,56.17 535.00,56.52 535.06,56.20 535.12,56.86 535.18,55.54 535.24,57.17 535.30,56.22 535.36,56.56 535.42,56.81 535.48,55.50 535.54,57.30 535.60,56.29 535.66,57.14 535.72,56.97 535.78,57.13 535.84,57.51 535.90,56.93 535.96,57.52 536.02,57.49 536.08,56.89 536.14,57.80 536.20,57.54 536.26,56.98 536.32,57.92 536.38,58.11 536.44,58.38 536.50,56.95 536.56,58.26 536.62,58.17 536.68,57.42 536.74,57.76 536.80,58.49 536.86,58.22 536.92,59.06 536.98,58.01 537.04,58.87 537.10,57.97 537.16,57.71 537.22,58.70 537.28,59.02 537.34,58.70 537.40,58.71 537.46,58.93 537.52,59.15 537.58,58.47 537.64,58.83 537.70,59.59 537.76,58.96 537.82,59.25 537.88,58.59 537.94,58.83 538.00,59.16 538.06,59.41 538.12,59.67 538.18,59.45 538.24,58.91 538.30,61.04 538.36,59.32 538.42,59.59 538.48,59.16 538.54,60.28 538.60,59.83 538.66,60.02 538.72,60.02 538.78,59.63 538.84,59.11 538.90,59.52 538.96,60.82 539.02,60.39 539.08,60.17 539.14,60.71 539.20,60.36 539.26,60.81 539.32,60.57 539.38,60.16 539.44,60.76 539.50,60.92 539.56,60.52 539.62,60.12 539.68,60.87 539.74,60.99 539.80,60.57 539.86,60.91 539.92,60.84 539.98,60.51 540.04,59.75 540.10,61.35 540.16,61.02 540.22,61.55 540.28,61.72 540.34,61.05 540.40,60.17 540.46,61.83 540.52,61.11 540.58,61.52 540.64,61.73 540.70,61.23 540.76,62.39 540.82,62.49 540.88,62.23 540.94,61.44 541.00,62.07 541.06,62.04 541.12,63.53 541.18,62.48 541.24,62.98 541.30,62.08 541.36,62.43 541.42,63.42 541.48,63.02 541.54,63.29 541.60,62.08 541.66,62.59 541.72,63.14 541.78,62.74 541.84,63.17 541.90,63.42 541.96,63.31 542.02,63.43 542.08,62.74 542.14,63.20 542.20,63.14 542.26,62.89 542.32,64.07 542.38,63.26 542.44,64.18 542.50,63.63 542.56,64.32 542.62,63.93 542.68,62.75 542.74,63.79 542.80,64.14 542.86,63.63 542.92,64.19 542.98,63.64 543.04,64.35 543.10,63.90 543.16,65.14 543.22,65.18 543.28,63.26 543.34,64.35 543.40,64.34 543.46,65.58 543.52,65.24 543.58,64.43 543.64,64.26 543.70,65.00 543.76,65.07 543.82,65.29 543.88,64.65 543.94,65.79 544.00,64.96 544.06,63.45 544.12,63.96 544.18,65.78 544.24,65.48 544.30,64.42 544.36,66.22 544.42,64.74 544.48,64.19 544.54,65.68 544.60,65.34 544.66,66.13 544.72,65.09 544.78,65.85 544.84,65.81 544.90,65.48 544.96,65.58 545.02,66.49 545.08,66.26 545.14,66.28 545.20,65.07 545.26,65.81 545.32,66.82 545.38,65.53 545.44,66.44 545.50,66.64 545.56,66.14 545.62,67.88 545.68,65.87 545.74,65.98 545.80,66.34 545.86,66.45 545.92,66.76 545.98,65.99 546.04,67.23 546.10,66.57 546.16,67.55 546.22,67.37 546.28,67.23 546.34,66.02 546.40,67.93 546.46,67.46 546.52,67.87 546.58,67.64 546.64,67.72 546.70,66.84 546.76,66.77 546.82,67.39 546.88,67.20 546.94,67.83 547.00,68.46 547.06,67.47 547.12,67.72 547.18,67.57 547.24,69.19 547.30,67.37 547.36,68.56 547.42,67.42 547.48,68.54 547.54,68.89 547.60,68.61 547.66,68.82 547.72,68.96 547.78,68.90 547.84,68.64 547.90,68.08 547.96,68.89 548.02,69.26 548.08,69.40 548.14,69.02 548.20,68.53 548.26,69.24 548.32,68.46 548.38,69.04 548.44,69.09 548.50,69.12 548.56,69.50 548.62,68.67 548.68,69.59 548.74,68.65 548.80,68.99 548.86,69.43 548.92,69.12 548.98,69.21 549.04,69.04 549.10,70.18 549.16,68.70 549.22,69.36 549.28,69.13 549.34,69.56 549.40,69.70 549.46,69.09 549.52,69.41 549.58,69.37 549.64,69.33 549.70,69.73 549.76,69.46 549.82,69.07 549.88,69.75 549.94,69.59 550.00,69.77 550.06,69.99 550.12,70.03 550.18,69.29 550.24,69.76 550.30,69.64 550.36,69.28 550.42,69.12 550.48,69.46 550.54,69.65 550.60,70.33 550.66,69.79 550.72,70.15 550.78,69.61 550.84,69.98 550.90,70.03 550.96,70.39 551.02,69.38 551.08,70.13 551.14,71.06 551.20,70.51 551.26,70.34 551.32,68.95 551.38,69.42 551.44,69.87 551.50,69.70 551.56,70.12 551.62,69.81 551.68,70.03 551.74,70.17 551.80,69.96 551.86,70.21 551.92,70.64 551.98,70.83 552.04,69.62 552.10,69.86 552.16,70.54 552.22,69.99 552.28,70.34 552.34,69.76 552.40,71.00 552.46,69.90 552.52,69.76 552.58,69.97 552.64,69.70 552.70,70.18 552.76,69.96 552.82,69.59 552.88,70.02 552.94,70.38 553.00,69.70 553.06,69.63 553.12,69.87 553.18,69.74 553.24,70.00 553.30,70.22 553.36,70.77 553.42,70.10 553.48,70.62 553.54,71.53 553.60,70.89 553.66,70.46 553.72,69.89 553.78,70.19 553.84,70.60 553.90,69.94 553.96,70.64 554.02,70.62 554.08,70.05 554.14,70.28 554.20,69.91 554.26,70.41 554.32,71.19 554.38,70.31 554.44,70.15" fill="none" stroke="#008000" stroke-width="0.55" stroke-linejoin="round"/>
<polyline points="488.80,68.62 488.86,69.87 488.92,68.87 488.98,69.25 489.04,68.99 489.10,69.08 489.16,69.57 489.22,69.24 489.28,69.07 489.34,69.74 489.40,69.52 489.46,69.22 489.52,68.34 489.58,69.16 489.64,69.47 489.70,68.99 489.76,69.76 489.82,68.45 489.88,69.24 489.94,68.03 490.00,68.62 490.06,69.79 490.12,69.78 490.18,69.07 490.24,69.28 490.30,69.00 490.36,69.83 490.42,69.72 490.48,68.77 490.54,68.75 490.60,68.99 490.66,68.97 490.72,69.58 490.78,68.84 490.84,68.73 490.90,69.23 490.96,69.53 491.02,69.62 491.08,68.36 491.14,69.22 491.20,68.89 491.26,68.72 491.32,69.43 491.38,69.19 491.44,69.04 491.50,69.31 491.56,69.05 491.62,68.91 491.68,69.35 491.74,69.08 491.80,69.51 491.86,69.13 491.92,68.72 491.98,69.28 492.04,69.89 492.10,69.26 492.16,69.15 492.22,68.53 492.28,69.14 492.34,69.08 492.40,69.23 492.46,69.31 492.52,68.92 492.58,68.96 492.64,68.67 492.70,69.77 492.76,68.71 492.82,68.87 492.88,68.86 492.94,69.63 493.00,68.93 493.06,68.33 493.12,69.61 493.18,69.37 493.24,69.77 493.30,69.25 493.36,69.30 493.42,68.34 493.48,69.73 493.54,69.19 493.60,70.07 493.66,68.91 493.72,68.83 493.78,68.88 493.84,69.34 493.90,69.06 493.96,68.64 494.02,69.08 494.08,69.26 494.14,69.62 494.20,68.65 494.26,69.24 494.32,69.25 494.38,69.12 494.44,69.82 494.50,69.05 494.56,68.84 494.62,68.45 494.68,68.75 494.74,68.87 494.80,68.96 494.86,69.65 494.92,69.64 494.98,68.86 495.04,69.40 495.10,69.48 495.16,69.61 495.22,69.34 495.28,68.59 495.34,68.61 495.40,69.35 495.46,69.66 495.52,69.29 495.58,69.34 495.64,69.54 495.70,69.43 495.76,69.36 495.82,69.41 495.88,69.27 495.94,68.81 496.00,68.82 496.06,68.88 496.12,69.06 496.18,68.66 496.24,69.55 496.30,69.27 496.36,69.23 496.42,68.93 496.48,69.18 496.54,70.02 496.60,69.51 496.66,69.29 496.72,69.85 496.78,68.33 496.84,68.84 496.90,68.13 496.96,67.34 497.02,66.44 497.08,66.15 497.14,66.13 497.20,65.20 497.26,64.64 497.32,64.30 497.38,64.13 497.44,64.40 497.50,63.69 497.56,63.54 497.62,61.89 497.68,61.61 497.74,61.54 497.80,60.85 497.86,60.95 497.92,60.05 497.98,59.90 498.04,58.66 498.10,58.96 498.16,59.01 498.22,58.27 498.28,57.31 498.34,57.20 498.40,56.53 498.46,55.90 498.52,56.13 498.58,54.63 498.64,54.57 498.70,54.72 498.76,53.69 498.82,53.71 498.88,53.39 498.94,52.11 499.00,51.74 499.06,50.71 499.12,51.77 499.18,51.15 499.24,50.08 499.30,49.90 499.36,49.31 499.42,50.57 499.48,48.79 499.54,48.90 499.60,48.23 499.66,47.42 499.72,47.28 499.78,46.62 499.84,44.88 499.90,45.68 499.96,45.88 500.02,46.66 500.08,45.71 500.14,46.66 500.20,45.61 500.26,45.72 500.32,45.21 500.38,47.05 500.44,46.03 500.50,45.90 500.56,46.48 500.62,46.35 500.68,46.48 500.74,47.33 500.80,46.62 500.86,47.14 500.92,46.71 500.98,46.70 501.04,47.63 501.10,47.23 501.16,46.90 501.22,48.05 501.28,46.62 501.34,46.71 501.40,47.61 501.46,47.73 501.52,47.75 501.58,47.42 501.64,46.95 501.70,47.48 501.76,46.39 501.82,47.89 501.88,47.32 501.94,46.48 502.00,47.76 502.06,47.82 502.12,47.37 502.18,48.04 502.24,47.83 502.30,48.21 502.36,47.57 502.42,48.18 502.48,48.49 502.54,47.06 502.60,48.91 502.66,48.86 502.72,48.82 502.78,47.98 502.84,49.62 502.90,49.06 502.96,50.02 503.02,48.62 503.08,49.36 503.14,49.67 503.20,49.19 503.26,49.01 503.32,49.20 503.38,50.86 503.44,50.18 503.50,49.27 503.56,49.19 503.62,50.78 503.68,50.54 503.74,50.02 503.80,49.86 503.86,50.22 503.92,50.54 503.98,50.96 504.04,50.51 504.10,50.79 504.16,51.17 504.22,51.04 504.28,50.27 504.34,51.67 504.40,50.34 504.46,50.99 504.52,51.73 504.58,50.75 504.64,52.27 504.70,51.53 504.76,50.95 504.82,51.62 504.88,51.16 504.94,51.90 505.00,51.02 505.06,52.39 505.12,52.06 505.18,52.01 505.24,52.08 505.30,52.86 505.36,52.08 505.42,52.12 505.48,52.00 505.54,52.74 505.60,52.92 505.66,52.19 505.72,53.34 505.78,52.52 505.84,52.49 505.90,52.73 505.96,52.73 506.02,53.34 506.08,53.64 506.14,54.39 506.20,53.25 506.26,52.86 506.32,53.50 506.38,53.88 506.44,53.24 506.50,53.62 506.56,53.99 506.62,54.13 506.68,53.32 506.74,53.97 506.80,54.29 506.86,54.18 506.92,54.56 506.98,54.19 507.04,54.39 507.10,54.70 507.16,54.66 507.22,54.97 507.28,54.94 507.34,54.71 507.40,54.42 507.46,55.67 507.52,54.77 507.58,55.41 507.64,55.52 507.70,54.89 507.76,54.56 507.82,55.58 507.88,55.56 507.94,54.99 508.00,55.69 508.06,56.00 508.12,56.21 508.18,56.00 508.24,55.61 508.30,56.20 508.36,55.76 508.42,55.84 508.48,56.47 508.54,56.58 508.60,56.48 508.66,56.04 508.72,56.44 508.78,56.32 508.84,56.41 508.90,56.64 508.96,56.67 509.02,56.32 509.08,56.21 509.14,57.23 509.20,57.24 509.26,57.31 509.32,57.11 509.38,57.50 509.44,56.77 509.50,57.45 509.56,57.27 509.62,57.69 509.68,57.85 509.74,57.25 509.80,57.60 509.86,56.80 509.92,57.77 509.98,58.22 510.04,58.21 510.10,58.07 510.16,58.81 510.22,58.27 510.28,58.68 510.34,58.32 510.40,57.53 510.46,58.04 510.52,58.51 510.58,58.48 510.64,59.03 510.70,59.01 510.76,59.05 510.82,57.98 510.88,59.10 510.94,59.10 511.00,59.28 511.06,59.06 511.12,59.29 511.18,59.30 511.24,59.58 511.30,58.27 511.36,58.92 511.42,58.69 511.48,59.10 511.54,59.16 511.60,59.16 511.66,59.14 511.72,58.36 511.78,59.28 511.84,59.18 511.90,59.57 511.96,58.97 512.02,60.19 512.08,59.43 512.14,59.38 512.20,60.06 512.26,59.77 512.32,59.87 512.38,60.30 512.44,60.67 512.50,59.10 512.56,59.03 512.62,60.54 512.68,59.33 512.74,59.99 512.80,60.33 512.86,59.62 512.92,60.23 512.98,60.22 513.04,59.65 513.10,59.76 513.16,59.33 513.22,59.71 513.28,60.01 513.34,60.72 513.40,60.44 513.46,60.65 513.52,59.63 513.58,60.62 513.64,60.21 513.70,59.82 513.76,59.49 513.82,60.82 513.88,60.60 513.94,60.50 514.00,60.47 514.06,60.62 514.12,60.57 514.18,60.29 514.24,61.29 514.30,61.31 514.36,60.17 514.42,61.82 514.48,61.00 514.54,61.19 514.60,60.81 514.66,61.14 514.72,62.05 514.78,60.96 514.84,60.96 514.90,61.65 514.96,61.21 515.02,60.67 515.08,61.82 515.14,60.59 515.20,60.67 515.26,61.87 515.32,61.83 515.38,60.34 515.44,61.55 515.50,61.43 515.56,61.67 515.62,60.99 515.68,61.67 515.74,62.44 515.80,61.89 515.86,60.68 515.92,61.98 515.98,62.79 516.04,62.29 516.10,61.38 516.16,61.23 516.22,61.95 516.28,62.43 516.34,61.93 516.40,62.96 516.46,62.18 516.52,62.41 516.58,62.03 516.64,62.04 516.70,62.33 516.76,62.01 516.82,63.10 516.88,62.46 516.94,62.04 517.00,61.83 517.06,62.50 517.12,62.05 517.18,62.11 517.24,62.88 517.30,61.93 517.36,62.31 517.42,61.71 517.48,62.42 517.54,61.76 517.60,62.69 517.66,62.17 517.72,62.56 517.78,61.88 517.84,63.33 517.90,62.73 517.96,63.18 518.02,63.24 518.08,63.15 518.14,61.88 518.20,63.10 518.26,62.46 518.32,63.66 518.38,62.75 518.44,62.10 518.50,62.18 518.56,62.50 518.62,63.22 518.68,62.77 518.74,62.93 518.80,63.13 518.86,62.95 518.92,63.35 518.98,64.21 519.04,63.79 519.10,61.91 519.16,62.75 519.22,63.74 519.28,63.51 519.34,63.27 519.40,64.16 519.46,61.58 519.52,62.57 519.58,63.41 519.64,63.40 519.70,63.66 519.76,63.31 519.82,63.99 519.88,63.23 519.94,62.77 520.00,63.76 520.06,63.33 520.12,63.44 520.18,63.61 520.24,63.97 520.30,63.15 520.36,63.26 520.42,63.52 520.48,63.84 520.54,64.06 520.60,64.15 520.66,64.15 520.72,64.05 520.78,64.26 520.84,63.92 520.90,63.83 520.96,64.37 521.02,63.97 521.08,63.80 521.14,63.65 521.20,64.23 521.26,63.52 521.32,63.97 521.38,64.36 521.44,63.59 521.50,64.68 521.56,63.37 521.62,64.37 521.68,64.08 521.74,64.52 521.80,64.39 521.86,63.92 521.92,63.33 521.98,63.50 522.04,64.19 522.10,63.38 522.16,65.29 522.22,63.53 522.28,63.98 522.34,64.81 522.40,64.65 522.46,64.85 522.52,64.02 522.58,64.78 522.64,64.48 522.70,64.79 522.76,64.83 522.82,64.31 522.88,64.48 522.94,64.94 523.00,64.21 523.06,64.17 523.12,64.57 523.18,63.88 523.24,64.60 523.30,64.23 523.36,64.09 523.42,64.61 523.48,64.11 523.54,63.62 523.60,64.19 523.66,64.07 523.72,64.85 523.78,65.38 523.84,65.06 523.90,64.61 523.96,64.27 524.02,63.91 524.08,64.98 524.14,64.50 524.20,64.79 524.26,64.45 524.32,63.73 524.38,64.62 524.44,64.81 524.50,65.33 524.56,65.24 524.62,64.93 524.68,64.90 524.74,65.28 524.80,64.70 524.86,64.11 524.92,65.07 524.98,65.71 525.04,64.54 525.10,64.04 525.16,65.00 525.22,65.09 525.28,64.50 525.34,65.47 525.40,65.60 525.46,64.83 525.52,66.11 525.58,65.64 525.64,64.86 525.70,65.18 525.76,65.35 525.82,65.04 525.88,64.73 525.94,64.82 526.00,65.88 526.06,64.97 526.12,65.66 526.18,65.36 526.24,66.53 526.30,65.51 526.36,65.36 526.42,65.87 526.48,65.38 526.54,64.92 526.60,65.40 526.66,65.46 526.72,65.38 526.78,65.01 526.84,65.69 526.90,65.85 526.96,65.70 527.02,64.58 527.08,64.59 527.14,65.93 527.20,65.13 527.26,65.98 527.32,65.74 527.38,65.45 527.44,65.58 527.50,65.64 527.56,65.60 527.62,65.30 527.68,66.07 527.74,65.31 527.80,65.79 527.86,65.83 527.92,65.14 527.98,65.51 528.04,65.02 528.10,65.84 528.16,65.70 528.22,65.89 528.28,65.58 528.34,65.76 528.40,65.96 528.46,65.48 528.52,66.27 528.58,65.82 528.64,65.43 528.70,65.98 528.76,65.96 528.82,65.48 528.88,65.54 528.94,65.62 529.00,66.64 529.06,65.94 529.12,66.23 529.18,66.33 529.24,66.37 529.30,66.22 529.36,66.77 529.42,66.68 529.48,65.85 529.54,66.64 529.60,65.99 529.66,66.28 529.72,67.17 529.78,67.11 529.84,66.72 529.90,66.16 529.96,66.29 530.02,66.32 530.08,65.83 530.14,66.80 530.20,66.33 530.26,67.00 530.32,66.16 530.38,65.44 530.44,66.92 530.50,66.12 530.56,66.07 530.62,66.78 530.68,66.62 530.74,66.19 530.80,67.10 530.86,66.55 530.92,66.22 530.98,66.38 531.04,67.00 531.10,67.38 531.16,66.05 531.22,65.96 531.28,66.58 531.34,67.13 531.40,66.33 531.46,66.57 531.52,66.63 531.58,66.43 531.64,65.61 531.70,66.64 531.76,66.66 531.82,67.31 531.88,66.99 531.94,65.99 532.00,66.75 532.06,66.35 532.12,67.62 532.18,67.22 532.24,67.01 532.30,66.26 532.36,66.30 532.42,66.43 532.48,67.54 532.54,67.28 532.60,66.87 532.66,66.43 532.72,66.82 532.78,66.47 532.84,67.13 532.90,66.70 532.96,67.68 533.02,66.92 533.08,66.41 533.14,67.17 533.20,67.77 533.26,66.63 533.32,67.80 533.38,66.91 533.44,66.75 533.50,65.98 533.56,67.77 533.62,67.45 533.68,67.17 533.74,66.26 533.80,67.43 533.86,66.85 533.92,66.96 533.98,67.24 534.04,66.78 534.10,67.50 534.16,66.63 534.22,67.13 534.28,67.99 534.34,67.01 534.40,66.76 534.46,67.66 534.52,67.08 534.58,66.85 534.64,66.90 534.70,67.32 534.76,67.29 534.82,67.48 534.88,66.55 534.94,66.99 535.00,66.72 535.06,67.52 535.12,66.82 535.18,67.36 535.24,67.72 535.30,67.50 535.36,67.08 535.42,67.65 535.48,67.96 535.54,67.49 535.60,67.33 535.66,67.88 535.72,67.27 535.78,67.10 535.84,67.67 535.90,66.59 535.96,67.06 536.02,68.38 536.08,67.80 536.14,67.86 536.20,67.03 536.26,67.00 536.32,67.83 536.38,67.35 536.44,67.85 536.50,68.28 536.56,68.19 536.62,68.56 536.68,67.28 536.74,68.66 536.80,67.16 536.86,67.75 536.92,67.61 536.98,67.89 537.04,67.85 537.10,67.34 537.16,68.28 537.22,67.93 537.28,68.31 537.34,68.45 537.40,68.61 537.46,67.17 537.52,67.72 537.58,67.82 537.64,67.62 537.70,67.81 537.76,68.33 537.82,67.37 537.88,67.93 537.94,67.05 538.00,68.37 538.06,67.47 538.12,68.75 538.18,67.88 538.24,68.39 538.30,67.96 538.36,68.09 538.42,68.41 538.48,67.70 538.54,67.98 538.60,67.71 538.66,67.92 538.72,67.28 538.78,67.84 538.84,67.42 538.90,67.54 538.96,68.20 539.02,67.38 539.08,68.09 539.14,68.02 539.20,67.80 539.26,68.09 539.32,68.29 539.38,68.60 539.44,68.49 539.50,68.32 539.56,67.65 539.62,67.85 539.68,68.70 539.74,67.46 539.80,67.97 539.86,68.94 539.92,67.94 539.98,68.74 540.04,68.34 540.10,67.88 540.16,67.36 540.22,67.93 540.28,67.74 540.34,68.39 540.40,68.37 540.46,68.09 540.52,67.97 540.58,68.57 540.64,68.25 540.70,68.78 540.76,68.73 540.82,68.15 540.88,69.11 540.94,68.24 541.00,68.37 541.06,68.50 541.12,68.11 541.18,68.77 541.24,68.67 541.30,68.05 541.36,69.56 541.42,68.79 541.48,68.90 541.54,67.90 541.60,68.22 541.66,68.24 541.72,68.47 541.78,69.14 541.84,69.39 541.90,67.94 541.96,68.48 542.02,68.81 542.08,68.51 542.14,68.77 542.20,68.76 542.26,69.55 542.32,68.92 542.38,68.85 542.44,69.19 542.50,68.49 542.56,68.25 542.62,68.36 542.68,68.43 542.74,67.92 542.80,69.55 542.86,68.91 542.92,68.49 542.98,68.44 543.04,69.34 543.10,68.52 543.16,69.36 543.22,69.16 543.28,69.10 543.34,69.29 543.40,68.51 543.46,68.55 543.52,68.61 543.58,68.96 543.64,69.48 543.70,69.23 543.76,69.22 543.82,68.44 543.88,69.63 543.94,69.26 544.00,69.03 544.06,69.24 544.12,68.73 544.18,68.77 544.24,68.98 544.30,69.38 544.36,68.00 544.42,69.27 544.48,68.86 544.54,69.27 544.60,68.56 544.66,69.21 544.72,68.44 544.78,70.03 544.84,69.50 544.90,68.85 544.96,69.51 545.02,69.43 545.08,69.11 545.14,68.95 545.20,68.78 545.26,69.85 545.32,69.49 545.38,69.54 545.44,68.95 545.50,69.38 545.56,69.64 545.62,69.35 545.68,69.38 545.74,69.29 545.80,70.11 545.86,69.27 545.92,69.68 545.98,69.34 546.04,69.33 546.10,69.04 546.16,69.24 546.22,69.57 546.28,68.63 546.34,69.59 546.40,69.40 546.46,68.97 546.52,69.44 546.58,69.75 546.64,69.71 546.70,69.08 546.76,69.43 546.82,69.22 546.88,69.58 546.94,69.59 547.00,68.96 547.06,69.22 547.12,70.13 547.18,69.53 547.24,69.28 547.30,69.27 547.36,69.07 547.42,69.74 547.48,69.92 547.54,69.56 547.60,69.39 547.66,69.94 547.72,69.89 547.78,70.20 547.84,70.22 547.90,68.70 547.96,69.37 548.02,69.35 548.08,69.36 548.14,69.55 548.20,70.70 548.26,69.49 548.32,69.53 548.38,69.67 548.44,70.06 548.50,69.51 548.56,68.84 548.62,69.46 548.68,69.48 548.74,69.32 548.80,69.47 548.86,70.27 548.92,69.73 548.98,70.10 549.04,70.23 549.10,69.74 549.16,70.20 549.22,69.88 549.28,69.51 549.34,70.02 549.40,69.21 549.46,71.00 549.52,70.28 549.58,69.73 549.64,69.91 549.70,68.56 549.76,69.51 549.82,70.50 549.88,70.01 549.94,69.98 550.00,69.43 550.06,69.58 550.12,70.07 550.18,69.74 550.24,69.40 550.30,69.94 550.36,69.77 550.42,69.63 550.48,70.65 550.54,70.63 550.60,69.51 550.66,69.34 550.72,69.27 550.78,69.59 550.84,69.19 550.90,69.83 550.96,70.30 551.02,69.97 551.08,69.71 551.14,70.20 551.20,70.09 551.26,69.84 551.32,70.79 551.38,70.78 551.44,69.95 551.50,69.82 551.56,70.15 551.62,70.10 551.68,70.29 551.74,69.88 551.80,70.17 551.86,69.44 551.92,70.42 551.98,70.82 552.04,69.28 552.10,70.81 552.16,70.32 552.22,69.37 552.28,70.16 552.34,70.24 552.40,70.46 552.46,70.40 552.52,69.58 552.58,70.47 552.64,69.86 552.70,69.89 552.76,69.81 552.82,69.96 552.88,69.58 552.94,69.37 553.00,70.85 553.06,70.10 553.12,69.79 553.18,70.65 553.24,70.46 553.30,69.97 553.36,70.63 553.42,69.03 553.48,70.31 553.54,70.81 553.60,70.23 553.66,70.08 553.72,69.78 553.78,70.04 553.84,70.39 553.90,69.44 553.96,69.04 554.02,70.79 554.08,70.54 554.14,70.42 554.20,70.41 554.26,70.62 554.32,69.92 554.38,70.32 554.44,70.48" fill="none" stroke="#ff0000" stroke-width="0.55" stroke-linejoin="round"/>
<polyline points="488.80,68.92 488.86,70.50 488.92,69.22 488.98,68.60 489.04,69.23 489.10,70.11 489.16,69.10 489.22,68.85 489.28,69.68 489.34,68.68 489.40,67.58 489.46,69.87 489.52,69.38 489.58,67.32 489.64,68.74 489.70,69.42 489.76,67.89 489.82,69.24 489.88,69.58 489.94,69.99 490.00,69.08 490.06,69.66 490.12,70.04 490.18,68.69 490.24,68.53 490.30,69.14 490.36,69.25 490.42,69.39 490.48,68.68 490.54,68.69 490.60,68.49 490.66,68.77 490.72,68.32 490.78,67.58 490.84,68.69 490.90,69.78 490.96,68.16 491.02,70.23 491.08,68.06 491.14,70.02 491.20,66.62 491.26,70.04 491.32,70.23 491.38,69.79 491.44,68.27 491.50,69.77 491.56,67.59 491.62,70.36 491.68,68.60 491.74,67.73 491.80,68.81 491.86,67.50 491.92,68.65 491.98,68.61 492.04,68.86 492.10,69.43 492.16,67.46 492.22,68.65 492.28,67.51 492.34,69.73 492.40,68.53 492.46,70.38 492.52,69.93 492.58,67.69 492.64,68.62 492.70,68.94 492.76,67.88 492.82,70.32 492.88,69.26 492.94,66.98 493.00,68.52 493.06,68.68 493.12,68.70 493.18,70.72 493.24,68.64 493.30,68.02 493.36,69.00 493.42,67.15 493.48,68.54 493.54,68.26 493.60,68.91 493.66,67.11 493.72,68.76 493.78,69.70 493.84,69.77 493.90,69.54 493.96,67.78 494.02,68.73 494.08,68.13 494.14,69.13 494.20,68.00 494.26,70.91 494.32,68.38 494.38,69.64 494.44,70.08 494.50,68.03 494.56,68.60 494.62,69.06 494.68,68.11 494.74,67.48 494.80,69.02 494.86,68.59 494.92,68.35 494.98,70.57 495.04,68.34 495.10,68.94 495.16,67.82 495.22,68.72 495.28,69.67 495.34,69.82 495.40,69.17 495.46,67.83 495.52,69.51 495.58,67.64 495.64,69.16 495.70,68.13 495.76,68.73 495.82,69.85 495.88,68.87 495.94,70.71 496.00,68.22 496.06,68.25 496.12,68.55 496.18,69.22 496.24,69.32 496.30,69.89 496.36,67.85 496.42,68.26 496.48,68.13 496.54,70.08 496.60,68.89 496.66,67.15 496.72,66.15 496.78,62.55 496.84,62.69 496.90,62.23 496.96,59.86 497.02,57.32 497.08,56.33 497.14,56.07 497.20,53.00 497.26,53.25 497.32,49.64 497.38,48.36 497.44,47.31 497.50,46.21 497.56,43.64 497.62,42.13 497.68,40.92 497.74,40.78 497.80,38.72 497.86,36.39 497.92,34.31 497.98,33.96 498.04,31.50 498.10,31.38 498.16,30.61 498.22,29.25 498.28,26.81 498.34,26.37 498.40,28.02 498.46,28.83 498.52,28.95 498.58,29.33 498.64,29.38 498.70,31.40 498.76,30.65 498.82,31.25 498.88,32.43 498.94,32.69 499.00,34.21 499.06,34.69 499.12,34.49 499.18,33.38 499.24,36.36 499.30,38.32 499.36,36.54 499.42,35.52 499.48,37.73 499.54,38.82 499.60,37.77 499.66,39.01 499.72,40.53 499.78,39.70 499.84,41.59 499.90,41.78 499.96,42.38 500.02,41.28 500.08,43.01 500.14,44.11 500.20,43.07 500.26,43.06 500.32,44.94 500.38,45.95 500.44,44.52 500.50,46.04 500.56,45.64 500.62,46.19 500.68,45.25 500.74,45.75 500.80,46.65 500.86,48.16 500.92,47.05 500.98,47.79 501.04,48.33 501.10,48.73 501.16,49.36 501.22,49.96 501.28,48.92 501.34,48.54 501.40,49.61 501.46,50.21 501.52,48.65 501.58,51.45 501.64,50.36 501.70,50.84 501.76,50.48 501.82,51.25 501.88,52.10 501.94,52.57 502.00,52.69 502.06,51.95 502.12,52.30 502.18,53.95 502.24,53.21 502.30,53.18 502.36,52.87 502.42,53.77 502.48,54.80 502.54,56.18 502.60,56.14 502.66,55.25 502.72,56.12 502.78,55.51 502.84,54.31 502.90,54.71 502.96,57.74 503.02,54.56 503.08,55.61 503.14,55.14 503.20,57.18 503.26,57.10 503.32,55.79 503.38,55.52 503.44,57.08 503.50,55.29 503.56,55.63 503.62,57.03 503.68,59.30 503.74,57.53 503.80,55.62 503.86,58.91 503.92,56.62 503.98,57.65 504.04,57.14 504.10,58.35 504.16,58.14 504.22,57.48 504.28,58.03 504.34,57.93 504.40,58.70 504.46,58.41 504.52,59.19 504.58,58.33 504.64,60.14 504.70,58.50 504.76,57.81 504.82,58.17 504.88,59.80 504.94,59.20 505.00,59.57 505.06,61.17 505.12,59.43 505.18,59.37 505.24,60.88 505.30,60.53 505.36,60.69 505.42,60.39 505.48,62.13 505.54,60.58 505.60,59.67 505.66,60.08 505.72,60.21 505.78,60.40 505.84,60.86 505.90,60.21 505.96,62.14 506.02,61.98 506.08,60.06 506.14,60.69 506.20,62.16 506.26,60.76 506.32,61.67 506.38,61.41 506.44,62.45 506.50,61.49 506.56,60.12 506.62,61.52 506.68,61.64 506.74,63.07 506.80,62.06 506.86,61.19 506.92,62.30 506.98,60.67 507.04,61.05 507.10,62.77 507.16,63.15 507.22,62.21 507.28,63.54 507.34,63.43 507.40,62.95 507.46,62.28 507.52,62.04 507.58,61.76 507.64,61.51 507.70,62.42 507.76,62.20 507.82,62.29 507.88,63.17 507.94,63.01 508.00,62.03 508.06,61.99 508.12,62.56 508.18,63.09 508.24,63.11 508.30,60.71 508.36,63.49 508.42,63.33 508.48,63.96 508.54,64.15 508.60,63.76 508.66,63.38 508.72,63.76 508.78,63.92 508.84,64.39 508.90,63.79 508.96,63.73 509.02,64.04 509.08,63.59 509.14,63.96 509.20,63.47 509.26,63.25 509.32,63.37 509.38,63.28 509.44,62.93 509.50,64.28 509.56,64.28 509.62,63.35 509.68,63.04 509.74,64.27 509.80,64.12 509.86,64.34 509.92,65.31 509.98,64.40 510.04,64.08 510.10,63.45 510.16,66.28 510.22,63.63 510.28,66.35 510.34,66.21 510.40,64.03 510.46,65.09 510.52,64.05 510.58,63.95 510.64,64.84 510.70,64.26 510.76,63.87 510.82,65.51 510.88,64.66 510.94,65.96 511.00,64.63 511.06,65.14 511.12,64.02 511.18,64.95 511.24,65.38 511.30,66.19 511.36,65.27 511.42,64.92 511.48,64.88 511.54,63.64 511.60,65.83 511.66,65.35 511.72,65.79 511.78,63.67 511.84,65.91 511.90,65.82 511.96,65.22 512.02,64.46 512.08,66.57 512.14,66.09 512.20,64.71 512.26,64.13 512.32,65.37 512.38,65.00 512.44,65.61 512.50,64.27 512.56,65.42 512.62,65.55 512.68,65.76 512.74,63.97 512.80,65.89 512.86,66.32 512.92,66.05 512.98,65.55 513.04,65.94 513.10,65.85 513.16,67.18 513.22,65.31 513.28,65.51 513.34,65.51 513.40,65.77 513.46,64.23 513.52,65.20 513.58,65.21 513.64,66.93 513.70,65.36 513.76,67.24 513.82,67.20 513.88,65.45 513.94,65.70 514.00,68.07 514.06,63.38 514.12,65.05 514.18,64.69 514.24,64.35 514.30,64.75 514.36,65.48 514.42,67.57 514.48,66.39 514.54,65.55 514.60,65.94 514.66,65.08 514.72,66.79 514.78,65.66 514.84,67.37 514.90,65.75 514.96,65.09 515.02,65.08 515.08,66.99 515.14,66.66 515.20,66.94 515.26,67.09 515.32,66.12 515.38,67.14 515.44,66.68 515.50,66.63 515.56,65.91 515.62,66.31 515.68,64.95 515.74,65.99 515.80,66.85 515.86,66.25 515.92,65.57 515.98,65.78 516.04,68.09 516.10,67.13 516.16,67.04 516.22,66.01 516.28,66.78 516.34,66.01 516.40,66.04 516.46,66.04 516.52,65.06 516.58,67.34 516.64,65.30 516.70,67.77 516.76,66.95 516.82,66.79 516.88,65.94 516.94,66.97 517.00,65.26 517.06,67.20 517.12,66.41 517.18,67.85 517.24,66.53 517.30,67.54 517.36,66.73 517.42,66.92 517.48,66.52 517.54,66.61 517.60,66.48 517.66,66.10 517.72,67.83 517.78,68.74 517.84,66.19 517.90,67.70 517.96,65.70 518.02,65.47 518.08,66.78 518.14,68.12 518.20,66.89 518.26,67.20 518.32,66.23 518.38,65.21 518.44,68.29 518.50,66.72 518.56,67.56 518.62,67.18 518.68,66.77 518.74,66.88 518.80,66.32 518.86,67.74 518.92,66.54 518.98,67.16 519.04,67.75 519.10,66.65 519.16,67.69 519.22,67.70 519.28,66.19 519.34,66.56 519.40,66.74 519.46,67.94 519.52,66.60 519.58,67.41 519.64,65.75 519.70,66.56 519.76,68.19 519.82,67.61 519.88,68.12 519.94,66.83 520.00,67.40 520.06,66.11 520.12,66.76 520.18,66.67 520.24,69.29 520.30,67.18 520.36,67.60 520.42,67.33 520.48,66.58 520.54,67.47 520.60,67.22 520.66,67.43 520.72,66.93 520.78,67.22 520.84,67.67 520.90,68.44 520.96,69.04 521.02,66.63 521.08,68.76 521.14,67.86 521.20,67.56 521.26,67.74 521.32,68.00 521.38,67.85 521.44,66.97 521.50,68.92 521.56,67.92 521.62,67.04 521.68,68.10 521.74,68.96 521.80,67.24 521.86,68.32 521.92,67.67 521.98,67.85 522.04,67.82 522.10,67.46 522.16,67.54 522.22,68.88 522.28,68.56 522.34,67.42 522.40,68.84 522.46,68.88 522.52,67.71 522.58,67.94 522.64,67.66 522.70,69.52 522.76,67.92 522.82,68.31 522.88,66.07 522.94,68.09 523.00,68.67 523.06,66.93 523.12,68.34 523.18,67.22 523.24,67.83 523.30,66.43 523.36,67.74 523.42,67.27 523.48,66.60 523.54,67.16 523.60,68.07 523.66,67.77 523.72,68.04 523.78,68.10 523.84,67.94 523.90,68.23 523.96,67.31 524.02,68.69 524.08,67.42 524.14,69.88 524.20,69.43 524.26,67.02 524.32,67.65 524.38,68.24 524.44,68.89 524.50,67.24 524.56,68.23 524.62,68.17 524.68,67.89 524.74,68.54 524.80,68.50 524.86,66.43 524.92,67.98 524.98,68.43 525.04,67.94 525.10,67.39 525.16,67.89 525.22,69.77 525.28,68.10 525.34,68.23 525.40,67.41 525.46,68.00 525.52,67.10 525.58,69.04 525.64,68.44 525.70,69.09 525.76,67.75 525.82,67.99 525.88,68.11 525.94,67.87 526.00,67.77 526.06,68.71 526.12,68.85 526.18,68.15 526.24,68.46 526.30,68.17 526.36,67.66 526.42,69.20 526.48,68.31 526.54,67.57 526.60,67.61 526.66,67.63 526.72,67.32 526.78,69.10 526.84,69.36 526.90,69.25 526.96,68.17 527.02,69.06 527.08,68.81 527.14,66.60 527.20,68.38 527.26,66.77 527.32,67.47 527.38,68.23 527.44,69.36 527.50,69.86 527.56,67.69 527.62,67.69 527.68,68.95 527.74,68.46 527.80,67.58 527.86,68.84 527.92,68.63 527.98,67.92 528.04,68.44 528.10,67.87 528.16,68.49 528.22,68.19 528.28,68.37 528.34,68.51 528.40,67.99 528.46,68.91 528.52,68.97 528.58,68.76 528.64,68.50 528.70,67.55 528.76,69.35 528.82,68.47 528.88,68.12 528.94,68.33 529.00,69.55 529.06,68.07 529.12,69.36 529.18,69.49 529.24,68.15 529.30,68.22 529.36,67.57 529.42,66.88 529.48,67.32 529.54,70.12 529.60,68.50 529.66,67.94 529.72,69.05 529.78,68.91 529.84,68.22 529.90,67.66 529.96,68.76 530.02,68.65 530.08,67.90 530.14,67.81 530.20,68.65 530.26,68.42 530.32,69.23 530.38,68.37 530.44,69.84 530.50,68.69 530.56,70.74 530.62,69.66 530.68,67.73 530.74,68.35 530.80,68.83 530.86,68.15 530.92,67.93 530.98,67.45 531.04,68.95 531.10,69.66 531.16,68.93 531.22,67.06 531.28,68.24 531.34,69.92 531.40,68.43 531.46,69.35 531.52,69.73 531.58,68.77 531.64,68.12 531.70,68.14 531.76,68.60 531.82,68.81 531.88,68.33 531.94,68.27 532.00,67.46 532.06,67.06 532.12,69.93 532.18,69.51 532.24,67.98 532.30,68.04 532.36,69.32 532.42,67.67 532.48,68.06 532.54,69.40 532.60,70.97 532.66,68.19 532.72,69.57 532.78,69.08 532.84,68.25 532.90,67.49 532.96,69.23 533.02,68.30 533.08,68.49 533.14,69.75 533.20,67.97 533.26,69.13 533.32,69.17 533.38,68.37 533.44,69.16 533.50,68.25 533.56,69.13 533.62,69.01 533.68,68.78 533.74,68.71 533.80,69.58 533.86,68.71 533.92,69.35 533.98,69.92 534.04,69.51 534.10,69.23 534.16,66.69 534.22,68.56 534.28,68.50 534.34,68.71 534.40,68.92 534.46,70.51 534.52,68.42 534.58,69.18 534.64,66.98 534.70,67.50 534.76,69.18 534.82,70.01 534.88,68.47 534.94,68.67 535.00,67.84 535.06,69.50 535.12,68.85 535.18,68.76 535.24,68.86 535.30,69.04 535.36,69.31 535.42,69.06 535.48,67.82 535.54,70.09 535.60,68.28 535.66,69.89 535.72,69.01 535.78,69.35 535.84,69.54 535.90,68.49 535.96,69.05 536.02,68.64 536.08,68.06 536.14,70.85 536.20,70.25 536.26,70.96 536.32,69.12 536.38,68.23 536.44,67.91 536.50,68.81 536.56,68.93 536.62,68.64 536.68,68.90 536.74,68.23 536.80,69.80 536.86,69.82 536.92,69.23 536.98,69.88 537.04,70.18 537.10,68.25 537.16,70.52 537.22,70.46 537.28,70.08 537.34,69.94 537.40,70.52 537.46,68.87 537.52,68.68 537.58,69.70 537.64,69.41 537.70,69.41 537.76,68.82 537.82,68.16 537.88,70.03 537.94,70.02 538.00,69.41 538.06,69.13 538.12,68.48 538.18,70.99 538.24,70.18 538.30,68.95 538.36,69.54 538.42,69.10 538.48,70.66 538.54,68.25 538.60,69.02 538.66,68.82 538.72,69.99 538.78,69.07 538.84,69.33 538.90,70.33 538.96,69.47 539.02,68.62 539.08,68.64 539.14,70.55 539.20,69.16 539.26,69.30 539.32,70.90 539.38,68.80 539.44,69.92 539.50,70.04 539.56,70.38 539.62,68.71 539.68,70.98 539.74,69.54 539.80,69.41 539.86,70.52 539.92,68.31 539.98,69.20 540.04,69.72 540.10,69.91 540.16,70.07 540.22,70.25 540.28,71.38 540.34,69.70 540.40,69.06 540.46,67.09 540.52,71.80 540.58,68.96 540.64,69.68 540.70,68.88 540.76,70.27 540.82,70.28 540.88,69.94 540.94,70.68 541.00,70.77 541.06,69.84 541.12,70.16 541.18,70.18 541.24,69.48 541.30,68.55 541.36,70.99 541.42,69.31 541.48,68.78 541.54,69.93 541.60,69.73 541.66,70.54 541.72,70.82 541.78,70.09 541.84,68.27 541.90,69.51 541.96,69.59 542.02,68.73 542.08,70.32 542.14,70.03 542.20,68.79 542.26,71.45 542.32,69.69 542.38,70.55 542.44,69.28 542.50,70.94 542.56,69.51 542.62,69.61 542.68,69.97 542.74,70.94 542.80,69.70 542.86,70.73 542.92,68.80 542.98,68.95 543.04,70.92 543.10,68.83 543.16,69.64 543.22,68.82 543.28,69.31 543.34,69.16 543.40,70.16 543.46,69.71 543.52,70.10 543.58,69.93 543.64,68.56 543.70,69.73 543.76,70.04 543.82,70.19 543.88,68.18 543.94,69.18 544.00,70.36 544.06,70.45 544.12,70.25 544.18,70.40 544.24,69.06 544.30,69.73 544.36,69.68 544.42,70.42 544.48,69.81 544.54,70.32 544.60,70.71 544.66,70.24 544.72,70.88 544.78,70.12 544.84,68.55 544.90,70.93 544.96,70.70 545.02,69.49 545.08,69.45 545.14,68.05 545.20,71.78 545.26,69.98 545.32,69.51 545.38,69.68 545.44,69.10 545.50,69.97 545.56,70.57 545.62,70.16 545.68,69.60 545.74,70.00 545.80,70.22 545.86,69.69 545.92,70.45 545.98,70.31 546.04,68.92 546.10,69.10 546.16,69.70 546.22,70.01 546.28,71.73 546.34,69.97 546.40,69.97 546.46,69.81 546.52,70.38 546.58,69.81 546.64,70.26 546.70,69.43 546.76,70.69 546.82,70.99 546.88,70.55 546.94,70.06 547.00,68.53 547.06,70.86 547.12,72.64 547.18,70.14 547.24,68.99 547.30,69.16 547.36,69.04 547.42,70.13 547.48,70.35 547.54,70.06 547.60,69.72 547.66,69.84 547.72,71.28 547.78,70.56 547.84,69.41 547.90,69.59 547.96,71.98 548.02,70.26 548.08,69.98 548.14,71.20 548.20,70.61 548.26,69.97 548.32,70.48 548.38,71.08 548.44,69.90 548.50,68.00 548.56,70.74 548.62,70.56 548.68,70.30 548.74,70.46 548.80,70.65 548.86,71.71 548.92,69.41 548.98,70.82 549.04,70.47 549.10,71.53 549.16,69.33 549.22,71.44 549.28,70.25 549.34,69.73 549.40,70.80 549.46,68.80 549.52,70.85 549.58,70.53 549.64,69.76 549.70,70.32 549.76,71.17 549.82,71.18 549.88,69.90 549.94,71.01 550.00,71.76 550.06,70.04 550.12,70.07 550.18,70.43 550.24,68.58 550.30,69.30 550.36,70.08 550.42,69.55 550.48,68.69 550.54,70.54 550.60,70.49 550.66,69.45 550.72,70.24 550.78,69.40 550.84,70.27 550.90,69.11 550.96,70.95 551.02,69.54 551.08,69.39 551.14,70.94 551.20,69.60 551.26,70.80 551.32,71.11 551.38,70.40 551.44,71.42 551.50,68.36 551.56,70.75 551.62,71.59 551.68,70.92 551.74,69.81 551.80,70.88 551.86,70.77 551.92,71.51 551.98,70.20 552.04,70.58 552.10,71.16 552.16,68.80 552.22,70.74 552.28,70.54 552.34,70.83 552.40,69.81 552.46,69.48 552.52,70.49 552.58,71.29 552.64,68.97 552.70,71.26 552.76,70.48 552.82,69.45 552.88,70.04 552.94,70.78 553.00,69.95 553.06,70.74 553.12,69.97 553.18,71.79 553.24,71.23 553.30,70.32 553.36,70.95 553.42,71.49 553.48,69.92 553.54,70.20 553.60,69.31 553.66,70.32 553.72,71.04 553.78,71.22 553.84,70.37 553.90,70.64 553.96,70.33 554.02,70.45 554.08,71.13 554.14,71.27 554.20,71.54 554.26,71.04 554.32,71.02 554.38,71.77 554.44,71.29" fill="none" stroke="#0000ff" stroke-width="0.55" stroke-linejoin="round"/>
<rect x="586.8" y="16.9" width="9.4" height="9.3" fill="#000000"/>
<text x="605.30" y="24.80" font-family="'Liberation Sans', sans-serif" font-size="8.3" text-anchor="start" fill="#000">jRGECO1a</text>
<rect x="586.8" y="30.6" width="9.4" height="9.3" fill="#008000"/>
<text x="605.30" y="38.50" font-family="'Liberation Sans', sans-serif" font-size="8.3" text-anchor="start" fill="#000">jRCaMP1a</text>
<rect x="586.8" y="44.9" width="9.4" height="9.3" fill="#ff0000"/>
<text x="605.30" y="52.80" font-family="'Liberation Sans', sans-serif" font-size="8.3" text-anchor="start" fill="#000">FRGECO1a</text>
<rect x="586.8" y="58.2" width="9.4" height="9.3" fill="#0000ff"/>
<text x="605.30" y="66.10" font-family="'Liberation Sans', sans-serif" font-size="8.3" text-anchor="start" fill="#000">FRGECO1c</text>
<text x="333.40" y="122.60" font-family="'Liberation Sans', sans-serif" font-size="16.9" text-anchor="start" fill="#000" stroke="#000" stroke-width="0.25">D</text>
<line x1="369.90" y1="120.30" x2="369.90" y2="192.80" stroke="#b0b0b0" stroke-width="1.2"/>
<line x1="369.30" y1="192.20" x2="429.70" y2="192.20" stroke="#b0b0b0" stroke-width="1.2"/>
<line x1="367.60" y1="133.60" x2="369.90" y2="133.60" stroke="#777" stroke-width="0.7"/>
<text x="365.70" y="137.10" font-family="'DejaVu Sans', sans-serif" font-size="7.5" text-anchor="end" fill="#000">1.5</text>
<line x1="367.60" y1="155.70" x2="369.90" y2="155.70" stroke="#777" stroke-width="0.7"/>
<text x="365.70" y="159.20" font-family="'DejaVu Sans', sans-serif" font-size="7.5" text-anchor="end" fill="#000">1.0</text>
<line x1="367.60" y1="177.80" x2="369.90" y2="177.80" stroke="#777" stroke-width="0.7"/>
<text x="365.70" y="181.30" font-family="'DejaVu Sans', sans-serif" font-size="7.5" text-anchor="end" fill="#000">0.5</text>
<line x1="372.50" y1="192.20" x2="372.50" y2="194.50" stroke="#777" stroke-width="0.7"/>
<text x="372.50" y="201.80" font-family="'DejaVu Sans', sans-serif" font-size="7.5" text-anchor="middle" fill="#000">3</text>
<line x1="389.40" y1="192.20" x2="389.40" y2="194.50" stroke="#777" stroke-width="0.7"/>
<text x="389.40" y="201.80" font-family="'DejaVu Sans', sans-serif" font-size="7.5" text-anchor="middle" fill="#000">10</text>
<line x1="427.80" y1="192.20" x2="427.80" y2="194.50" stroke="#777" stroke-width="0.7"/>
<text x="427.80" y="201.80" font-family="'DejaVu Sans', sans-serif" font-size="7.5" text-anchor="middle" fill="#000">160</text>
<text x="399.90" y="211.60" font-family="'DejaVu Sans', sans-serif" font-size="7.6" text-anchor="middle" fill="#000">No. of action potentials</text>
<text x="350.00" y="156.25" font-family="'DejaVu Sans', sans-serif" font-size="7.5" text-anchor="middle" fill="#000" transform="rotate(-90 350.00 156.25)">Peak <tspan font-style="italic">ΔF/F0</tspan></text>
<polyline points="372.48,185.65 389.39,173.29 427.76,150.53" fill="none" stroke="#000000" stroke-width="1.0" stroke-linejoin="round"/>
<path d="M372.48,184.67V186.63M370.38,184.67h4.2M370.38,186.63h4.2" stroke="#000000" stroke-width="0.85" fill="none" opacity="0.85"/>
<path d="M389.39,172.32V174.27M387.29,172.32h4.2M387.29,174.27h4.2" stroke="#000000" stroke-width="0.85" fill="none" opacity="0.85"/>
<path d="M427.76,149.23V151.83M425.66,149.23h4.2M425.66,151.83h4.2" stroke="#000000" stroke-width="0.85" fill="none" opacity="0.85"/>
<polyline points="372.48,185.00 389.39,172.32 427.76,152.15" fill="none" stroke="#008000" stroke-width="1.0" stroke-linejoin="round"/>
<path d="M372.48,184.02V185.98M370.38,184.02h4.2M370.38,185.98h4.2" stroke="#008000" stroke-width="0.85" fill="none" opacity="0.85"/>
<path d="M389.39,171.34V173.29M387.29,171.34h4.2M387.29,173.29h4.2" stroke="#008000" stroke-width="0.85" fill="none" opacity="0.85"/>
<path d="M427.76,151.18V153.13M425.66,151.18h4.2M425.66,153.13h4.2" stroke="#008000" stroke-width="0.85" fill="none" opacity="0.85"/>
<polyline points="372.48,188.25 389.39,182.40 427.76,163.54" fill="none" stroke="#ff0000" stroke-width="1.0" stroke-linejoin="round"/>
<path d="M372.48,187.60V188.90M370.38,187.60h4.2M370.38,188.90h4.2" stroke="#ff0000" stroke-width="0.85" fill="none" opacity="0.85"/>
<path d="M389.39,181.75V183.05M387.29,181.75h4.2M387.29,183.05h4.2" stroke="#ff0000" stroke-width="0.85" fill="none" opacity="0.85"/>
<path d="M427.76,162.89V164.19M425.66,162.89h4.2M425.66,164.19h4.2" stroke="#ff0000" stroke-width="0.85" fill="none" opacity="0.85"/>
<polyline points="372.48,187.93 389.39,175.89 427.76,128.74" fill="none" stroke="#0000ff" stroke-width="1.0" stroke-linejoin="round"/>
<path d="M372.48,186.95V188.90M370.38,186.95h4.2M370.38,188.90h4.2" stroke="#0000ff" stroke-width="0.85" fill="none" opacity="0.85"/>
<path d="M389.39,173.94V177.85M387.29,173.94h4.2M387.29,177.85h4.2" stroke="#0000ff" stroke-width="0.85" fill="none" opacity="0.85"/>
<path d="M427.76,123.21V134.27M425.66,123.21h4.2M425.66,134.27h4.2" stroke="#0000ff" stroke-width="0.85" fill="none" opacity="0.85"/>
<text x="447.80" y="122.70" font-family="'Liberation Sans', sans-serif" font-size="16.9" text-anchor="start" fill="#000" stroke="#000" stroke-width="0.25">E</text>
<line x1="489.60" y1="119.60" x2="489.60" y2="191.90" stroke="#5a5a5a" stroke-width="0.8"/>
<line x1="489.20" y1="191.50" x2="549.70" y2="191.50" stroke="#5a5a5a" stroke-width="0.8"/>
<line x1="487.30" y1="127.40" x2="489.60" y2="127.40" stroke="#777" stroke-width="0.7"/>
<text x="485.40" y="130.90" font-family="'DejaVu Sans', sans-serif" font-size="7.5" text-anchor="end" fill="#000">0.6</text>
<line x1="487.30" y1="155.40" x2="489.60" y2="155.40" stroke="#777" stroke-width="0.7"/>
<text x="485.40" y="158.90" font-family="'DejaVu Sans', sans-serif" font-size="7.5" text-anchor="end" fill="#000">0.4</text>
<line x1="487.30" y1="183.40" x2="489.60" y2="183.40" stroke="#777" stroke-width="0.7"/>
<text x="485.40" y="186.90" font-family="'DejaVu Sans', sans-serif" font-size="7.5" text-anchor="end" fill="#000">0.2</text>
<line x1="492.50" y1="191.50" x2="492.50" y2="193.80" stroke="#777" stroke-width="0.7"/>
<text x="492.50" y="201.10" font-family="'DejaVu Sans', sans-serif" font-size="7.5" text-anchor="middle" fill="#000">3</text>
<line x1="509.40" y1="191.50" x2="509.40" y2="193.80" stroke="#777" stroke-width="0.7"/>
<text x="509.40" y="201.10" font-family="'DejaVu Sans', sans-serif" font-size="7.5" text-anchor="middle" fill="#000">10</text>
<line x1="547.80" y1="191.50" x2="547.80" y2="193.80" stroke="#777" stroke-width="0.7"/>
<text x="547.80" y="201.10" font-family="'DejaVu Sans', sans-serif" font-size="7.5" text-anchor="middle" fill="#000">160</text>
<text x="519.75" y="210.90" font-family="'DejaVu Sans', sans-serif" font-size="7.6" text-anchor="middle" fill="#000">No. of action potentials</text>
<text x="469.00" y="155.55" font-family="'DejaVu Sans', sans-serif" font-size="7.5" text-anchor="middle" fill="#000" transform="rotate(-90 469.00 155.55)">Half rise time (s)</text>
<polyline points="492.48,186.30 509.39,184.67 547.76,162.24" fill="none" stroke="#000000" stroke-width="1.0" stroke-linejoin="round"/>
<path d="M492.48,185.33V187.28M490.38,185.33h4.2M490.38,187.28h4.2" stroke="#000000" stroke-width="0.85" fill="none" opacity="0.85"/>
<path d="M509.39,183.70V185.65M507.29,183.70h4.2M507.29,185.65h4.2" stroke="#000000" stroke-width="0.85" fill="none" opacity="0.85"/>
<path d="M547.76,161.26V163.21M545.66,161.26h4.2M545.66,163.21h4.2" stroke="#000000" stroke-width="0.85" fill="none" opacity="0.85"/>
<polyline points="492.48,184.35 509.39,180.45 547.76,157.03" fill="none" stroke="#008000" stroke-width="1.0" stroke-linejoin="round"/>
<path d="M492.48,183.05V185.65M490.38,183.05h4.2M490.38,185.65h4.2" stroke="#008000" stroke-width="0.85" fill="none" opacity="0.85"/>
<path d="M509.39,179.15V181.75M507.29,179.15h4.2M507.29,181.75h4.2" stroke="#008000" stroke-width="0.85" fill="none" opacity="0.85"/>
<path d="M547.76,155.73V158.33M545.66,155.73h4.2M545.66,158.33h4.2" stroke="#008000" stroke-width="0.85" fill="none" opacity="0.85"/>
<polyline points="492.48,170.04 509.39,165.81 547.76,125.81" fill="none" stroke="#ff0000" stroke-width="1.0" stroke-linejoin="round"/>
<path d="M492.48,167.76V172.32M490.38,167.76h4.2M490.38,172.32h4.2" stroke="#ff0000" stroke-width="0.85" fill="none" opacity="0.85"/>
<path d="M509.39,163.54V168.09M507.29,163.54h4.2M507.29,168.09h4.2" stroke="#ff0000" stroke-width="0.85" fill="none" opacity="0.85"/>
<path d="M547.76,123.21V128.41M545.66,123.21h4.2M545.66,128.41h4.2" stroke="#ff0000" stroke-width="0.85" fill="none" opacity="0.85"/>
<polyline points="492.48,184.02 509.39,179.80 547.76,129.07" fill="none" stroke="#0000ff" stroke-width="1.0" stroke-linejoin="round"/>
<path d="M492.48,180.12V187.93M490.38,180.12h4.2M490.38,187.93h4.2" stroke="#0000ff" stroke-width="0.85" fill="none" opacity="0.85"/>
<path d="M509.39,174.27V185.33M507.29,174.27h4.2M507.29,185.33h4.2" stroke="#0000ff" stroke-width="0.85" fill="none" opacity="0.85"/>
<path d="M547.76,124.19V133.94M545.66,124.19h4.2M545.66,133.94h4.2" stroke="#0000ff" stroke-width="0.85" fill="none" opacity="0.85"/>
<text x="566.00" y="122.70" font-family="'Liberation Sans', sans-serif" font-size="16.9" text-anchor="start" fill="#000" stroke="#000" stroke-width="0.25">F</text>
<line x1="610.30" y1="121.90" x2="610.30" y2="194.50" stroke="#999" stroke-width="1.0"/>
<line x1="609.80" y1="194.00" x2="670.00" y2="194.00" stroke="#999" stroke-width="1.0"/>
<line x1="608.00" y1="126.80" x2="610.30" y2="126.80" stroke="#777" stroke-width="0.7"/>
<text x="606.10" y="130.30" font-family="'DejaVu Sans', sans-serif" font-size="7.5" text-anchor="end" fill="#000">2.0</text>
<line x1="608.00" y1="146.30" x2="610.30" y2="146.30" stroke="#777" stroke-width="0.7"/>
<text x="606.10" y="149.80" font-family="'DejaVu Sans', sans-serif" font-size="7.5" text-anchor="end" fill="#000">1.5</text>
<line x1="608.00" y1="165.50" x2="610.30" y2="165.50" stroke="#777" stroke-width="0.7"/>
<text x="606.10" y="169.00" font-family="'DejaVu Sans', sans-serif" font-size="7.5" text-anchor="end" fill="#000">1.0</text>
<line x1="608.00" y1="185.00" x2="610.30" y2="185.00" stroke="#777" stroke-width="0.7"/>
<text x="606.10" y="188.50" font-family="'DejaVu Sans', sans-serif" font-size="7.5" text-anchor="end" fill="#000">0.5</text>
<line x1="612.80" y1="194.00" x2="612.80" y2="196.30" stroke="#777" stroke-width="0.7"/>
<text x="612.80" y="203.60" font-family="'DejaVu Sans', sans-serif" font-size="7.5" text-anchor="middle" fill="#000">3</text>
<line x1="629.70" y1="194.00" x2="629.70" y2="196.30" stroke="#777" stroke-width="0.7"/>
<text x="629.70" y="203.60" font-family="'DejaVu Sans', sans-serif" font-size="7.5" text-anchor="middle" fill="#000">10</text>
<line x1="668.10" y1="194.00" x2="668.10" y2="196.30" stroke="#777" stroke-width="0.7"/>
<text x="668.10" y="203.60" font-family="'DejaVu Sans', sans-serif" font-size="7.5" text-anchor="middle" fill="#000">160</text>
<text x="640.25" y="213.40" font-family="'DejaVu Sans', sans-serif" font-size="7.6" text-anchor="middle" fill="#000">No. of action potentials</text>
<text x="589.00" y="157.95" font-family="'DejaVu Sans', sans-serif" font-size="7.5" text-anchor="middle" fill="#000" transform="rotate(-90 589.00 157.95)">Half decay time (s)</text>
<polyline points="612.80,180.77 629.72,184.67 668.09,143.37" fill="none" stroke="#000000" stroke-width="1.0" stroke-linejoin="round"/>
<path d="M612.80,179.15V182.40M610.70,179.15h4.2M610.70,182.40h4.2" stroke="#000000" stroke-width="0.85" fill="none" opacity="0.85"/>
<path d="M629.72,183.05V186.30M627.62,183.05h4.2M627.62,186.30h4.2" stroke="#000000" stroke-width="0.85" fill="none" opacity="0.85"/>
<path d="M668.09,141.75V145.00M665.99,141.75h4.2M665.99,145.00h4.2" stroke="#000000" stroke-width="0.85" fill="none" opacity="0.85"/>
<polyline points="612.80,183.37 629.72,165.81 668.09,126.79" fill="none" stroke="#008000" stroke-width="1.0" stroke-linejoin="round"/>
<path d="M612.80,182.07V184.67M610.70,182.07h4.2M610.70,184.67h4.2" stroke="#008000" stroke-width="0.85" fill="none" opacity="0.85"/>
<path d="M629.72,164.51V167.11M627.62,164.51h4.2M627.62,167.11h4.2" stroke="#008000" stroke-width="0.85" fill="none" opacity="0.85"/>
<path d="M668.09,125.16V128.41M665.99,125.16h4.2M665.99,128.41h4.2" stroke="#008000" stroke-width="0.85" fill="none" opacity="0.85"/>
<polyline points="612.80,174.92 629.72,177.20 668.09,139.15" fill="none" stroke="#ff0000" stroke-width="1.0" stroke-linejoin="round"/>
<path d="M612.80,172.32V177.52M610.70,172.32h4.2M610.70,177.52h4.2" stroke="#ff0000" stroke-width="0.85" fill="none" opacity="0.85"/>
<path d="M629.72,175.89V178.50M627.62,175.89h4.2M627.62,178.50h4.2" stroke="#ff0000" stroke-width="0.85" fill="none" opacity="0.85"/>
<path d="M668.09,136.87V141.42M665.99,136.87h4.2M665.99,141.42h4.2" stroke="#ff0000" stroke-width="0.85" fill="none" opacity="0.85"/>
<polyline points="612.80,173.29 629.72,186.95 668.09,149.88" fill="none" stroke="#0000ff" stroke-width="1.0" stroke-linejoin="round"/>
<path d="M612.80,169.39V177.20M610.70,169.39h4.2M610.70,177.20h4.2" stroke="#0000ff" stroke-width="0.85" fill="none" opacity="0.85"/>
<path d="M629.72,184.02V189.88M627.62,184.02h4.2M627.62,189.88h4.2" stroke="#0000ff" stroke-width="0.85" fill="none" opacity="0.85"/>
<path d="M668.09,146.63V153.13M665.99,146.63h4.2M665.99,153.13h4.2" stroke="#0000ff" stroke-width="0.85" fill="none" opacity="0.85"/>
<text x="334.65" y="237.90" font-family="'Liberation Sans', sans-serif" font-size="16.9" text-anchor="start" fill="#000" stroke="#000" stroke-width="0.25">G</text>
<line x1="367.90" y1="242.60" x2="367.90" y2="314.57" stroke="#4a4a4a" stroke-width="0.75"/>
<line x1="367.52" y1="314.20" x2="428.00" y2="314.20" stroke="#4a4a4a" stroke-width="0.75"/>
<line x1="365.60" y1="256.30" x2="367.90" y2="256.30" stroke="#777" stroke-width="0.7"/>
<text x="363.70" y="259.80" font-family="'DejaVu Sans', sans-serif" font-size="7.5" text-anchor="end" fill="#000">30</text>
<line x1="365.60" y1="277.80" x2="367.90" y2="277.80" stroke="#777" stroke-width="0.7"/>
<text x="363.70" y="281.30" font-family="'DejaVu Sans', sans-serif" font-size="7.5" text-anchor="end" fill="#000">20</text>
<line x1="365.60" y1="299.50" x2="367.90" y2="299.50" stroke="#777" stroke-width="0.7"/>
<text x="363.70" y="303.00" font-family="'DejaVu Sans', sans-serif" font-size="7.5" text-anchor="end" fill="#000">10</text>
<line x1="370.50" y1="314.20" x2="370.50" y2="316.50" stroke="#777" stroke-width="0.7"/>
<text x="370.50" y="323.80" font-family="'DejaVu Sans', sans-serif" font-size="7.5" text-anchor="middle" fill="#000">3</text>
<line x1="387.40" y1="314.20" x2="387.40" y2="316.50" stroke="#777" stroke-width="0.7"/>
<text x="387.40" y="323.80" font-family="'DejaVu Sans', sans-serif" font-size="7.5" text-anchor="middle" fill="#000">10</text>
<line x1="425.80" y1="314.20" x2="425.80" y2="316.50" stroke="#777" stroke-width="0.7"/>
<text x="425.80" y="323.80" font-family="'DejaVu Sans', sans-serif" font-size="7.5" text-anchor="middle" fill="#000">160</text>
<text x="398.05" y="333.60" font-family="'DejaVu Sans', sans-serif" font-size="7.6" text-anchor="middle" fill="#000">No. of action potentials</text>
<text x="349.50" y="278.40" font-family="'DejaVu Sans', sans-serif" font-size="7.5" text-anchor="middle" fill="#000" transform="rotate(-90 349.50 278.40)">SNR</text>
<polyline points="370.53,307.02 387.44,292.39 425.81,263.77" fill="none" stroke="#000000" stroke-width="1.0" stroke-linejoin="round"/>
<path d="M370.53,306.05V308.00M368.43,306.05h4.2M368.43,308.00h4.2" stroke="#000000" stroke-width="0.85" fill="none" opacity="0.85"/>
<path d="M387.44,291.41V293.37M385.34,291.41h4.2M385.34,293.37h4.2" stroke="#000000" stroke-width="0.85" fill="none" opacity="0.85"/>
<path d="M425.81,262.47V265.07M423.71,262.47h4.2M423.71,265.07h4.2" stroke="#000000" stroke-width="0.85" fill="none" opacity="0.85"/>
<polyline points="370.53,304.10 387.44,283.61 425.81,258.24" fill="none" stroke="#008000" stroke-width="1.0" stroke-linejoin="round"/>
<path d="M370.53,302.80V305.40M368.43,302.80h4.2M368.43,305.40h4.2" stroke="#008000" stroke-width="0.85" fill="none" opacity="0.85"/>
<path d="M387.44,282.31V284.91M385.34,282.31h4.2M385.34,284.91h4.2" stroke="#008000" stroke-width="0.85" fill="none" opacity="0.85"/>
<path d="M425.81,256.94V259.54M423.71,256.94h4.2M423.71,259.54h4.2" stroke="#008000" stroke-width="0.85" fill="none" opacity="0.85"/>
<polyline points="370.53,310.60 387.44,304.10 425.81,281.01" fill="none" stroke="#ff0000" stroke-width="1.0" stroke-linejoin="round"/>
<path d="M370.53,309.95V311.25M368.43,309.95h4.2M368.43,311.25h4.2" stroke="#ff0000" stroke-width="0.85" fill="none" opacity="0.85"/>
<path d="M387.44,303.12V305.07M385.34,303.12h4.2M385.34,305.07h4.2" stroke="#ff0000" stroke-width="0.85" fill="none" opacity="0.85"/>
<path d="M425.81,279.71V282.31M423.71,279.71h4.2M423.71,282.31h4.2" stroke="#ff0000" stroke-width="0.85" fill="none" opacity="0.85"/>
<polyline points="370.53,310.60 387.44,300.20 425.81,251.41" fill="none" stroke="#0000ff" stroke-width="1.0" stroke-linejoin="round"/>
<path d="M370.53,309.63V311.58M368.43,309.63h4.2M368.43,311.58h4.2" stroke="#0000ff" stroke-width="0.85" fill="none" opacity="0.85"/>
<path d="M387.44,297.92V302.47M385.34,297.92h4.2M385.34,302.47h4.2" stroke="#0000ff" stroke-width="0.85" fill="none" opacity="0.85"/>
<path d="M425.81,244.59V258.24M423.71,244.59h4.2M423.71,258.24h4.2" stroke="#0000ff" stroke-width="0.85" fill="none" opacity="0.85"/>
<text x="451.50" y="237.60" font-family="'Liberation Sans', sans-serif" font-size="16.9" text-anchor="start" fill="#000" stroke="#000" stroke-width="0.25">H</text>
<rect x="492.3" y="224.4" width="63.5" height="80.0" fill="none" stroke="#909090" stroke-width="0.6"/>
<line x1="490.9" y1="233.0" x2="492.2" y2="233.0" stroke="#666" stroke-width="0.4"/>
<text x="490.00" y="234.60" font-family="'DejaVu Sans', sans-serif" font-size="4.4" text-anchor="end" fill="#333">600</text>
<line x1="490.9" y1="248.4" x2="492.2" y2="248.4" stroke="#666" stroke-width="0.4"/>
<text x="490.00" y="250.00" font-family="'DejaVu Sans', sans-serif" font-size="4.4" text-anchor="end" fill="#333">500</text>
<line x1="490.9" y1="263.8" x2="492.2" y2="263.8" stroke="#666" stroke-width="0.4"/>
<text x="490.00" y="265.40" font-family="'DejaVu Sans', sans-serif" font-size="4.4" text-anchor="end" fill="#333">400</text>
<line x1="490.9" y1="279.5" x2="492.2" y2="279.5" stroke="#666" stroke-width="0.4"/>
<text x="490.00" y="281.10" font-family="'DejaVu Sans', sans-serif" font-size="4.4" text-anchor="end" fill="#333">300</text>
<line x1="490.9" y1="294.9" x2="492.2" y2="294.9" stroke="#666" stroke-width="0.4"/>
<text x="490.00" y="296.50" font-family="'DejaVu Sans', sans-serif" font-size="4.4" text-anchor="end" fill="#333">200</text>
<text x="479.60" y="263.80" font-family="'DejaVu Sans', sans-serif" font-size="4.4" text-anchor="middle" fill="#333" transform="rotate(-90 479.60 263.80)">F0</text>
<path d="M499.9,273.9V250.5M499.9,289.6V300.8" stroke="#606060" stroke-width="0.7" fill="none"/>
<path d="M496.4,250.5h7M496.4,300.8h7" stroke="#303030" stroke-width="0.7" fill="none"/>
<rect x="493.6" y="273.9" width="12.80" height="15.70" fill="none" stroke="#505050" stroke-width="0.7"/>
<line x1="493.6" y1="284.2" x2="506.4" y2="284.2" stroke="#505050" stroke-width="0.7"/>
<path d="M516.1,263.2V228.3M516.1,287.2V301.4" stroke="#a6d6a8" stroke-width="0.7" fill="none"/>
<path d="M512.6,228.3h7M512.6,301.4h7" stroke="#2e963e" stroke-width="0.7" fill="none"/>
<rect x="509.6" y="263.2" width="13.00" height="24.00" fill="none" stroke="#2e963e" stroke-width="0.7"/>
<line x1="509.6" y1="280.1" x2="522.6" y2="280.1" stroke="#2e963e" stroke-width="0.7"/>
<path d="M532.1,275.4V255.5M532.1,288.1V300.8" stroke="#ff3838" stroke-width="0.7" fill="none"/>
<path d="M528.6,255.5h7M528.6,300.8h7" stroke="#ff2020" stroke-width="0.7" fill="none"/>
<rect x="525.6" y="275.4" width="13.00" height="12.70" fill="none" stroke="#f04444" stroke-width="0.7"/>
<line x1="525.6" y1="282.8" x2="538.6" y2="282.8" stroke="#f04444" stroke-width="0.7"/>
<path d="M547.8,280.4V266.5M547.8,291.6V299.3" stroke="#2a2aff" stroke-width="0.7" fill="none"/>
<path d="M544.3,266.5h7M544.3,299.3h7" stroke="#2a2aff" stroke-width="0.7" fill="none"/>
<rect x="541.6" y="280.4" width="12.40" height="11.20" fill="none" stroke="#5252f2" stroke-width="0.7"/>
<line x1="541.6" y1="285.4" x2="554.0" y2="285.4" stroke="#5252f2" stroke-width="0.7"/>
<text x="506.50" y="309.70" font-family="'DejaVu Sans', sans-serif" font-size="7.4" text-anchor="end" fill="#000" transform="rotate(-45 506.50 309.70)">jRGECO1a</text>
<text x="520.80" y="309.70" font-family="'DejaVu Sans', sans-serif" font-size="7.4" text-anchor="end" fill="#000" transform="rotate(-45 520.80 309.70)">jRCaMP1a</text>
<text x="535.00" y="309.70" font-family="'DejaVu Sans', sans-serif" font-size="7.4" text-anchor="end" fill="#000" transform="rotate(-45 535.00 309.70)">FRGECO1a</text>
<text x="549.20" y="309.70" font-family="'DejaVu Sans', sans-serif" font-size="7.4" text-anchor="end" fill="#000" transform="rotate(-45 549.20 309.70)">FRGECO1c</text>
</svg></body></html>
